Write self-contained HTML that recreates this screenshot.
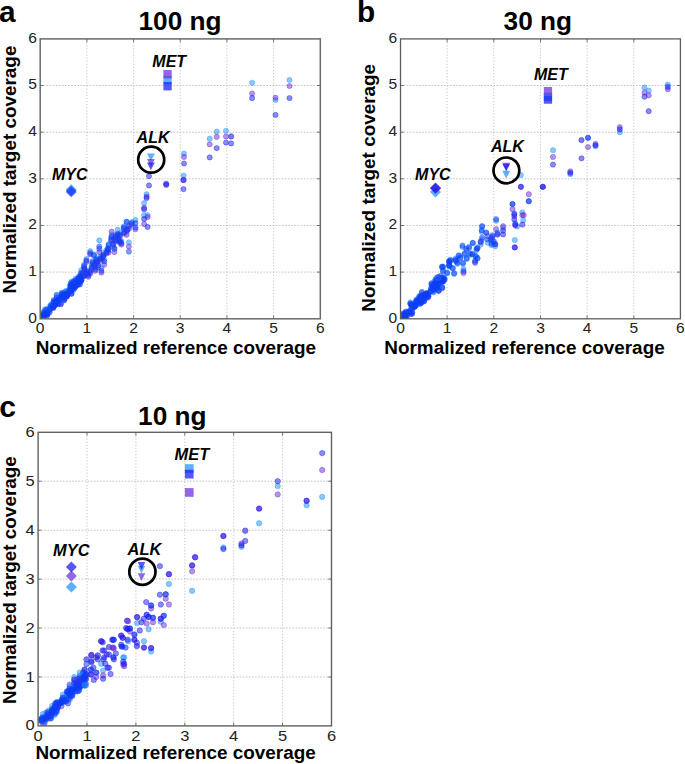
<!DOCTYPE html>
<html><head><meta charset="utf-8"><title>fig</title>
<style>
html,body{margin:0;padding:0;background:#fff;}
body{width:685px;height:764px;overflow:hidden;font-family:"Liberation Sans",sans-serif;}
svg{display:block;font-family:"Liberation Sans",sans-serif;}
.tk{font-size:13.8px;fill:#222;}
.ax{font-size:18.9px;font-weight:bold;fill:#000;}
.tt{font-size:26.2px;font-weight:bold;fill:#000;}
.pl{font-size:31.5px;font-weight:bold;fill:#000;}
.gn{font-size:16px;font-weight:bold;font-style:italic;fill:#000;}
.gr{stroke:#a9a9a9;stroke-width:0.7;stroke-dasharray:1.6 1.5;fill:none;}
.gv{stroke:#b0b0b0;stroke-width:0.7;stroke-dasharray:1.3 1.8;fill:none;}
.tm{stroke:#3c3c3c;stroke-width:0.7;fill:none;}
.fr{stroke:#6e6e6e;stroke-width:1.5;fill:none;}
</style></head><body>
<svg width="685" height="764" viewBox="0 0 685 764">
<rect width="685" height="764" fill="#fff"/>
<g id="panel-a">
<line class="gv" x1="86.9" y1="38.9" x2="86.9" y2="318.8"/>
<line class="gr" x1="40.2" y1="272.1" x2="320.3" y2="272.1"/>
<line class="gv" x1="133.6" y1="38.9" x2="133.6" y2="318.8"/>
<line class="gr" x1="40.2" y1="225.5" x2="320.3" y2="225.5"/>
<line class="gv" x1="180.2" y1="38.9" x2="180.2" y2="318.8"/>
<line class="gr" x1="40.2" y1="178.8" x2="320.3" y2="178.8"/>
<line class="gv" x1="226.9" y1="38.9" x2="226.9" y2="318.8"/>
<line class="gr" x1="40.2" y1="132.2" x2="320.3" y2="132.2"/>
<line class="gv" x1="273.6" y1="38.9" x2="273.6" y2="318.8"/>
<line class="gr" x1="40.2" y1="85.5" x2="320.3" y2="85.5"/>
<clipPath id="cp-a"><rect x="40.2" y="38.9" width="280.1" height="279.9"/></clipPath>
<g clip-path="url(#cp-a)">
<circle cx="64.2" cy="300.5" r="2.6" fill="#6a2cd8" fill-opacity="0.5" stroke="#6a2cd8" stroke-opacity="0.5" stroke-width="0.8"/>
<circle cx="69.5" cy="289.5" r="2.6" fill="#6a2cd8" fill-opacity="0.5" stroke="#6a2cd8" stroke-opacity="0.5" stroke-width="0.8"/>
<circle cx="47.7" cy="311.0" r="2.6" fill="#6a2cd8" fill-opacity="0.5" stroke="#6a2cd8" stroke-opacity="0.5" stroke-width="0.8"/>
<circle cx="44.6" cy="311.2" r="2.6" fill="#6a2cd8" fill-opacity="0.5" stroke="#6a2cd8" stroke-opacity="0.5" stroke-width="0.8"/>
<circle cx="51.0" cy="305.3" r="2.6" fill="#6a2cd8" fill-opacity="0.5" stroke="#6a2cd8" stroke-opacity="0.5" stroke-width="0.8"/>
<circle cx="55.1" cy="303.5" r="2.6" fill="#6a2cd8" fill-opacity="0.5" stroke="#6a2cd8" stroke-opacity="0.5" stroke-width="0.8"/>
<circle cx="66.8" cy="294.4" r="2.6" fill="#6a2cd8" fill-opacity="0.5" stroke="#6a2cd8" stroke-opacity="0.5" stroke-width="0.8"/>
<circle cx="56.7" cy="295.2" r="2.6" fill="#6a2cd8" fill-opacity="0.5" stroke="#6a2cd8" stroke-opacity="0.5" stroke-width="0.8"/>
<circle cx="58.4" cy="299.0" r="2.6" fill="#6a2cd8" fill-opacity="0.5" stroke="#6a2cd8" stroke-opacity="0.5" stroke-width="0.8"/>
<circle cx="62.0" cy="294.1" r="2.6" fill="#6a2cd8" fill-opacity="0.5" stroke="#6a2cd8" stroke-opacity="0.5" stroke-width="0.8"/>
<circle cx="41.2" cy="319.5" r="2.6" fill="#6a2cd8" fill-opacity="0.5" stroke="#6a2cd8" stroke-opacity="0.5" stroke-width="0.8"/>
<circle cx="61.9" cy="294.4" r="2.6" fill="#6a2cd8" fill-opacity="0.5" stroke="#6a2cd8" stroke-opacity="0.5" stroke-width="0.8"/>
<circle cx="47.3" cy="313.8" r="2.6" fill="#6a2cd8" fill-opacity="0.5" stroke="#6a2cd8" stroke-opacity="0.5" stroke-width="0.8"/>
<circle cx="55.3" cy="303.0" r="2.6" fill="#6a2cd8" fill-opacity="0.5" stroke="#6a2cd8" stroke-opacity="0.5" stroke-width="0.8"/>
<circle cx="68.4" cy="292.1" r="2.6" fill="#6a2cd8" fill-opacity="0.5" stroke="#6a2cd8" stroke-opacity="0.5" stroke-width="0.8"/>
<circle cx="71.7" cy="285.3" r="2.6" fill="#6a2cd8" fill-opacity="0.5" stroke="#6a2cd8" stroke-opacity="0.5" stroke-width="0.8"/>
<circle cx="83.5" cy="274.2" r="2.6" fill="#6a2cd8" fill-opacity="0.5" stroke="#6a2cd8" stroke-opacity="0.5" stroke-width="0.8"/>
<circle cx="61.8" cy="293.2" r="2.6" fill="#6a2cd8" fill-opacity="0.5" stroke="#6a2cd8" stroke-opacity="0.5" stroke-width="0.8"/>
<circle cx="53.7" cy="305.8" r="2.6" fill="#6a2cd8" fill-opacity="0.5" stroke="#6a2cd8" stroke-opacity="0.5" stroke-width="0.8"/>
<circle cx="46.5" cy="310.7" r="2.6" fill="#6a2cd8" fill-opacity="0.5" stroke="#6a2cd8" stroke-opacity="0.5" stroke-width="0.8"/>
<circle cx="60.8" cy="304.4" r="2.6" fill="#6a2cd8" fill-opacity="0.5" stroke="#6a2cd8" stroke-opacity="0.5" stroke-width="0.8"/>
<circle cx="79.8" cy="277.1" r="2.6" fill="#6a2cd8" fill-opacity="0.5" stroke="#6a2cd8" stroke-opacity="0.5" stroke-width="0.8"/>
<circle cx="55.4" cy="301.9" r="2.6" fill="#6a2cd8" fill-opacity="0.5" stroke="#6a2cd8" stroke-opacity="0.5" stroke-width="0.8"/>
<circle cx="82.8" cy="273.9" r="2.6" fill="#6a2cd8" fill-opacity="0.5" stroke="#6a2cd8" stroke-opacity="0.5" stroke-width="0.8"/>
<circle cx="44.4" cy="313.8" r="2.6" fill="#6a2cd8" fill-opacity="0.5" stroke="#6a2cd8" stroke-opacity="0.5" stroke-width="0.8"/>
<circle cx="78.3" cy="281.8" r="2.6" fill="#6a2cd8" fill-opacity="0.5" stroke="#6a2cd8" stroke-opacity="0.5" stroke-width="0.8"/>
<circle cx="46.2" cy="311.7" r="2.6" fill="#6a2cd8" fill-opacity="0.5" stroke="#6a2cd8" stroke-opacity="0.5" stroke-width="0.8"/>
<circle cx="56.8" cy="300.3" r="2.6" fill="#6a2cd8" fill-opacity="0.5" stroke="#6a2cd8" stroke-opacity="0.5" stroke-width="0.8"/>
<circle cx="63.9" cy="294.7" r="2.6" fill="#6a2cd8" fill-opacity="0.5" stroke="#6a2cd8" stroke-opacity="0.5" stroke-width="0.8"/>
<circle cx="49.7" cy="310.3" r="2.6" fill="#6a2cd8" fill-opacity="0.5" stroke="#6a2cd8" stroke-opacity="0.5" stroke-width="0.8"/>
<circle cx="73.4" cy="286.6" r="2.6" fill="#6a2cd8" fill-opacity="0.5" stroke="#6a2cd8" stroke-opacity="0.5" stroke-width="0.8"/>
<circle cx="81.4" cy="278.4" r="2.6" fill="#6a2cd8" fill-opacity="0.5" stroke="#6a2cd8" stroke-opacity="0.5" stroke-width="0.8"/>
<circle cx="65.4" cy="293.5" r="2.6" fill="#6a2cd8" fill-opacity="0.5" stroke="#6a2cd8" stroke-opacity="0.5" stroke-width="0.8"/>
<circle cx="67.9" cy="291.6" r="2.6" fill="#6a2cd8" fill-opacity="0.5" stroke="#6a2cd8" stroke-opacity="0.5" stroke-width="0.8"/>
<circle cx="77.2" cy="280.6" r="2.6" fill="#6a2cd8" fill-opacity="0.5" stroke="#6a2cd8" stroke-opacity="0.5" stroke-width="0.8"/>
<circle cx="80.0" cy="282.3" r="2.6" fill="#6a2cd8" fill-opacity="0.5" stroke="#6a2cd8" stroke-opacity="0.5" stroke-width="0.8"/>
<circle cx="70.9" cy="290.7" r="2.6" fill="#6a2cd8" fill-opacity="0.5" stroke="#6a2cd8" stroke-opacity="0.5" stroke-width="0.8"/>
<circle cx="71.5" cy="282.7" r="2.6" fill="#6a2cd8" fill-opacity="0.5" stroke="#6a2cd8" stroke-opacity="0.5" stroke-width="0.8"/>
<circle cx="75.1" cy="286.1" r="2.6" fill="#6a2cd8" fill-opacity="0.5" stroke="#6a2cd8" stroke-opacity="0.5" stroke-width="0.8"/>
<circle cx="75.6" cy="280.7" r="2.6" fill="#6a2cd8" fill-opacity="0.5" stroke="#6a2cd8" stroke-opacity="0.5" stroke-width="0.8"/>
<circle cx="73.7" cy="288.1" r="2.6" fill="#6a2cd8" fill-opacity="0.5" stroke="#6a2cd8" stroke-opacity="0.5" stroke-width="0.8"/>
<circle cx="42.3" cy="317.2" r="2.6" fill="#6a2cd8" fill-opacity="0.5" stroke="#6a2cd8" stroke-opacity="0.5" stroke-width="0.8"/>
<circle cx="81.2" cy="278.7" r="2.6" fill="#6a2cd8" fill-opacity="0.5" stroke="#6a2cd8" stroke-opacity="0.5" stroke-width="0.8"/>
<circle cx="72.5" cy="285.0" r="2.6" fill="#6a2cd8" fill-opacity="0.5" stroke="#6a2cd8" stroke-opacity="0.5" stroke-width="0.8"/>
<circle cx="80.3" cy="281.5" r="2.6" fill="#6a2cd8" fill-opacity="0.5" stroke="#6a2cd8" stroke-opacity="0.5" stroke-width="0.8"/>
<circle cx="65.9" cy="291.4" r="2.6" fill="#6a2cd8" fill-opacity="0.5" stroke="#6a2cd8" stroke-opacity="0.5" stroke-width="0.8"/>
<circle cx="56.7" cy="301.4" r="2.6" fill="#6a2cd8" fill-opacity="0.5" stroke="#6a2cd8" stroke-opacity="0.5" stroke-width="0.8"/>
<circle cx="62.6" cy="298.9" r="2.6" fill="#6a2cd8" fill-opacity="0.5" stroke="#6a2cd8" stroke-opacity="0.5" stroke-width="0.8"/>
<circle cx="83.9" cy="274.3" r="2.6" fill="#6a2cd8" fill-opacity="0.5" stroke="#6a2cd8" stroke-opacity="0.5" stroke-width="0.8"/>
<circle cx="44.5" cy="315.6" r="2.6" fill="#6a2cd8" fill-opacity="0.5" stroke="#6a2cd8" stroke-opacity="0.5" stroke-width="0.8"/>
<circle cx="43.0" cy="313.2" r="2.6" fill="#6a2cd8" fill-opacity="0.5" stroke="#6a2cd8" stroke-opacity="0.5" stroke-width="0.8"/>
<circle cx="54.9" cy="304.5" r="2.6" fill="#6a2cd8" fill-opacity="0.5" stroke="#6a2cd8" stroke-opacity="0.5" stroke-width="0.8"/>
<circle cx="71.1" cy="288.9" r="2.6" fill="#6a2cd8" fill-opacity="0.5" stroke="#6a2cd8" stroke-opacity="0.5" stroke-width="0.8"/>
<circle cx="53.1" cy="306.0" r="2.6" fill="#6a2cd8" fill-opacity="0.5" stroke="#6a2cd8" stroke-opacity="0.5" stroke-width="0.8"/>
<circle cx="74.3" cy="284.7" r="2.6" fill="#6a2cd8" fill-opacity="0.5" stroke="#6a2cd8" stroke-opacity="0.5" stroke-width="0.8"/>
<circle cx="66.9" cy="296.3" r="2.6" fill="#6a2cd8" fill-opacity="0.5" stroke="#6a2cd8" stroke-opacity="0.5" stroke-width="0.8"/>
<circle cx="81.3" cy="272.5" r="2.6" fill="#6a2cd8" fill-opacity="0.5" stroke="#6a2cd8" stroke-opacity="0.5" stroke-width="0.8"/>
<circle cx="64.2" cy="299.0" r="2.6" fill="#6a2cd8" fill-opacity="0.5" stroke="#6a2cd8" stroke-opacity="0.5" stroke-width="0.8"/>
<circle cx="80.3" cy="278.2" r="2.6" fill="#6a2cd8" fill-opacity="0.5" stroke="#6a2cd8" stroke-opacity="0.5" stroke-width="0.8"/>
<circle cx="53.3" cy="307.2" r="2.6" fill="#6a2cd8" fill-opacity="0.5" stroke="#6a2cd8" stroke-opacity="0.5" stroke-width="0.8"/>
<circle cx="53.7" cy="300.0" r="2.6" fill="#6a2cd8" fill-opacity="0.5" stroke="#6a2cd8" stroke-opacity="0.5" stroke-width="0.8"/>
<circle cx="77.1" cy="283.8" r="2.6" fill="#6a2cd8" fill-opacity="0.5" stroke="#6a2cd8" stroke-opacity="0.5" stroke-width="0.8"/>
<circle cx="47.0" cy="313.7" r="2.6" fill="#6a2cd8" fill-opacity="0.5" stroke="#6a2cd8" stroke-opacity="0.5" stroke-width="0.8"/>
<circle cx="43.6" cy="315.0" r="2.6" fill="#6a2cd8" fill-opacity="0.5" stroke="#6a2cd8" stroke-opacity="0.5" stroke-width="0.8"/>
<circle cx="59.2" cy="298.9" r="2.6" fill="#6a2cd8" fill-opacity="0.5" stroke="#6a2cd8" stroke-opacity="0.5" stroke-width="0.8"/>
<circle cx="74.6" cy="281.3" r="2.6" fill="#6a2cd8" fill-opacity="0.5" stroke="#6a2cd8" stroke-opacity="0.5" stroke-width="0.8"/>
<circle cx="82.8" cy="275.4" r="2.6" fill="#6a2cd8" fill-opacity="0.5" stroke="#6a2cd8" stroke-opacity="0.5" stroke-width="0.8"/>
<circle cx="74.8" cy="285.5" r="2.6" fill="#6a2cd8" fill-opacity="0.5" stroke="#6a2cd8" stroke-opacity="0.5" stroke-width="0.8"/>
<circle cx="58.2" cy="303.1" r="2.6" fill="#6a2cd8" fill-opacity="0.5" stroke="#6a2cd8" stroke-opacity="0.5" stroke-width="0.8"/>
<circle cx="79.3" cy="277.2" r="2.6" fill="#6a2cd8" fill-opacity="0.5" stroke="#6a2cd8" stroke-opacity="0.5" stroke-width="0.8"/>
<circle cx="67.5" cy="292.2" r="2.6" fill="#6a2cd8" fill-opacity="0.5" stroke="#6a2cd8" stroke-opacity="0.5" stroke-width="0.8"/>
<circle cx="66.7" cy="296.6" r="2.6" fill="#6a2cd8" fill-opacity="0.5" stroke="#6a2cd8" stroke-opacity="0.5" stroke-width="0.8"/>
<circle cx="73.4" cy="284.8" r="2.6" fill="#6a2cd8" fill-opacity="0.5" stroke="#6a2cd8" stroke-opacity="0.5" stroke-width="0.8"/>
<circle cx="81.9" cy="276.8" r="2.6" fill="#6a2cd8" fill-opacity="0.5" stroke="#6a2cd8" stroke-opacity="0.5" stroke-width="0.8"/>
<circle cx="78.0" cy="278.9" r="2.6" fill="#6a2cd8" fill-opacity="0.5" stroke="#6a2cd8" stroke-opacity="0.5" stroke-width="0.8"/>
<circle cx="70.7" cy="287.2" r="2.6" fill="#6a2cd8" fill-opacity="0.5" stroke="#6a2cd8" stroke-opacity="0.5" stroke-width="0.8"/>
<circle cx="52.8" cy="306.2" r="2.6" fill="#6a2cd8" fill-opacity="0.5" stroke="#6a2cd8" stroke-opacity="0.5" stroke-width="0.8"/>
<circle cx="70.7" cy="284.5" r="2.6" fill="#6a2cd8" fill-opacity="0.5" stroke="#6a2cd8" stroke-opacity="0.5" stroke-width="0.8"/>
<circle cx="55.5" cy="303.6" r="2.6" fill="#6a2cd8" fill-opacity="0.5" stroke="#6a2cd8" stroke-opacity="0.5" stroke-width="0.8"/>
<circle cx="62.5" cy="297.3" r="2.6" fill="#6a2cd8" fill-opacity="0.5" stroke="#6a2cd8" stroke-opacity="0.5" stroke-width="0.8"/>
<circle cx="71.5" cy="293.5" r="2.6" fill="#6a2cd8" fill-opacity="0.5" stroke="#6a2cd8" stroke-opacity="0.5" stroke-width="0.8"/>
<circle cx="54.7" cy="303.9" r="2.6" fill="#6a2cd8" fill-opacity="0.5" stroke="#6a2cd8" stroke-opacity="0.5" stroke-width="0.8"/>
<circle cx="58.4" cy="297.5" r="2.6" fill="#6a2cd8" fill-opacity="0.5" stroke="#6a2cd8" stroke-opacity="0.5" stroke-width="0.8"/>
<circle cx="49.8" cy="309.0" r="2.6" fill="#6a2cd8" fill-opacity="0.5" stroke="#6a2cd8" stroke-opacity="0.5" stroke-width="0.8"/>
<circle cx="78.6" cy="283.8" r="2.6" fill="#6a2cd8" fill-opacity="0.5" stroke="#6a2cd8" stroke-opacity="0.5" stroke-width="0.8"/>
<circle cx="64.2" cy="299.0" r="2.6" fill="#1e90ff" fill-opacity="0.5" stroke="#1e90ff" stroke-opacity="0.5" stroke-width="0.8"/>
<circle cx="69.5" cy="286.2" r="2.6" fill="#1e90ff" fill-opacity="0.5" stroke="#1e90ff" stroke-opacity="0.5" stroke-width="0.8"/>
<circle cx="47.7" cy="310.0" r="2.6" fill="#1e90ff" fill-opacity="0.5" stroke="#1e90ff" stroke-opacity="0.5" stroke-width="0.8"/>
<circle cx="44.6" cy="309.6" r="2.6" fill="#1e90ff" fill-opacity="0.5" stroke="#1e90ff" stroke-opacity="0.5" stroke-width="0.8"/>
<circle cx="51.0" cy="304.6" r="2.6" fill="#1e90ff" fill-opacity="0.5" stroke="#1e90ff" stroke-opacity="0.5" stroke-width="0.8"/>
<circle cx="55.1" cy="300.5" r="2.6" fill="#1e90ff" fill-opacity="0.5" stroke="#1e90ff" stroke-opacity="0.5" stroke-width="0.8"/>
<circle cx="66.8" cy="293.5" r="2.6" fill="#1e90ff" fill-opacity="0.5" stroke="#1e90ff" stroke-opacity="0.5" stroke-width="0.8"/>
<circle cx="56.7" cy="294.8" r="2.6" fill="#1e90ff" fill-opacity="0.5" stroke="#1e90ff" stroke-opacity="0.5" stroke-width="0.8"/>
<circle cx="58.4" cy="298.5" r="2.6" fill="#1e90ff" fill-opacity="0.5" stroke="#1e90ff" stroke-opacity="0.5" stroke-width="0.8"/>
<circle cx="62.0" cy="295.4" r="2.6" fill="#1e90ff" fill-opacity="0.5" stroke="#1e90ff" stroke-opacity="0.5" stroke-width="0.8"/>
<circle cx="41.2" cy="313.8" r="2.6" fill="#1e90ff" fill-opacity="0.5" stroke="#1e90ff" stroke-opacity="0.5" stroke-width="0.8"/>
<circle cx="61.9" cy="292.7" r="2.6" fill="#1e90ff" fill-opacity="0.5" stroke="#1e90ff" stroke-opacity="0.5" stroke-width="0.8"/>
<circle cx="47.3" cy="310.5" r="2.6" fill="#1e90ff" fill-opacity="0.5" stroke="#1e90ff" stroke-opacity="0.5" stroke-width="0.8"/>
<circle cx="55.3" cy="301.8" r="2.6" fill="#1e90ff" fill-opacity="0.5" stroke="#1e90ff" stroke-opacity="0.5" stroke-width="0.8"/>
<circle cx="68.4" cy="290.7" r="2.6" fill="#1e90ff" fill-opacity="0.5" stroke="#1e90ff" stroke-opacity="0.5" stroke-width="0.8"/>
<circle cx="71.7" cy="283.7" r="2.6" fill="#1e90ff" fill-opacity="0.5" stroke="#1e90ff" stroke-opacity="0.5" stroke-width="0.8"/>
<circle cx="83.5" cy="274.3" r="2.6" fill="#1e90ff" fill-opacity="0.5" stroke="#1e90ff" stroke-opacity="0.5" stroke-width="0.8"/>
<circle cx="61.8" cy="295.3" r="2.6" fill="#1e90ff" fill-opacity="0.5" stroke="#1e90ff" stroke-opacity="0.5" stroke-width="0.8"/>
<circle cx="53.7" cy="302.7" r="2.6" fill="#1e90ff" fill-opacity="0.5" stroke="#1e90ff" stroke-opacity="0.5" stroke-width="0.8"/>
<circle cx="46.5" cy="308.9" r="2.6" fill="#1e90ff" fill-opacity="0.5" stroke="#1e90ff" stroke-opacity="0.5" stroke-width="0.8"/>
<circle cx="60.8" cy="301.3" r="2.6" fill="#1e90ff" fill-opacity="0.5" stroke="#1e90ff" stroke-opacity="0.5" stroke-width="0.8"/>
<circle cx="79.8" cy="276.9" r="2.6" fill="#1e90ff" fill-opacity="0.5" stroke="#1e90ff" stroke-opacity="0.5" stroke-width="0.8"/>
<circle cx="55.4" cy="299.9" r="2.6" fill="#1e90ff" fill-opacity="0.5" stroke="#1e90ff" stroke-opacity="0.5" stroke-width="0.8"/>
<circle cx="82.8" cy="273.2" r="2.6" fill="#1e90ff" fill-opacity="0.5" stroke="#1e90ff" stroke-opacity="0.5" stroke-width="0.8"/>
<circle cx="44.4" cy="312.5" r="2.6" fill="#1e90ff" fill-opacity="0.5" stroke="#1e90ff" stroke-opacity="0.5" stroke-width="0.8"/>
<circle cx="78.3" cy="281.8" r="2.6" fill="#1e90ff" fill-opacity="0.5" stroke="#1e90ff" stroke-opacity="0.5" stroke-width="0.8"/>
<circle cx="46.2" cy="310.1" r="2.6" fill="#1e90ff" fill-opacity="0.5" stroke="#1e90ff" stroke-opacity="0.5" stroke-width="0.8"/>
<circle cx="56.8" cy="300.2" r="2.6" fill="#1e90ff" fill-opacity="0.5" stroke="#1e90ff" stroke-opacity="0.5" stroke-width="0.8"/>
<circle cx="63.9" cy="292.5" r="2.6" fill="#1e90ff" fill-opacity="0.5" stroke="#1e90ff" stroke-opacity="0.5" stroke-width="0.8"/>
<circle cx="49.7" cy="309.0" r="2.6" fill="#1e90ff" fill-opacity="0.5" stroke="#1e90ff" stroke-opacity="0.5" stroke-width="0.8"/>
<circle cx="73.4" cy="285.8" r="2.6" fill="#1e90ff" fill-opacity="0.5" stroke="#1e90ff" stroke-opacity="0.5" stroke-width="0.8"/>
<circle cx="81.4" cy="280.8" r="2.6" fill="#1e90ff" fill-opacity="0.5" stroke="#1e90ff" stroke-opacity="0.5" stroke-width="0.8"/>
<circle cx="65.4" cy="293.5" r="2.6" fill="#1e90ff" fill-opacity="0.5" stroke="#1e90ff" stroke-opacity="0.5" stroke-width="0.8"/>
<circle cx="67.9" cy="292.4" r="2.6" fill="#1e90ff" fill-opacity="0.5" stroke="#1e90ff" stroke-opacity="0.5" stroke-width="0.8"/>
<circle cx="77.2" cy="279.0" r="2.6" fill="#1e90ff" fill-opacity="0.5" stroke="#1e90ff" stroke-opacity="0.5" stroke-width="0.8"/>
<circle cx="80.0" cy="281.1" r="2.6" fill="#1e90ff" fill-opacity="0.5" stroke="#1e90ff" stroke-opacity="0.5" stroke-width="0.8"/>
<circle cx="70.9" cy="288.4" r="2.6" fill="#1e90ff" fill-opacity="0.5" stroke="#1e90ff" stroke-opacity="0.5" stroke-width="0.8"/>
<circle cx="71.5" cy="281.5" r="2.6" fill="#1e90ff" fill-opacity="0.5" stroke="#1e90ff" stroke-opacity="0.5" stroke-width="0.8"/>
<circle cx="75.1" cy="285.6" r="2.6" fill="#1e90ff" fill-opacity="0.5" stroke="#1e90ff" stroke-opacity="0.5" stroke-width="0.8"/>
<circle cx="75.6" cy="278.6" r="2.6" fill="#1e90ff" fill-opacity="0.5" stroke="#1e90ff" stroke-opacity="0.5" stroke-width="0.8"/>
<circle cx="73.7" cy="287.5" r="2.6" fill="#1e90ff" fill-opacity="0.5" stroke="#1e90ff" stroke-opacity="0.5" stroke-width="0.8"/>
<circle cx="42.3" cy="314.9" r="2.6" fill="#1e90ff" fill-opacity="0.5" stroke="#1e90ff" stroke-opacity="0.5" stroke-width="0.8"/>
<circle cx="81.2" cy="279.0" r="2.6" fill="#1e90ff" fill-opacity="0.5" stroke="#1e90ff" stroke-opacity="0.5" stroke-width="0.8"/>
<circle cx="72.5" cy="283.6" r="2.6" fill="#1e90ff" fill-opacity="0.5" stroke="#1e90ff" stroke-opacity="0.5" stroke-width="0.8"/>
<circle cx="80.3" cy="279.3" r="2.6" fill="#1e90ff" fill-opacity="0.5" stroke="#1e90ff" stroke-opacity="0.5" stroke-width="0.8"/>
<circle cx="65.9" cy="291.2" r="2.6" fill="#1e90ff" fill-opacity="0.5" stroke="#1e90ff" stroke-opacity="0.5" stroke-width="0.8"/>
<circle cx="56.7" cy="299.3" r="2.6" fill="#1e90ff" fill-opacity="0.5" stroke="#1e90ff" stroke-opacity="0.5" stroke-width="0.8"/>
<circle cx="62.6" cy="297.8" r="2.6" fill="#1e90ff" fill-opacity="0.5" stroke="#1e90ff" stroke-opacity="0.5" stroke-width="0.8"/>
<circle cx="83.9" cy="274.9" r="2.6" fill="#1e90ff" fill-opacity="0.5" stroke="#1e90ff" stroke-opacity="0.5" stroke-width="0.8"/>
<circle cx="44.5" cy="315.0" r="2.6" fill="#1e90ff" fill-opacity="0.5" stroke="#1e90ff" stroke-opacity="0.5" stroke-width="0.8"/>
<circle cx="43.0" cy="313.0" r="2.6" fill="#1e90ff" fill-opacity="0.5" stroke="#1e90ff" stroke-opacity="0.5" stroke-width="0.8"/>
<circle cx="54.9" cy="302.4" r="2.6" fill="#1e90ff" fill-opacity="0.5" stroke="#1e90ff" stroke-opacity="0.5" stroke-width="0.8"/>
<circle cx="71.1" cy="290.5" r="2.6" fill="#1e90ff" fill-opacity="0.5" stroke="#1e90ff" stroke-opacity="0.5" stroke-width="0.8"/>
<circle cx="53.1" cy="305.8" r="2.6" fill="#1e90ff" fill-opacity="0.5" stroke="#1e90ff" stroke-opacity="0.5" stroke-width="0.8"/>
<circle cx="74.3" cy="282.0" r="2.6" fill="#1e90ff" fill-opacity="0.5" stroke="#1e90ff" stroke-opacity="0.5" stroke-width="0.8"/>
<circle cx="66.9" cy="294.8" r="2.6" fill="#1e90ff" fill-opacity="0.5" stroke="#1e90ff" stroke-opacity="0.5" stroke-width="0.8"/>
<circle cx="81.3" cy="270.1" r="2.6" fill="#1e90ff" fill-opacity="0.5" stroke="#1e90ff" stroke-opacity="0.5" stroke-width="0.8"/>
<circle cx="64.2" cy="298.4" r="2.6" fill="#1e90ff" fill-opacity="0.5" stroke="#1e90ff" stroke-opacity="0.5" stroke-width="0.8"/>
<circle cx="80.3" cy="277.8" r="2.6" fill="#1e90ff" fill-opacity="0.5" stroke="#1e90ff" stroke-opacity="0.5" stroke-width="0.8"/>
<circle cx="53.3" cy="306.8" r="2.6" fill="#1e90ff" fill-opacity="0.5" stroke="#1e90ff" stroke-opacity="0.5" stroke-width="0.8"/>
<circle cx="53.7" cy="301.5" r="2.6" fill="#1e90ff" fill-opacity="0.5" stroke="#1e90ff" stroke-opacity="0.5" stroke-width="0.8"/>
<circle cx="77.1" cy="281.3" r="2.6" fill="#1e90ff" fill-opacity="0.5" stroke="#1e90ff" stroke-opacity="0.5" stroke-width="0.8"/>
<circle cx="47.0" cy="312.3" r="2.6" fill="#1e90ff" fill-opacity="0.5" stroke="#1e90ff" stroke-opacity="0.5" stroke-width="0.8"/>
<circle cx="43.6" cy="314.3" r="2.6" fill="#1e90ff" fill-opacity="0.5" stroke="#1e90ff" stroke-opacity="0.5" stroke-width="0.8"/>
<circle cx="59.2" cy="298.9" r="2.6" fill="#1e90ff" fill-opacity="0.5" stroke="#1e90ff" stroke-opacity="0.5" stroke-width="0.8"/>
<circle cx="74.6" cy="282.4" r="2.6" fill="#1e90ff" fill-opacity="0.5" stroke="#1e90ff" stroke-opacity="0.5" stroke-width="0.8"/>
<circle cx="82.8" cy="273.1" r="2.6" fill="#1e90ff" fill-opacity="0.5" stroke="#1e90ff" stroke-opacity="0.5" stroke-width="0.8"/>
<circle cx="74.8" cy="285.8" r="2.6" fill="#1e90ff" fill-opacity="0.5" stroke="#1e90ff" stroke-opacity="0.5" stroke-width="0.8"/>
<circle cx="58.2" cy="301.2" r="2.6" fill="#1e90ff" fill-opacity="0.5" stroke="#1e90ff" stroke-opacity="0.5" stroke-width="0.8"/>
<circle cx="79.3" cy="275.7" r="2.6" fill="#1e90ff" fill-opacity="0.5" stroke="#1e90ff" stroke-opacity="0.5" stroke-width="0.8"/>
<circle cx="67.5" cy="293.5" r="2.6" fill="#1e90ff" fill-opacity="0.5" stroke="#1e90ff" stroke-opacity="0.5" stroke-width="0.8"/>
<circle cx="66.7" cy="293.4" r="2.6" fill="#1e90ff" fill-opacity="0.5" stroke="#1e90ff" stroke-opacity="0.5" stroke-width="0.8"/>
<circle cx="73.4" cy="281.2" r="2.6" fill="#1e90ff" fill-opacity="0.5" stroke="#1e90ff" stroke-opacity="0.5" stroke-width="0.8"/>
<circle cx="81.9" cy="275.3" r="2.6" fill="#1e90ff" fill-opacity="0.5" stroke="#1e90ff" stroke-opacity="0.5" stroke-width="0.8"/>
<circle cx="78.0" cy="278.1" r="2.6" fill="#1e90ff" fill-opacity="0.5" stroke="#1e90ff" stroke-opacity="0.5" stroke-width="0.8"/>
<circle cx="70.7" cy="286.3" r="2.6" fill="#1e90ff" fill-opacity="0.5" stroke="#1e90ff" stroke-opacity="0.5" stroke-width="0.8"/>
<circle cx="52.8" cy="303.2" r="2.6" fill="#1e90ff" fill-opacity="0.5" stroke="#1e90ff" stroke-opacity="0.5" stroke-width="0.8"/>
<circle cx="70.7" cy="283.2" r="2.6" fill="#1e90ff" fill-opacity="0.5" stroke="#1e90ff" stroke-opacity="0.5" stroke-width="0.8"/>
<circle cx="55.5" cy="300.5" r="2.6" fill="#1e90ff" fill-opacity="0.5" stroke="#1e90ff" stroke-opacity="0.5" stroke-width="0.8"/>
<circle cx="62.5" cy="296.6" r="2.6" fill="#1e90ff" fill-opacity="0.5" stroke="#1e90ff" stroke-opacity="0.5" stroke-width="0.8"/>
<circle cx="71.5" cy="291.3" r="2.6" fill="#1e90ff" fill-opacity="0.5" stroke="#1e90ff" stroke-opacity="0.5" stroke-width="0.8"/>
<circle cx="54.7" cy="305.1" r="2.6" fill="#1e90ff" fill-opacity="0.5" stroke="#1e90ff" stroke-opacity="0.5" stroke-width="0.8"/>
<circle cx="58.4" cy="298.6" r="2.6" fill="#1e90ff" fill-opacity="0.5" stroke="#1e90ff" stroke-opacity="0.5" stroke-width="0.8"/>
<circle cx="49.8" cy="306.3" r="2.6" fill="#1e90ff" fill-opacity="0.5" stroke="#1e90ff" stroke-opacity="0.5" stroke-width="0.8"/>
<circle cx="78.6" cy="282.5" r="2.6" fill="#1e90ff" fill-opacity="0.5" stroke="#1e90ff" stroke-opacity="0.5" stroke-width="0.8"/>
<circle cx="64.2" cy="299.6" r="2.6" fill="#0f3cf5" fill-opacity="0.5" stroke="#0f3cf5" stroke-opacity="0.5" stroke-width="0.8"/>
<circle cx="69.5" cy="290.1" r="2.6" fill="#0f3cf5" fill-opacity="0.5" stroke="#0f3cf5" stroke-opacity="0.5" stroke-width="0.8"/>
<circle cx="47.7" cy="313.4" r="2.6" fill="#0f3cf5" fill-opacity="0.5" stroke="#0f3cf5" stroke-opacity="0.5" stroke-width="0.8"/>
<circle cx="44.6" cy="312.0" r="2.6" fill="#0f3cf5" fill-opacity="0.5" stroke="#0f3cf5" stroke-opacity="0.5" stroke-width="0.8"/>
<circle cx="51.0" cy="306.1" r="2.6" fill="#0f3cf5" fill-opacity="0.5" stroke="#0f3cf5" stroke-opacity="0.5" stroke-width="0.8"/>
<circle cx="55.1" cy="301.7" r="2.6" fill="#0f3cf5" fill-opacity="0.5" stroke="#0f3cf5" stroke-opacity="0.5" stroke-width="0.8"/>
<circle cx="66.8" cy="295.2" r="2.6" fill="#0f3cf5" fill-opacity="0.5" stroke="#0f3cf5" stroke-opacity="0.5" stroke-width="0.8"/>
<circle cx="56.7" cy="297.6" r="2.6" fill="#0f3cf5" fill-opacity="0.5" stroke="#0f3cf5" stroke-opacity="0.5" stroke-width="0.8"/>
<circle cx="58.4" cy="300.2" r="2.6" fill="#0f3cf5" fill-opacity="0.5" stroke="#0f3cf5" stroke-opacity="0.5" stroke-width="0.8"/>
<circle cx="62.0" cy="296.8" r="2.6" fill="#0f3cf5" fill-opacity="0.5" stroke="#0f3cf5" stroke-opacity="0.5" stroke-width="0.8"/>
<circle cx="41.2" cy="316.9" r="2.6" fill="#0f3cf5" fill-opacity="0.5" stroke="#0f3cf5" stroke-opacity="0.5" stroke-width="0.8"/>
<circle cx="61.9" cy="295.7" r="2.6" fill="#0f3cf5" fill-opacity="0.5" stroke="#0f3cf5" stroke-opacity="0.5" stroke-width="0.8"/>
<circle cx="47.3" cy="314.7" r="2.6" fill="#0f3cf5" fill-opacity="0.5" stroke="#0f3cf5" stroke-opacity="0.5" stroke-width="0.8"/>
<circle cx="55.3" cy="304.2" r="2.6" fill="#0f3cf5" fill-opacity="0.5" stroke="#0f3cf5" stroke-opacity="0.5" stroke-width="0.8"/>
<circle cx="68.4" cy="293.0" r="2.6" fill="#0f3cf5" fill-opacity="0.5" stroke="#0f3cf5" stroke-opacity="0.5" stroke-width="0.8"/>
<circle cx="71.7" cy="285.3" r="2.6" fill="#0f3cf5" fill-opacity="0.5" stroke="#0f3cf5" stroke-opacity="0.5" stroke-width="0.8"/>
<circle cx="83.5" cy="275.6" r="2.6" fill="#0f3cf5" fill-opacity="0.5" stroke="#0f3cf5" stroke-opacity="0.5" stroke-width="0.8"/>
<circle cx="61.8" cy="294.3" r="2.6" fill="#0f3cf5" fill-opacity="0.5" stroke="#0f3cf5" stroke-opacity="0.5" stroke-width="0.8"/>
<circle cx="53.7" cy="305.2" r="2.6" fill="#0f3cf5" fill-opacity="0.5" stroke="#0f3cf5" stroke-opacity="0.5" stroke-width="0.8"/>
<circle cx="46.5" cy="309.9" r="2.6" fill="#0f3cf5" fill-opacity="0.5" stroke="#0f3cf5" stroke-opacity="0.5" stroke-width="0.8"/>
<circle cx="60.8" cy="303.5" r="2.6" fill="#0f3cf5" fill-opacity="0.5" stroke="#0f3cf5" stroke-opacity="0.5" stroke-width="0.8"/>
<circle cx="79.8" cy="280.0" r="2.6" fill="#0f3cf5" fill-opacity="0.5" stroke="#0f3cf5" stroke-opacity="0.5" stroke-width="0.8"/>
<circle cx="55.4" cy="303.1" r="2.6" fill="#0f3cf5" fill-opacity="0.5" stroke="#0f3cf5" stroke-opacity="0.5" stroke-width="0.8"/>
<circle cx="82.8" cy="273.7" r="2.6" fill="#0f3cf5" fill-opacity="0.5" stroke="#0f3cf5" stroke-opacity="0.5" stroke-width="0.8"/>
<circle cx="44.4" cy="314.7" r="2.6" fill="#0f3cf5" fill-opacity="0.5" stroke="#0f3cf5" stroke-opacity="0.5" stroke-width="0.8"/>
<circle cx="78.3" cy="281.6" r="2.6" fill="#0f3cf5" fill-opacity="0.5" stroke="#0f3cf5" stroke-opacity="0.5" stroke-width="0.8"/>
<circle cx="46.2" cy="314.0" r="2.6" fill="#0f3cf5" fill-opacity="0.5" stroke="#0f3cf5" stroke-opacity="0.5" stroke-width="0.8"/>
<circle cx="56.8" cy="301.4" r="2.6" fill="#0f3cf5" fill-opacity="0.5" stroke="#0f3cf5" stroke-opacity="0.5" stroke-width="0.8"/>
<circle cx="63.9" cy="293.5" r="2.6" fill="#0f3cf5" fill-opacity="0.5" stroke="#0f3cf5" stroke-opacity="0.5" stroke-width="0.8"/>
<circle cx="49.7" cy="312.3" r="2.6" fill="#0f3cf5" fill-opacity="0.5" stroke="#0f3cf5" stroke-opacity="0.5" stroke-width="0.8"/>
<circle cx="73.4" cy="287.2" r="2.6" fill="#0f3cf5" fill-opacity="0.5" stroke="#0f3cf5" stroke-opacity="0.5" stroke-width="0.8"/>
<circle cx="81.4" cy="280.0" r="2.6" fill="#0f3cf5" fill-opacity="0.5" stroke="#0f3cf5" stroke-opacity="0.5" stroke-width="0.8"/>
<circle cx="65.4" cy="294.4" r="2.6" fill="#0f3cf5" fill-opacity="0.5" stroke="#0f3cf5" stroke-opacity="0.5" stroke-width="0.8"/>
<circle cx="67.9" cy="293.4" r="2.6" fill="#0f3cf5" fill-opacity="0.5" stroke="#0f3cf5" stroke-opacity="0.5" stroke-width="0.8"/>
<circle cx="77.2" cy="282.1" r="2.6" fill="#0f3cf5" fill-opacity="0.5" stroke="#0f3cf5" stroke-opacity="0.5" stroke-width="0.8"/>
<circle cx="80.0" cy="284.5" r="2.6" fill="#0f3cf5" fill-opacity="0.5" stroke="#0f3cf5" stroke-opacity="0.5" stroke-width="0.8"/>
<circle cx="70.9" cy="291.1" r="2.6" fill="#0f3cf5" fill-opacity="0.5" stroke="#0f3cf5" stroke-opacity="0.5" stroke-width="0.8"/>
<circle cx="71.5" cy="284.0" r="2.6" fill="#0f3cf5" fill-opacity="0.5" stroke="#0f3cf5" stroke-opacity="0.5" stroke-width="0.8"/>
<circle cx="75.1" cy="287.1" r="2.6" fill="#0f3cf5" fill-opacity="0.5" stroke="#0f3cf5" stroke-opacity="0.5" stroke-width="0.8"/>
<circle cx="75.6" cy="280.4" r="2.6" fill="#0f3cf5" fill-opacity="0.5" stroke="#0f3cf5" stroke-opacity="0.5" stroke-width="0.8"/>
<circle cx="73.7" cy="289.5" r="2.6" fill="#0f3cf5" fill-opacity="0.5" stroke="#0f3cf5" stroke-opacity="0.5" stroke-width="0.8"/>
<circle cx="42.3" cy="317.3" r="2.6" fill="#0f3cf5" fill-opacity="0.5" stroke="#0f3cf5" stroke-opacity="0.5" stroke-width="0.8"/>
<circle cx="81.2" cy="280.3" r="2.6" fill="#0f3cf5" fill-opacity="0.5" stroke="#0f3cf5" stroke-opacity="0.5" stroke-width="0.8"/>
<circle cx="72.5" cy="288.1" r="2.6" fill="#0f3cf5" fill-opacity="0.5" stroke="#0f3cf5" stroke-opacity="0.5" stroke-width="0.8"/>
<circle cx="80.3" cy="281.3" r="2.6" fill="#0f3cf5" fill-opacity="0.5" stroke="#0f3cf5" stroke-opacity="0.5" stroke-width="0.8"/>
<circle cx="65.9" cy="293.5" r="2.6" fill="#0f3cf5" fill-opacity="0.5" stroke="#0f3cf5" stroke-opacity="0.5" stroke-width="0.8"/>
<circle cx="56.7" cy="301.1" r="2.6" fill="#0f3cf5" fill-opacity="0.5" stroke="#0f3cf5" stroke-opacity="0.5" stroke-width="0.8"/>
<circle cx="62.6" cy="297.0" r="2.6" fill="#0f3cf5" fill-opacity="0.5" stroke="#0f3cf5" stroke-opacity="0.5" stroke-width="0.8"/>
<circle cx="83.9" cy="276.2" r="2.6" fill="#0f3cf5" fill-opacity="0.5" stroke="#0f3cf5" stroke-opacity="0.5" stroke-width="0.8"/>
<circle cx="44.5" cy="313.9" r="2.6" fill="#0f3cf5" fill-opacity="0.5" stroke="#0f3cf5" stroke-opacity="0.5" stroke-width="0.8"/>
<circle cx="43.0" cy="315.2" r="2.6" fill="#0f3cf5" fill-opacity="0.5" stroke="#0f3cf5" stroke-opacity="0.5" stroke-width="0.8"/>
<circle cx="54.9" cy="305.0" r="2.6" fill="#0f3cf5" fill-opacity="0.5" stroke="#0f3cf5" stroke-opacity="0.5" stroke-width="0.8"/>
<circle cx="71.1" cy="291.1" r="2.6" fill="#0f3cf5" fill-opacity="0.5" stroke="#0f3cf5" stroke-opacity="0.5" stroke-width="0.8"/>
<circle cx="53.1" cy="307.4" r="2.6" fill="#0f3cf5" fill-opacity="0.5" stroke="#0f3cf5" stroke-opacity="0.5" stroke-width="0.8"/>
<circle cx="74.3" cy="283.2" r="2.6" fill="#0f3cf5" fill-opacity="0.5" stroke="#0f3cf5" stroke-opacity="0.5" stroke-width="0.8"/>
<circle cx="66.9" cy="294.4" r="2.6" fill="#0f3cf5" fill-opacity="0.5" stroke="#0f3cf5" stroke-opacity="0.5" stroke-width="0.8"/>
<circle cx="81.3" cy="273.4" r="2.6" fill="#0f3cf5" fill-opacity="0.5" stroke="#0f3cf5" stroke-opacity="0.5" stroke-width="0.8"/>
<circle cx="64.2" cy="297.8" r="2.6" fill="#0f3cf5" fill-opacity="0.5" stroke="#0f3cf5" stroke-opacity="0.5" stroke-width="0.8"/>
<circle cx="80.3" cy="277.0" r="2.6" fill="#0f3cf5" fill-opacity="0.5" stroke="#0f3cf5" stroke-opacity="0.5" stroke-width="0.8"/>
<circle cx="53.3" cy="307.9" r="2.6" fill="#0f3cf5" fill-opacity="0.5" stroke="#0f3cf5" stroke-opacity="0.5" stroke-width="0.8"/>
<circle cx="53.7" cy="301.7" r="2.6" fill="#0f3cf5" fill-opacity="0.5" stroke="#0f3cf5" stroke-opacity="0.5" stroke-width="0.8"/>
<circle cx="77.1" cy="285.5" r="2.6" fill="#0f3cf5" fill-opacity="0.5" stroke="#0f3cf5" stroke-opacity="0.5" stroke-width="0.8"/>
<circle cx="47.0" cy="315.4" r="2.6" fill="#0f3cf5" fill-opacity="0.5" stroke="#0f3cf5" stroke-opacity="0.5" stroke-width="0.8"/>
<circle cx="43.6" cy="316.2" r="2.6" fill="#0f3cf5" fill-opacity="0.5" stroke="#0f3cf5" stroke-opacity="0.5" stroke-width="0.8"/>
<circle cx="59.2" cy="299.1" r="2.6" fill="#0f3cf5" fill-opacity="0.5" stroke="#0f3cf5" stroke-opacity="0.5" stroke-width="0.8"/>
<circle cx="74.6" cy="283.2" r="2.6" fill="#0f3cf5" fill-opacity="0.5" stroke="#0f3cf5" stroke-opacity="0.5" stroke-width="0.8"/>
<circle cx="82.8" cy="275.2" r="2.6" fill="#0f3cf5" fill-opacity="0.5" stroke="#0f3cf5" stroke-opacity="0.5" stroke-width="0.8"/>
<circle cx="74.8" cy="287.6" r="2.6" fill="#0f3cf5" fill-opacity="0.5" stroke="#0f3cf5" stroke-opacity="0.5" stroke-width="0.8"/>
<circle cx="58.2" cy="304.4" r="2.6" fill="#0f3cf5" fill-opacity="0.5" stroke="#0f3cf5" stroke-opacity="0.5" stroke-width="0.8"/>
<circle cx="79.3" cy="277.3" r="2.6" fill="#0f3cf5" fill-opacity="0.5" stroke="#0f3cf5" stroke-opacity="0.5" stroke-width="0.8"/>
<circle cx="67.5" cy="294.6" r="2.6" fill="#0f3cf5" fill-opacity="0.5" stroke="#0f3cf5" stroke-opacity="0.5" stroke-width="0.8"/>
<circle cx="66.7" cy="296.5" r="2.6" fill="#0f3cf5" fill-opacity="0.5" stroke="#0f3cf5" stroke-opacity="0.5" stroke-width="0.8"/>
<circle cx="73.4" cy="282.1" r="2.6" fill="#0f3cf5" fill-opacity="0.5" stroke="#0f3cf5" stroke-opacity="0.5" stroke-width="0.8"/>
<circle cx="81.9" cy="277.3" r="2.6" fill="#0f3cf5" fill-opacity="0.5" stroke="#0f3cf5" stroke-opacity="0.5" stroke-width="0.8"/>
<circle cx="78.0" cy="278.5" r="2.6" fill="#0f3cf5" fill-opacity="0.5" stroke="#0f3cf5" stroke-opacity="0.5" stroke-width="0.8"/>
<circle cx="70.7" cy="287.9" r="2.6" fill="#0f3cf5" fill-opacity="0.5" stroke="#0f3cf5" stroke-opacity="0.5" stroke-width="0.8"/>
<circle cx="52.8" cy="305.5" r="2.6" fill="#0f3cf5" fill-opacity="0.5" stroke="#0f3cf5" stroke-opacity="0.5" stroke-width="0.8"/>
<circle cx="70.7" cy="284.9" r="2.6" fill="#0f3cf5" fill-opacity="0.5" stroke="#0f3cf5" stroke-opacity="0.5" stroke-width="0.8"/>
<circle cx="55.5" cy="302.9" r="2.6" fill="#0f3cf5" fill-opacity="0.5" stroke="#0f3cf5" stroke-opacity="0.5" stroke-width="0.8"/>
<circle cx="62.5" cy="296.9" r="2.6" fill="#0f3cf5" fill-opacity="0.5" stroke="#0f3cf5" stroke-opacity="0.5" stroke-width="0.8"/>
<circle cx="71.5" cy="293.8" r="2.6" fill="#0f3cf5" fill-opacity="0.5" stroke="#0f3cf5" stroke-opacity="0.5" stroke-width="0.8"/>
<circle cx="54.7" cy="305.5" r="2.6" fill="#0f3cf5" fill-opacity="0.5" stroke="#0f3cf5" stroke-opacity="0.5" stroke-width="0.8"/>
<circle cx="58.4" cy="299.9" r="2.6" fill="#0f3cf5" fill-opacity="0.5" stroke="#0f3cf5" stroke-opacity="0.5" stroke-width="0.8"/>
<circle cx="49.8" cy="309.0" r="2.6" fill="#0f3cf5" fill-opacity="0.5" stroke="#0f3cf5" stroke-opacity="0.5" stroke-width="0.8"/>
<circle cx="78.6" cy="284.3" r="2.6" fill="#0f3cf5" fill-opacity="0.5" stroke="#0f3cf5" stroke-opacity="0.5" stroke-width="0.8"/>
<circle cx="289.5" cy="80.0" r="2.6" fill="#1e90ff" fill-opacity="0.5" stroke="#1e90ff" stroke-opacity="0.5" stroke-width="0.8"/>
<circle cx="252.1" cy="82.8" r="2.6" fill="#1e90ff" fill-opacity="0.5" stroke="#1e90ff" stroke-opacity="0.5" stroke-width="0.8"/>
<circle cx="275.5" cy="100.0" r="2.6" fill="#1e90ff" fill-opacity="0.5" stroke="#1e90ff" stroke-opacity="0.5" stroke-width="0.8"/>
<circle cx="209.7" cy="138.7" r="2.6" fill="#1e90ff" fill-opacity="0.5" stroke="#1e90ff" stroke-opacity="0.5" stroke-width="0.8"/>
<circle cx="216.7" cy="131.7" r="2.6" fill="#1e90ff" fill-opacity="0.5" stroke="#1e90ff" stroke-opacity="0.5" stroke-width="0.8"/>
<circle cx="226.0" cy="130.8" r="2.6" fill="#1e90ff" fill-opacity="0.5" stroke="#1e90ff" stroke-opacity="0.5" stroke-width="0.8"/>
<circle cx="231.1" cy="136.4" r="2.6" fill="#1e90ff" fill-opacity="0.5" stroke="#1e90ff" stroke-opacity="0.5" stroke-width="0.8"/>
<circle cx="184.0" cy="153.7" r="2.6" fill="#1e90ff" fill-opacity="0.5" stroke="#1e90ff" stroke-opacity="0.5" stroke-width="0.8"/>
<circle cx="183.5" cy="175.6" r="2.6" fill="#1e90ff" fill-opacity="0.5" stroke="#1e90ff" stroke-opacity="0.5" stroke-width="0.8"/>
<circle cx="166.2" cy="183.5" r="2.6" fill="#1e90ff" fill-opacity="0.5" stroke="#1e90ff" stroke-opacity="0.5" stroke-width="0.8"/>
<circle cx="146.6" cy="194.2" r="2.6" fill="#1e90ff" fill-opacity="0.5" stroke="#1e90ff" stroke-opacity="0.5" stroke-width="0.8"/>
<circle cx="144.1" cy="203.1" r="2.6" fill="#1e90ff" fill-opacity="0.5" stroke="#1e90ff" stroke-opacity="0.5" stroke-width="0.8"/>
<circle cx="147.6" cy="215.2" r="2.6" fill="#1e90ff" fill-opacity="0.5" stroke="#1e90ff" stroke-opacity="0.5" stroke-width="0.8"/>
<circle cx="144.1" cy="215.2" r="2.6" fill="#1e90ff" fill-opacity="0.5" stroke="#1e90ff" stroke-opacity="0.5" stroke-width="0.8"/>
<circle cx="135.4" cy="219.9" r="2.6" fill="#1e90ff" fill-opacity="0.5" stroke="#1e90ff" stroke-opacity="0.5" stroke-width="0.8"/>
<circle cx="131.7" cy="222.2" r="2.6" fill="#1e90ff" fill-opacity="0.5" stroke="#1e90ff" stroke-opacity="0.5" stroke-width="0.8"/>
<circle cx="126.6" cy="221.8" r="2.6" fill="#1e90ff" fill-opacity="0.5" stroke="#1e90ff" stroke-opacity="0.5" stroke-width="0.8"/>
<circle cx="128.9" cy="242.3" r="2.6" fill="#1e90ff" fill-opacity="0.5" stroke="#1e90ff" stroke-opacity="0.5" stroke-width="0.8"/>
<circle cx="128.9" cy="225.5" r="2.6" fill="#1e90ff" fill-opacity="0.5" stroke="#1e90ff" stroke-opacity="0.5" stroke-width="0.8"/>
<circle cx="123.8" cy="226.4" r="2.6" fill="#1e90ff" fill-opacity="0.5" stroke="#1e90ff" stroke-opacity="0.5" stroke-width="0.8"/>
<circle cx="127.0" cy="228.8" r="2.6" fill="#1e90ff" fill-opacity="0.5" stroke="#1e90ff" stroke-opacity="0.5" stroke-width="0.8"/>
<circle cx="124.2" cy="231.1" r="2.6" fill="#1e90ff" fill-opacity="0.5" stroke="#1e90ff" stroke-opacity="0.5" stroke-width="0.8"/>
<circle cx="117.7" cy="229.7" r="2.6" fill="#1e90ff" fill-opacity="0.5" stroke="#1e90ff" stroke-opacity="0.5" stroke-width="0.8"/>
<circle cx="111.6" cy="234.8" r="2.6" fill="#1e90ff" fill-opacity="0.5" stroke="#1e90ff" stroke-opacity="0.5" stroke-width="0.8"/>
<circle cx="120.0" cy="233.0" r="2.6" fill="#1e90ff" fill-opacity="0.5" stroke="#1e90ff" stroke-opacity="0.5" stroke-width="0.8"/>
<circle cx="115.4" cy="234.8" r="2.6" fill="#1e90ff" fill-opacity="0.5" stroke="#1e90ff" stroke-opacity="0.5" stroke-width="0.8"/>
<circle cx="111.2" cy="237.6" r="2.6" fill="#1e90ff" fill-opacity="0.5" stroke="#1e90ff" stroke-opacity="0.5" stroke-width="0.8"/>
<circle cx="118.2" cy="237.6" r="2.6" fill="#1e90ff" fill-opacity="0.5" stroke="#1e90ff" stroke-opacity="0.5" stroke-width="0.8"/>
<circle cx="120.0" cy="239.5" r="2.6" fill="#1e90ff" fill-opacity="0.5" stroke="#1e90ff" stroke-opacity="0.5" stroke-width="0.8"/>
<circle cx="115.4" cy="239.0" r="2.6" fill="#1e90ff" fill-opacity="0.5" stroke="#1e90ff" stroke-opacity="0.5" stroke-width="0.8"/>
<circle cx="121.4" cy="241.4" r="2.6" fill="#1e90ff" fill-opacity="0.5" stroke="#1e90ff" stroke-opacity="0.5" stroke-width="0.8"/>
<circle cx="99.3" cy="240.4" r="2.6" fill="#1e90ff" fill-opacity="0.5" stroke="#1e90ff" stroke-opacity="0.5" stroke-width="0.8"/>
<circle cx="108.6" cy="244.2" r="2.6" fill="#1e90ff" fill-opacity="0.5" stroke="#1e90ff" stroke-opacity="0.5" stroke-width="0.8"/>
<circle cx="114.4" cy="247.9" r="2.6" fill="#1e90ff" fill-opacity="0.5" stroke="#1e90ff" stroke-opacity="0.5" stroke-width="0.8"/>
<circle cx="90.2" cy="251.2" r="2.6" fill="#1e90ff" fill-opacity="0.5" stroke="#1e90ff" stroke-opacity="0.5" stroke-width="0.8"/>
<circle cx="93.9" cy="254.4" r="2.6" fill="#1e90ff" fill-opacity="0.5" stroke="#1e90ff" stroke-opacity="0.5" stroke-width="0.8"/>
<circle cx="103.7" cy="252.6" r="2.6" fill="#1e90ff" fill-opacity="0.5" stroke="#1e90ff" stroke-opacity="0.5" stroke-width="0.8"/>
<circle cx="106.5" cy="250.2" r="2.6" fill="#1e90ff" fill-opacity="0.5" stroke="#1e90ff" stroke-opacity="0.5" stroke-width="0.8"/>
<circle cx="86.4" cy="259.1" r="2.6" fill="#1e90ff" fill-opacity="0.5" stroke="#1e90ff" stroke-opacity="0.5" stroke-width="0.8"/>
<circle cx="100.4" cy="256.8" r="2.6" fill="#1e90ff" fill-opacity="0.5" stroke="#1e90ff" stroke-opacity="0.5" stroke-width="0.8"/>
<circle cx="97.2" cy="259.6" r="2.6" fill="#1e90ff" fill-opacity="0.5" stroke="#1e90ff" stroke-opacity="0.5" stroke-width="0.8"/>
<circle cx="104.2" cy="259.6" r="2.6" fill="#1e90ff" fill-opacity="0.5" stroke="#1e90ff" stroke-opacity="0.5" stroke-width="0.8"/>
<circle cx="101.4" cy="268.4" r="2.6" fill="#1e90ff" fill-opacity="0.5" stroke="#1e90ff" stroke-opacity="0.5" stroke-width="0.8"/>
<circle cx="94.4" cy="263.3" r="2.6" fill="#1e90ff" fill-opacity="0.5" stroke="#1e90ff" stroke-opacity="0.5" stroke-width="0.8"/>
<circle cx="95.3" cy="267.5" r="2.6" fill="#1e90ff" fill-opacity="0.5" stroke="#1e90ff" stroke-opacity="0.5" stroke-width="0.8"/>
<circle cx="91.6" cy="265.6" r="2.6" fill="#1e90ff" fill-opacity="0.5" stroke="#1e90ff" stroke-opacity="0.5" stroke-width="0.8"/>
<circle cx="84.1" cy="264.7" r="2.6" fill="#1e90ff" fill-opacity="0.5" stroke="#1e90ff" stroke-opacity="0.5" stroke-width="0.8"/>
<circle cx="84.5" cy="268.0" r="2.6" fill="#1e90ff" fill-opacity="0.5" stroke="#1e90ff" stroke-opacity="0.5" stroke-width="0.8"/>
<circle cx="87.4" cy="270.8" r="2.6" fill="#1e90ff" fill-opacity="0.5" stroke="#1e90ff" stroke-opacity="0.5" stroke-width="0.8"/>
<circle cx="85.5" cy="272.1" r="2.6" fill="#1e90ff" fill-opacity="0.5" stroke="#1e90ff" stroke-opacity="0.5" stroke-width="0.8"/>
<circle cx="88.3" cy="274.0" r="2.6" fill="#1e90ff" fill-opacity="0.5" stroke="#1e90ff" stroke-opacity="0.5" stroke-width="0.8"/>
<circle cx="90.2" cy="270.8" r="2.6" fill="#1e90ff" fill-opacity="0.5" stroke="#1e90ff" stroke-opacity="0.5" stroke-width="0.8"/>
<circle cx="98.1" cy="263.8" r="2.6" fill="#1e90ff" fill-opacity="0.5" stroke="#1e90ff" stroke-opacity="0.5" stroke-width="0.8"/>
<circle cx="102.3" cy="255.4" r="2.6" fill="#1e90ff" fill-opacity="0.5" stroke="#1e90ff" stroke-opacity="0.5" stroke-width="0.8"/>
<circle cx="107.9" cy="247.9" r="2.6" fill="#1e90ff" fill-opacity="0.5" stroke="#1e90ff" stroke-opacity="0.5" stroke-width="0.8"/>
<circle cx="113.0" cy="243.2" r="2.6" fill="#1e90ff" fill-opacity="0.5" stroke="#1e90ff" stroke-opacity="0.5" stroke-width="0.8"/>
<circle cx="92.5" cy="261.0" r="2.6" fill="#1e90ff" fill-opacity="0.5" stroke="#1e90ff" stroke-opacity="0.5" stroke-width="0.8"/>
<circle cx="96.2" cy="258.2" r="2.6" fill="#1e90ff" fill-opacity="0.5" stroke="#1e90ff" stroke-opacity="0.5" stroke-width="0.8"/>
<circle cx="289.5" cy="86.0" r="2.6" fill="#6a2cd8" fill-opacity="0.5" stroke="#6a2cd8" stroke-opacity="0.5" stroke-width="0.8"/>
<circle cx="252.1" cy="93.5" r="2.6" fill="#6a2cd8" fill-opacity="0.5" stroke="#6a2cd8" stroke-opacity="0.5" stroke-width="0.8"/>
<circle cx="275.5" cy="97.7" r="2.6" fill="#6a2cd8" fill-opacity="0.5" stroke="#6a2cd8" stroke-opacity="0.5" stroke-width="0.8"/>
<circle cx="209.7" cy="144.3" r="2.6" fill="#6a2cd8" fill-opacity="0.5" stroke="#6a2cd8" stroke-opacity="0.5" stroke-width="0.8"/>
<circle cx="216.7" cy="136.9" r="2.6" fill="#6a2cd8" fill-opacity="0.5" stroke="#6a2cd8" stroke-opacity="0.5" stroke-width="0.8"/>
<circle cx="226.0" cy="136.4" r="2.6" fill="#6a2cd8" fill-opacity="0.5" stroke="#6a2cd8" stroke-opacity="0.5" stroke-width="0.8"/>
<circle cx="231.1" cy="136.4" r="2.6" fill="#6a2cd8" fill-opacity="0.5" stroke="#6a2cd8" stroke-opacity="0.5" stroke-width="0.8"/>
<circle cx="184.0" cy="156.9" r="2.6" fill="#6a2cd8" fill-opacity="0.5" stroke="#6a2cd8" stroke-opacity="0.5" stroke-width="0.8"/>
<circle cx="183.5" cy="179.8" r="2.6" fill="#6a2cd8" fill-opacity="0.5" stroke="#6a2cd8" stroke-opacity="0.5" stroke-width="0.8"/>
<circle cx="166.2" cy="184.0" r="2.6" fill="#6a2cd8" fill-opacity="0.5" stroke="#6a2cd8" stroke-opacity="0.5" stroke-width="0.8"/>
<circle cx="146.6" cy="196.6" r="2.6" fill="#6a2cd8" fill-opacity="0.5" stroke="#6a2cd8" stroke-opacity="0.5" stroke-width="0.8"/>
<circle cx="144.1" cy="207.8" r="2.6" fill="#6a2cd8" fill-opacity="0.5" stroke="#6a2cd8" stroke-opacity="0.5" stroke-width="0.8"/>
<circle cx="147.6" cy="217.1" r="2.6" fill="#6a2cd8" fill-opacity="0.5" stroke="#6a2cd8" stroke-opacity="0.5" stroke-width="0.8"/>
<circle cx="144.1" cy="224.1" r="2.6" fill="#6a2cd8" fill-opacity="0.5" stroke="#6a2cd8" stroke-opacity="0.5" stroke-width="0.8"/>
<circle cx="135.4" cy="229.2" r="2.6" fill="#6a2cd8" fill-opacity="0.5" stroke="#6a2cd8" stroke-opacity="0.5" stroke-width="0.8"/>
<circle cx="131.7" cy="224.6" r="2.6" fill="#6a2cd8" fill-opacity="0.5" stroke="#6a2cd8" stroke-opacity="0.5" stroke-width="0.8"/>
<circle cx="126.6" cy="234.8" r="2.6" fill="#6a2cd8" fill-opacity="0.5" stroke="#6a2cd8" stroke-opacity="0.5" stroke-width="0.8"/>
<circle cx="128.9" cy="246.5" r="2.6" fill="#6a2cd8" fill-opacity="0.5" stroke="#6a2cd8" stroke-opacity="0.5" stroke-width="0.8"/>
<circle cx="128.9" cy="226.4" r="2.6" fill="#6a2cd8" fill-opacity="0.5" stroke="#6a2cd8" stroke-opacity="0.5" stroke-width="0.8"/>
<circle cx="123.8" cy="228.8" r="2.6" fill="#6a2cd8" fill-opacity="0.5" stroke="#6a2cd8" stroke-opacity="0.5" stroke-width="0.8"/>
<circle cx="127.0" cy="231.1" r="2.6" fill="#6a2cd8" fill-opacity="0.5" stroke="#6a2cd8" stroke-opacity="0.5" stroke-width="0.8"/>
<circle cx="124.2" cy="233.4" r="2.6" fill="#6a2cd8" fill-opacity="0.5" stroke="#6a2cd8" stroke-opacity="0.5" stroke-width="0.8"/>
<circle cx="117.7" cy="233.9" r="2.6" fill="#6a2cd8" fill-opacity="0.5" stroke="#6a2cd8" stroke-opacity="0.5" stroke-width="0.8"/>
<circle cx="111.6" cy="231.6" r="2.6" fill="#6a2cd8" fill-opacity="0.5" stroke="#6a2cd8" stroke-opacity="0.5" stroke-width="0.8"/>
<circle cx="120.0" cy="235.8" r="2.6" fill="#6a2cd8" fill-opacity="0.5" stroke="#6a2cd8" stroke-opacity="0.5" stroke-width="0.8"/>
<circle cx="115.4" cy="238.1" r="2.6" fill="#6a2cd8" fill-opacity="0.5" stroke="#6a2cd8" stroke-opacity="0.5" stroke-width="0.8"/>
<circle cx="111.2" cy="239.5" r="2.6" fill="#6a2cd8" fill-opacity="0.5" stroke="#6a2cd8" stroke-opacity="0.5" stroke-width="0.8"/>
<circle cx="118.2" cy="240.4" r="2.6" fill="#6a2cd8" fill-opacity="0.5" stroke="#6a2cd8" stroke-opacity="0.5" stroke-width="0.8"/>
<circle cx="120.0" cy="242.8" r="2.6" fill="#6a2cd8" fill-opacity="0.5" stroke="#6a2cd8" stroke-opacity="0.5" stroke-width="0.8"/>
<circle cx="115.4" cy="241.8" r="2.6" fill="#6a2cd8" fill-opacity="0.5" stroke="#6a2cd8" stroke-opacity="0.5" stroke-width="0.8"/>
<circle cx="121.4" cy="244.6" r="2.6" fill="#6a2cd8" fill-opacity="0.5" stroke="#6a2cd8" stroke-opacity="0.5" stroke-width="0.8"/>
<circle cx="99.3" cy="252.1" r="2.6" fill="#6a2cd8" fill-opacity="0.5" stroke="#6a2cd8" stroke-opacity="0.5" stroke-width="0.8"/>
<circle cx="108.6" cy="252.6" r="2.6" fill="#6a2cd8" fill-opacity="0.5" stroke="#6a2cd8" stroke-opacity="0.5" stroke-width="0.8"/>
<circle cx="114.4" cy="252.1" r="2.6" fill="#6a2cd8" fill-opacity="0.5" stroke="#6a2cd8" stroke-opacity="0.5" stroke-width="0.8"/>
<circle cx="90.2" cy="254.4" r="2.6" fill="#6a2cd8" fill-opacity="0.5" stroke="#6a2cd8" stroke-opacity="0.5" stroke-width="0.8"/>
<circle cx="103.7" cy="255.8" r="2.6" fill="#6a2cd8" fill-opacity="0.5" stroke="#6a2cd8" stroke-opacity="0.5" stroke-width="0.8"/>
<circle cx="106.5" cy="253.5" r="2.6" fill="#6a2cd8" fill-opacity="0.5" stroke="#6a2cd8" stroke-opacity="0.5" stroke-width="0.8"/>
<circle cx="86.4" cy="261.9" r="2.6" fill="#6a2cd8" fill-opacity="0.5" stroke="#6a2cd8" stroke-opacity="0.5" stroke-width="0.8"/>
<circle cx="100.4" cy="260.0" r="2.6" fill="#6a2cd8" fill-opacity="0.5" stroke="#6a2cd8" stroke-opacity="0.5" stroke-width="0.8"/>
<circle cx="97.2" cy="262.8" r="2.6" fill="#6a2cd8" fill-opacity="0.5" stroke="#6a2cd8" stroke-opacity="0.5" stroke-width="0.8"/>
<circle cx="104.2" cy="264.7" r="2.6" fill="#6a2cd8" fill-opacity="0.5" stroke="#6a2cd8" stroke-opacity="0.5" stroke-width="0.8"/>
<circle cx="101.4" cy="272.6" r="2.6" fill="#6a2cd8" fill-opacity="0.5" stroke="#6a2cd8" stroke-opacity="0.5" stroke-width="0.8"/>
<circle cx="94.4" cy="266.6" r="2.6" fill="#6a2cd8" fill-opacity="0.5" stroke="#6a2cd8" stroke-opacity="0.5" stroke-width="0.8"/>
<circle cx="95.3" cy="270.8" r="2.6" fill="#6a2cd8" fill-opacity="0.5" stroke="#6a2cd8" stroke-opacity="0.5" stroke-width="0.8"/>
<circle cx="91.6" cy="268.9" r="2.6" fill="#6a2cd8" fill-opacity="0.5" stroke="#6a2cd8" stroke-opacity="0.5" stroke-width="0.8"/>
<circle cx="84.1" cy="267.5" r="2.6" fill="#6a2cd8" fill-opacity="0.5" stroke="#6a2cd8" stroke-opacity="0.5" stroke-width="0.8"/>
<circle cx="84.5" cy="270.8" r="2.6" fill="#6a2cd8" fill-opacity="0.5" stroke="#6a2cd8" stroke-opacity="0.5" stroke-width="0.8"/>
<circle cx="87.4" cy="273.5" r="2.6" fill="#6a2cd8" fill-opacity="0.5" stroke="#6a2cd8" stroke-opacity="0.5" stroke-width="0.8"/>
<circle cx="85.5" cy="274.9" r="2.6" fill="#6a2cd8" fill-opacity="0.5" stroke="#6a2cd8" stroke-opacity="0.5" stroke-width="0.8"/>
<circle cx="88.3" cy="276.8" r="2.6" fill="#6a2cd8" fill-opacity="0.5" stroke="#6a2cd8" stroke-opacity="0.5" stroke-width="0.8"/>
<circle cx="90.2" cy="273.5" r="2.6" fill="#6a2cd8" fill-opacity="0.5" stroke="#6a2cd8" stroke-opacity="0.5" stroke-width="0.8"/>
<circle cx="98.1" cy="267.5" r="2.6" fill="#6a2cd8" fill-opacity="0.5" stroke="#6a2cd8" stroke-opacity="0.5" stroke-width="0.8"/>
<circle cx="102.3" cy="259.1" r="2.6" fill="#6a2cd8" fill-opacity="0.5" stroke="#6a2cd8" stroke-opacity="0.5" stroke-width="0.8"/>
<circle cx="107.9" cy="250.7" r="2.6" fill="#6a2cd8" fill-opacity="0.5" stroke="#6a2cd8" stroke-opacity="0.5" stroke-width="0.8"/>
<circle cx="113.0" cy="246.0" r="2.6" fill="#6a2cd8" fill-opacity="0.5" stroke="#6a2cd8" stroke-opacity="0.5" stroke-width="0.8"/>
<circle cx="92.5" cy="263.8" r="2.6" fill="#6a2cd8" fill-opacity="0.5" stroke="#6a2cd8" stroke-opacity="0.5" stroke-width="0.8"/>
<circle cx="96.2" cy="261.4" r="2.6" fill="#6a2cd8" fill-opacity="0.5" stroke="#6a2cd8" stroke-opacity="0.5" stroke-width="0.8"/>
<circle cx="289.5" cy="98.1" r="2.6" fill="#1818f0" fill-opacity="0.5" stroke="#1818f0" stroke-opacity="0.5" stroke-width="0.8"/>
<circle cx="252.1" cy="98.1" r="2.6" fill="#1818f0" fill-opacity="0.5" stroke="#1818f0" stroke-opacity="0.5" stroke-width="0.8"/>
<circle cx="275.5" cy="114.9" r="2.6" fill="#1818f0" fill-opacity="0.5" stroke="#1818f0" stroke-opacity="0.5" stroke-width="0.8"/>
<circle cx="209.7" cy="157.4" r="2.6" fill="#1818f0" fill-opacity="0.5" stroke="#1818f0" stroke-opacity="0.5" stroke-width="0.8"/>
<circle cx="216.7" cy="148.1" r="2.6" fill="#1818f0" fill-opacity="0.5" stroke="#1818f0" stroke-opacity="0.5" stroke-width="0.8"/>
<circle cx="226.0" cy="142.5" r="2.6" fill="#1818f0" fill-opacity="0.5" stroke="#1818f0" stroke-opacity="0.5" stroke-width="0.8"/>
<circle cx="231.1" cy="143.4" r="2.6" fill="#1818f0" fill-opacity="0.5" stroke="#1818f0" stroke-opacity="0.5" stroke-width="0.8"/>
<circle cx="184.0" cy="163.5" r="2.6" fill="#1818f0" fill-opacity="0.5" stroke="#1818f0" stroke-opacity="0.5" stroke-width="0.8"/>
<circle cx="183.5" cy="189.1" r="2.6" fill="#1818f0" fill-opacity="0.5" stroke="#1818f0" stroke-opacity="0.5" stroke-width="0.8"/>
<circle cx="183.5" cy="180.2" r="2.6" fill="#1818f0" fill-opacity="0.5" stroke="#1818f0" stroke-opacity="0.5" stroke-width="0.8"/>
<circle cx="166.2" cy="184.9" r="2.6" fill="#1818f0" fill-opacity="0.5" stroke="#1818f0" stroke-opacity="0.5" stroke-width="0.8"/>
<circle cx="149.0" cy="176.1" r="2.6" fill="#1818f0" fill-opacity="0.5" stroke="#1818f0" stroke-opacity="0.5" stroke-width="0.8"/>
<circle cx="149.0" cy="185.4" r="2.6" fill="#1818f0" fill-opacity="0.5" stroke="#1818f0" stroke-opacity="0.5" stroke-width="0.8"/>
<circle cx="146.6" cy="198.0" r="2.6" fill="#1818f0" fill-opacity="0.5" stroke="#1818f0" stroke-opacity="0.5" stroke-width="0.8"/>
<circle cx="144.1" cy="209.2" r="2.6" fill="#1818f0" fill-opacity="0.5" stroke="#1818f0" stroke-opacity="0.5" stroke-width="0.8"/>
<circle cx="147.6" cy="226.9" r="2.6" fill="#1818f0" fill-opacity="0.5" stroke="#1818f0" stroke-opacity="0.5" stroke-width="0.8"/>
<circle cx="144.1" cy="219.0" r="2.6" fill="#1818f0" fill-opacity="0.5" stroke="#1818f0" stroke-opacity="0.5" stroke-width="0.8"/>
<circle cx="135.4" cy="227.4" r="2.6" fill="#0f3cf5" fill-opacity="0.5" stroke="#0f3cf5" stroke-opacity="0.5" stroke-width="0.8"/>
<circle cx="135.4" cy="223.2" r="2.6" fill="#0f3cf5" fill-opacity="0.5" stroke="#0f3cf5" stroke-opacity="0.5" stroke-width="0.8"/>
<circle cx="131.7" cy="223.2" r="2.6" fill="#0f3cf5" fill-opacity="0.5" stroke="#0f3cf5" stroke-opacity="0.5" stroke-width="0.8"/>
<circle cx="126.6" cy="221.8" r="2.6" fill="#0f3cf5" fill-opacity="0.5" stroke="#0f3cf5" stroke-opacity="0.5" stroke-width="0.8"/>
<circle cx="128.9" cy="251.6" r="2.6" fill="#0f3cf5" fill-opacity="0.5" stroke="#0f3cf5" stroke-opacity="0.5" stroke-width="0.8"/>
<circle cx="128.9" cy="228.8" r="2.6" fill="#0f3cf5" fill-opacity="0.5" stroke="#0f3cf5" stroke-opacity="0.5" stroke-width="0.8"/>
<circle cx="123.8" cy="227.4" r="2.6" fill="#0f3cf5" fill-opacity="0.5" stroke="#0f3cf5" stroke-opacity="0.5" stroke-width="0.8"/>
<circle cx="127.0" cy="230.2" r="2.6" fill="#0f3cf5" fill-opacity="0.5" stroke="#0f3cf5" stroke-opacity="0.5" stroke-width="0.8"/>
<circle cx="124.2" cy="232.5" r="2.6" fill="#0f3cf5" fill-opacity="0.5" stroke="#0f3cf5" stroke-opacity="0.5" stroke-width="0.8"/>
<circle cx="117.7" cy="234.8" r="2.6" fill="#0f3cf5" fill-opacity="0.5" stroke="#0f3cf5" stroke-opacity="0.5" stroke-width="0.8"/>
<circle cx="111.6" cy="236.7" r="2.6" fill="#0f3cf5" fill-opacity="0.5" stroke="#0f3cf5" stroke-opacity="0.5" stroke-width="0.8"/>
<circle cx="120.0" cy="234.8" r="2.6" fill="#0f3cf5" fill-opacity="0.5" stroke="#0f3cf5" stroke-opacity="0.5" stroke-width="0.8"/>
<circle cx="115.4" cy="236.2" r="2.6" fill="#0f3cf5" fill-opacity="0.5" stroke="#0f3cf5" stroke-opacity="0.5" stroke-width="0.8"/>
<circle cx="111.2" cy="240.4" r="2.6" fill="#0f3cf5" fill-opacity="0.5" stroke="#0f3cf5" stroke-opacity="0.5" stroke-width="0.8"/>
<circle cx="118.2" cy="239.5" r="2.6" fill="#0f3cf5" fill-opacity="0.5" stroke="#0f3cf5" stroke-opacity="0.5" stroke-width="0.8"/>
<circle cx="120.0" cy="241.4" r="2.6" fill="#0f3cf5" fill-opacity="0.5" stroke="#0f3cf5" stroke-opacity="0.5" stroke-width="0.8"/>
<circle cx="115.4" cy="240.4" r="2.6" fill="#0f3cf5" fill-opacity="0.5" stroke="#0f3cf5" stroke-opacity="0.5" stroke-width="0.8"/>
<circle cx="121.4" cy="243.2" r="2.6" fill="#0f3cf5" fill-opacity="0.5" stroke="#0f3cf5" stroke-opacity="0.5" stroke-width="0.8"/>
<circle cx="99.3" cy="248.8" r="2.6" fill="#0f3cf5" fill-opacity="0.5" stroke="#0f3cf5" stroke-opacity="0.5" stroke-width="0.8"/>
<circle cx="99.3" cy="246.5" r="2.6" fill="#0f3cf5" fill-opacity="0.5" stroke="#0f3cf5" stroke-opacity="0.5" stroke-width="0.8"/>
<circle cx="108.6" cy="249.3" r="2.6" fill="#0f3cf5" fill-opacity="0.5" stroke="#0f3cf5" stroke-opacity="0.5" stroke-width="0.8"/>
<circle cx="108.6" cy="245.1" r="2.6" fill="#0f3cf5" fill-opacity="0.5" stroke="#0f3cf5" stroke-opacity="0.5" stroke-width="0.8"/>
<circle cx="114.4" cy="248.8" r="2.6" fill="#0f3cf5" fill-opacity="0.5" stroke="#0f3cf5" stroke-opacity="0.5" stroke-width="0.8"/>
<circle cx="90.2" cy="253.0" r="2.6" fill="#0f3cf5" fill-opacity="0.5" stroke="#0f3cf5" stroke-opacity="0.5" stroke-width="0.8"/>
<circle cx="93.9" cy="255.4" r="2.6" fill="#0f3cf5" fill-opacity="0.5" stroke="#0f3cf5" stroke-opacity="0.5" stroke-width="0.8"/>
<circle cx="103.7" cy="254.9" r="2.6" fill="#0f3cf5" fill-opacity="0.5" stroke="#0f3cf5" stroke-opacity="0.5" stroke-width="0.8"/>
<circle cx="106.5" cy="252.1" r="2.6" fill="#0f3cf5" fill-opacity="0.5" stroke="#0f3cf5" stroke-opacity="0.5" stroke-width="0.8"/>
<circle cx="86.4" cy="260.5" r="2.6" fill="#0f3cf5" fill-opacity="0.5" stroke="#0f3cf5" stroke-opacity="0.5" stroke-width="0.8"/>
<circle cx="100.4" cy="258.6" r="2.6" fill="#0f3cf5" fill-opacity="0.5" stroke="#0f3cf5" stroke-opacity="0.5" stroke-width="0.8"/>
<circle cx="97.2" cy="261.4" r="2.6" fill="#0f3cf5" fill-opacity="0.5" stroke="#0f3cf5" stroke-opacity="0.5" stroke-width="0.8"/>
<circle cx="104.2" cy="261.4" r="2.6" fill="#0f3cf5" fill-opacity="0.5" stroke="#0f3cf5" stroke-opacity="0.5" stroke-width="0.8"/>
<circle cx="101.4" cy="270.8" r="2.6" fill="#0f3cf5" fill-opacity="0.5" stroke="#0f3cf5" stroke-opacity="0.5" stroke-width="0.8"/>
<circle cx="94.4" cy="265.2" r="2.6" fill="#0f3cf5" fill-opacity="0.5" stroke="#0f3cf5" stroke-opacity="0.5" stroke-width="0.8"/>
<circle cx="95.3" cy="269.4" r="2.6" fill="#0f3cf5" fill-opacity="0.5" stroke="#0f3cf5" stroke-opacity="0.5" stroke-width="0.8"/>
<circle cx="91.6" cy="267.5" r="2.6" fill="#0f3cf5" fill-opacity="0.5" stroke="#0f3cf5" stroke-opacity="0.5" stroke-width="0.8"/>
<circle cx="84.1" cy="266.1" r="2.6" fill="#0f3cf5" fill-opacity="0.5" stroke="#0f3cf5" stroke-opacity="0.5" stroke-width="0.8"/>
<circle cx="84.5" cy="269.4" r="2.6" fill="#0f3cf5" fill-opacity="0.5" stroke="#0f3cf5" stroke-opacity="0.5" stroke-width="0.8"/>
<circle cx="87.4" cy="272.1" r="2.6" fill="#0f3cf5" fill-opacity="0.5" stroke="#0f3cf5" stroke-opacity="0.5" stroke-width="0.8"/>
<circle cx="85.5" cy="273.5" r="2.6" fill="#0f3cf5" fill-opacity="0.5" stroke="#0f3cf5" stroke-opacity="0.5" stroke-width="0.8"/>
<circle cx="88.3" cy="275.4" r="2.6" fill="#0f3cf5" fill-opacity="0.5" stroke="#0f3cf5" stroke-opacity="0.5" stroke-width="0.8"/>
<circle cx="90.2" cy="272.1" r="2.6" fill="#0f3cf5" fill-opacity="0.5" stroke="#0f3cf5" stroke-opacity="0.5" stroke-width="0.8"/>
<circle cx="98.1" cy="265.6" r="2.6" fill="#0f3cf5" fill-opacity="0.5" stroke="#0f3cf5" stroke-opacity="0.5" stroke-width="0.8"/>
<circle cx="102.3" cy="257.2" r="2.6" fill="#0f3cf5" fill-opacity="0.5" stroke="#0f3cf5" stroke-opacity="0.5" stroke-width="0.8"/>
<circle cx="107.9" cy="248.8" r="2.6" fill="#0f3cf5" fill-opacity="0.5" stroke="#0f3cf5" stroke-opacity="0.5" stroke-width="0.8"/>
<circle cx="113.0" cy="244.2" r="2.6" fill="#0f3cf5" fill-opacity="0.5" stroke="#0f3cf5" stroke-opacity="0.5" stroke-width="0.8"/>
<circle cx="92.5" cy="262.4" r="2.6" fill="#0f3cf5" fill-opacity="0.5" stroke="#0f3cf5" stroke-opacity="0.5" stroke-width="0.8"/>
<circle cx="96.2" cy="259.6" r="2.6" fill="#0f3cf5" fill-opacity="0.5" stroke="#0f3cf5" stroke-opacity="0.5" stroke-width="0.8"/>
</g>
<rect x="163.4" y="75.8" width="8.3" height="8.3" fill="#1e90ff" fill-opacity="0.72"/>
<rect x="163.4" y="70.0" width="8.3" height="8.3" fill="#6a2cd8" fill-opacity="0.72"/>
<rect x="163.4" y="82.1" width="8.3" height="8.3" fill="#1818f0" fill-opacity="0.72"/>
<path d="M71.2 185.3L76.6 190.7L71.2 196.1L65.8 190.7Z" fill="#6a2cd8" fill-opacity="0.72"/>
<path d="M71.2 184.2L76.6 189.6L71.2 195.0L65.8 189.6Z" fill="#1e90ff" fill-opacity="0.72"/>
<path d="M71.2 186.5L76.6 191.9L71.2 197.3L65.8 191.9Z" fill="#0f3cf5" fill-opacity="0.72"/>
<path d="M147.0 153.5L154.8 153.5L150.9 161.3Z" fill="#1e90ff" fill-opacity="0.72"/>
<path d="M147.0 158.9L154.8 158.9L150.9 166.7Z" fill="#6a2cd8" fill-opacity="0.72"/>
<path d="M147.0 162.4L154.8 162.4L150.9 170.2Z" fill="#1818f0" fill-opacity="0.72"/>
<circle cx="151.2" cy="159.7" r="13.0" fill="none" stroke="#000" stroke-width="2.7"/>
<path class="tm" d="M86.9 318.8v-3.3M86.9 38.9v3.3M40.2 272.1h3.3M320.3 272.1h-3.3"/>
<path class="tm" d="M133.6 318.8v-3.3M133.6 38.9v3.3M40.2 225.5h3.3M320.3 225.5h-3.3"/>
<path class="tm" d="M180.2 318.8v-3.3M180.2 38.9v3.3M40.2 178.8h3.3M320.3 178.8h-3.3"/>
<path class="tm" d="M226.9 318.8v-3.3M226.9 38.9v3.3M40.2 132.2h3.3M320.3 132.2h-3.3"/>
<path class="tm" d="M273.6 318.8v-3.3M273.6 38.9v3.3M40.2 85.5h3.3M320.3 85.5h-3.3"/>
<rect class="fr" style="stroke:#6a6a6a;stroke-width:1.5" x="40.2" y="38.9" width="280.1" height="279.9"/>
<text class="tk" text-anchor="middle" style="font-size:13.8px" transform="translate(40.2 333.1) scale(1.13 1)">0</text>
<text class="tk" text-anchor="end" style="font-size:13.8px" transform="translate(36.9 322.6) scale(1.13 1)">0</text>
<text class="tk" text-anchor="middle" style="font-size:13.8px" transform="translate(86.9 333.1) scale(1.13 1)">1</text>
<text class="tk" text-anchor="end" style="font-size:13.8px" transform="translate(36.9 275.9) scale(1.13 1)">1</text>
<text class="tk" text-anchor="middle" style="font-size:13.8px" transform="translate(133.6 333.1) scale(1.13 1)">2</text>
<text class="tk" text-anchor="end" style="font-size:13.8px" transform="translate(36.9 229.3) scale(1.13 1)">2</text>
<text class="tk" text-anchor="middle" style="font-size:13.8px" transform="translate(180.2 333.1) scale(1.13 1)">3</text>
<text class="tk" text-anchor="end" style="font-size:13.8px" transform="translate(36.9 182.7) scale(1.13 1)">3</text>
<text class="tk" text-anchor="middle" style="font-size:13.8px" transform="translate(226.9 333.1) scale(1.13 1)">4</text>
<text class="tk" text-anchor="end" style="font-size:13.8px" transform="translate(36.9 136.0) scale(1.13 1)">4</text>
<text class="tk" text-anchor="middle" style="font-size:13.8px" transform="translate(273.6 333.1) scale(1.13 1)">5</text>
<text class="tk" text-anchor="end" style="font-size:13.8px" transform="translate(36.9 89.3) scale(1.13 1)">5</text>
<text class="tk" text-anchor="middle" style="font-size:13.8px" transform="translate(320.3 333.1) scale(1.13 1)">6</text>
<text class="tk" text-anchor="end" style="font-size:13.8px" transform="translate(36.9 42.7) scale(1.13 1)">6</text>
<text class="ax" text-anchor="middle" x="175.8" y="354">Normalized reference coverage</text>
<text class="ax" text-anchor="middle" transform="translate(16.0 169.5) rotate(-90)">Normalized target coverage</text>
<text class="tt" text-anchor="middle" x="180" y="29.7">100 ng</text>
<text class="pl" style="font-size:29.8px" x="-1.0" y="22.1">a</text>
<text class="gn" style="font-size:16px" x="152.3" y="66.5">MET</text>
<text class="gn" style="font-size:16px" x="136.6" y="143.2">ALK</text>
<text class="gn" style="font-size:16px" x="51.9" y="179.9">MYC</text>
</g>
<g id="panel-b">
<line class="gv" x1="447.1" y1="38.9" x2="447.1" y2="318.8"/>
<line class="gr" x1="400.5" y1="272.1" x2="680.4" y2="272.1"/>
<line class="gv" x1="493.8" y1="38.9" x2="493.8" y2="318.8"/>
<line class="gr" x1="400.5" y1="225.5" x2="680.4" y2="225.5"/>
<line class="gv" x1="540.5" y1="38.9" x2="540.5" y2="318.8"/>
<line class="gr" x1="400.5" y1="178.8" x2="680.4" y2="178.8"/>
<line class="gv" x1="587.1" y1="38.9" x2="587.1" y2="318.8"/>
<line class="gr" x1="400.5" y1="132.2" x2="680.4" y2="132.2"/>
<line class="gv" x1="633.8" y1="38.9" x2="633.8" y2="318.8"/>
<line class="gr" x1="400.5" y1="85.5" x2="680.4" y2="85.5"/>
<clipPath id="cp-b"><rect x="400.5" y="38.9" width="279.9" height="279.9"/></clipPath>
<g clip-path="url(#cp-b)">
<circle cx="443.4" cy="277.7" r="2.6" fill="#6a2cd8" fill-opacity="0.5" stroke="#6a2cd8" stroke-opacity="0.5" stroke-width="0.8"/>
<circle cx="409.4" cy="310.9" r="2.6" fill="#6a2cd8" fill-opacity="0.5" stroke="#6a2cd8" stroke-opacity="0.5" stroke-width="0.8"/>
<circle cx="443.4" cy="279.1" r="2.6" fill="#6a2cd8" fill-opacity="0.5" stroke="#6a2cd8" stroke-opacity="0.5" stroke-width="0.8"/>
<circle cx="442.2" cy="279.2" r="2.6" fill="#6a2cd8" fill-opacity="0.5" stroke="#6a2cd8" stroke-opacity="0.5" stroke-width="0.8"/>
<circle cx="418.5" cy="302.8" r="2.6" fill="#6a2cd8" fill-opacity="0.5" stroke="#6a2cd8" stroke-opacity="0.5" stroke-width="0.8"/>
<circle cx="436.8" cy="281.9" r="2.6" fill="#6a2cd8" fill-opacity="0.5" stroke="#6a2cd8" stroke-opacity="0.5" stroke-width="0.8"/>
<circle cx="416.1" cy="301.9" r="2.6" fill="#6a2cd8" fill-opacity="0.5" stroke="#6a2cd8" stroke-opacity="0.5" stroke-width="0.8"/>
<circle cx="432.2" cy="286.4" r="2.6" fill="#6a2cd8" fill-opacity="0.5" stroke="#6a2cd8" stroke-opacity="0.5" stroke-width="0.8"/>
<circle cx="405.3" cy="313.5" r="2.6" fill="#6a2cd8" fill-opacity="0.5" stroke="#6a2cd8" stroke-opacity="0.5" stroke-width="0.8"/>
<circle cx="427.0" cy="296.5" r="2.6" fill="#6a2cd8" fill-opacity="0.5" stroke="#6a2cd8" stroke-opacity="0.5" stroke-width="0.8"/>
<circle cx="421.2" cy="302.5" r="2.6" fill="#6a2cd8" fill-opacity="0.5" stroke="#6a2cd8" stroke-opacity="0.5" stroke-width="0.8"/>
<circle cx="423.7" cy="295.3" r="2.6" fill="#6a2cd8" fill-opacity="0.5" stroke="#6a2cd8" stroke-opacity="0.5" stroke-width="0.8"/>
<circle cx="420.4" cy="299.9" r="2.6" fill="#6a2cd8" fill-opacity="0.5" stroke="#6a2cd8" stroke-opacity="0.5" stroke-width="0.8"/>
<circle cx="426.8" cy="294.7" r="2.6" fill="#6a2cd8" fill-opacity="0.5" stroke="#6a2cd8" stroke-opacity="0.5" stroke-width="0.8"/>
<circle cx="428.2" cy="294.9" r="2.6" fill="#6a2cd8" fill-opacity="0.5" stroke="#6a2cd8" stroke-opacity="0.5" stroke-width="0.8"/>
<circle cx="404.5" cy="318.6" r="2.6" fill="#6a2cd8" fill-opacity="0.5" stroke="#6a2cd8" stroke-opacity="0.5" stroke-width="0.8"/>
<circle cx="433.8" cy="283.8" r="2.6" fill="#6a2cd8" fill-opacity="0.5" stroke="#6a2cd8" stroke-opacity="0.5" stroke-width="0.8"/>
<circle cx="424.8" cy="296.1" r="2.6" fill="#6a2cd8" fill-opacity="0.5" stroke="#6a2cd8" stroke-opacity="0.5" stroke-width="0.8"/>
<circle cx="444.5" cy="278.3" r="2.6" fill="#6a2cd8" fill-opacity="0.5" stroke="#6a2cd8" stroke-opacity="0.5" stroke-width="0.8"/>
<circle cx="420.3" cy="301.6" r="2.6" fill="#6a2cd8" fill-opacity="0.5" stroke="#6a2cd8" stroke-opacity="0.5" stroke-width="0.8"/>
<circle cx="403.2" cy="319.1" r="2.6" fill="#6a2cd8" fill-opacity="0.5" stroke="#6a2cd8" stroke-opacity="0.5" stroke-width="0.8"/>
<circle cx="433.8" cy="287.0" r="2.6" fill="#6a2cd8" fill-opacity="0.5" stroke="#6a2cd8" stroke-opacity="0.5" stroke-width="0.8"/>
<circle cx="420.3" cy="299.3" r="2.6" fill="#6a2cd8" fill-opacity="0.5" stroke="#6a2cd8" stroke-opacity="0.5" stroke-width="0.8"/>
<circle cx="412.5" cy="308.6" r="2.6" fill="#6a2cd8" fill-opacity="0.5" stroke="#6a2cd8" stroke-opacity="0.5" stroke-width="0.8"/>
<circle cx="419.9" cy="301.1" r="2.6" fill="#6a2cd8" fill-opacity="0.5" stroke="#6a2cd8" stroke-opacity="0.5" stroke-width="0.8"/>
<circle cx="421.3" cy="298.7" r="2.6" fill="#6a2cd8" fill-opacity="0.5" stroke="#6a2cd8" stroke-opacity="0.5" stroke-width="0.8"/>
<circle cx="421.5" cy="300.1" r="2.6" fill="#6a2cd8" fill-opacity="0.5" stroke="#6a2cd8" stroke-opacity="0.5" stroke-width="0.8"/>
<circle cx="414.9" cy="305.9" r="2.6" fill="#6a2cd8" fill-opacity="0.5" stroke="#6a2cd8" stroke-opacity="0.5" stroke-width="0.8"/>
<circle cx="440.9" cy="283.4" r="2.6" fill="#6a2cd8" fill-opacity="0.5" stroke="#6a2cd8" stroke-opacity="0.5" stroke-width="0.8"/>
<circle cx="404.9" cy="315.2" r="2.6" fill="#6a2cd8" fill-opacity="0.5" stroke="#6a2cd8" stroke-opacity="0.5" stroke-width="0.8"/>
<circle cx="431.5" cy="284.5" r="2.6" fill="#6a2cd8" fill-opacity="0.5" stroke="#6a2cd8" stroke-opacity="0.5" stroke-width="0.8"/>
<circle cx="410.4" cy="311.7" r="2.6" fill="#6a2cd8" fill-opacity="0.5" stroke="#6a2cd8" stroke-opacity="0.5" stroke-width="0.8"/>
<circle cx="421.4" cy="299.5" r="2.6" fill="#6a2cd8" fill-opacity="0.5" stroke="#6a2cd8" stroke-opacity="0.5" stroke-width="0.8"/>
<circle cx="428.4" cy="297.0" r="2.6" fill="#6a2cd8" fill-opacity="0.5" stroke="#6a2cd8" stroke-opacity="0.5" stroke-width="0.8"/>
<circle cx="417.0" cy="302.9" r="2.6" fill="#6a2cd8" fill-opacity="0.5" stroke="#6a2cd8" stroke-opacity="0.5" stroke-width="0.8"/>
<circle cx="438.4" cy="283.6" r="2.6" fill="#6a2cd8" fill-opacity="0.5" stroke="#6a2cd8" stroke-opacity="0.5" stroke-width="0.8"/>
<circle cx="436.3" cy="288.5" r="2.6" fill="#6a2cd8" fill-opacity="0.5" stroke="#6a2cd8" stroke-opacity="0.5" stroke-width="0.8"/>
<circle cx="405.4" cy="318.3" r="2.6" fill="#6a2cd8" fill-opacity="0.5" stroke="#6a2cd8" stroke-opacity="0.5" stroke-width="0.8"/>
<circle cx="411.1" cy="313.9" r="2.6" fill="#6a2cd8" fill-opacity="0.5" stroke="#6a2cd8" stroke-opacity="0.5" stroke-width="0.8"/>
<circle cx="436.6" cy="278.9" r="2.6" fill="#6a2cd8" fill-opacity="0.5" stroke="#6a2cd8" stroke-opacity="0.5" stroke-width="0.8"/>
<circle cx="438.6" cy="281.8" r="2.6" fill="#6a2cd8" fill-opacity="0.5" stroke="#6a2cd8" stroke-opacity="0.5" stroke-width="0.8"/>
<circle cx="442.7" cy="278.2" r="2.6" fill="#6a2cd8" fill-opacity="0.5" stroke="#6a2cd8" stroke-opacity="0.5" stroke-width="0.8"/>
<circle cx="419.4" cy="296.1" r="2.6" fill="#6a2cd8" fill-opacity="0.5" stroke="#6a2cd8" stroke-opacity="0.5" stroke-width="0.8"/>
<circle cx="437.8" cy="285.8" r="2.6" fill="#6a2cd8" fill-opacity="0.5" stroke="#6a2cd8" stroke-opacity="0.5" stroke-width="0.8"/>
<circle cx="405.8" cy="311.5" r="2.6" fill="#6a2cd8" fill-opacity="0.5" stroke="#6a2cd8" stroke-opacity="0.5" stroke-width="0.8"/>
<circle cx="408.5" cy="312.4" r="2.6" fill="#6a2cd8" fill-opacity="0.5" stroke="#6a2cd8" stroke-opacity="0.5" stroke-width="0.8"/>
<circle cx="422.9" cy="301.2" r="2.6" fill="#6a2cd8" fill-opacity="0.5" stroke="#6a2cd8" stroke-opacity="0.5" stroke-width="0.8"/>
<circle cx="440.5" cy="275.9" r="2.6" fill="#6a2cd8" fill-opacity="0.5" stroke="#6a2cd8" stroke-opacity="0.5" stroke-width="0.8"/>
<circle cx="426.9" cy="293.9" r="2.6" fill="#6a2cd8" fill-opacity="0.5" stroke="#6a2cd8" stroke-opacity="0.5" stroke-width="0.8"/>
<circle cx="410.4" cy="303.3" r="2.6" fill="#6a2cd8" fill-opacity="0.5" stroke="#6a2cd8" stroke-opacity="0.5" stroke-width="0.8"/>
<circle cx="425.6" cy="293.6" r="2.6" fill="#6a2cd8" fill-opacity="0.5" stroke="#6a2cd8" stroke-opacity="0.5" stroke-width="0.8"/>
<circle cx="421.5" cy="298.2" r="2.6" fill="#6a2cd8" fill-opacity="0.5" stroke="#6a2cd8" stroke-opacity="0.5" stroke-width="0.8"/>
<circle cx="405.3" cy="316.2" r="2.6" fill="#6a2cd8" fill-opacity="0.5" stroke="#6a2cd8" stroke-opacity="0.5" stroke-width="0.8"/>
<circle cx="417.4" cy="301.5" r="2.6" fill="#6a2cd8" fill-opacity="0.5" stroke="#6a2cd8" stroke-opacity="0.5" stroke-width="0.8"/>
<circle cx="436.9" cy="285.3" r="2.6" fill="#6a2cd8" fill-opacity="0.5" stroke="#6a2cd8" stroke-opacity="0.5" stroke-width="0.8"/>
<circle cx="403.4" cy="314.4" r="2.6" fill="#6a2cd8" fill-opacity="0.5" stroke="#6a2cd8" stroke-opacity="0.5" stroke-width="0.8"/>
<circle cx="433.6" cy="286.8" r="2.6" fill="#6a2cd8" fill-opacity="0.5" stroke="#6a2cd8" stroke-opacity="0.5" stroke-width="0.8"/>
<circle cx="412.2" cy="313.8" r="2.6" fill="#6a2cd8" fill-opacity="0.5" stroke="#6a2cd8" stroke-opacity="0.5" stroke-width="0.8"/>
<circle cx="416.3" cy="301.3" r="2.6" fill="#6a2cd8" fill-opacity="0.5" stroke="#6a2cd8" stroke-opacity="0.5" stroke-width="0.8"/>
<circle cx="433.4" cy="291.6" r="2.6" fill="#6a2cd8" fill-opacity="0.5" stroke="#6a2cd8" stroke-opacity="0.5" stroke-width="0.8"/>
<circle cx="420.4" cy="298.1" r="2.6" fill="#6a2cd8" fill-opacity="0.5" stroke="#6a2cd8" stroke-opacity="0.5" stroke-width="0.8"/>
<circle cx="414.7" cy="306.6" r="2.6" fill="#6a2cd8" fill-opacity="0.5" stroke="#6a2cd8" stroke-opacity="0.5" stroke-width="0.8"/>
<circle cx="430.5" cy="291.4" r="2.6" fill="#6a2cd8" fill-opacity="0.5" stroke="#6a2cd8" stroke-opacity="0.5" stroke-width="0.8"/>
<circle cx="434.6" cy="288.1" r="2.6" fill="#6a2cd8" fill-opacity="0.5" stroke="#6a2cd8" stroke-opacity="0.5" stroke-width="0.8"/>
<circle cx="416.2" cy="301.5" r="2.6" fill="#6a2cd8" fill-opacity="0.5" stroke="#6a2cd8" stroke-opacity="0.5" stroke-width="0.8"/>
<circle cx="442.7" cy="280.5" r="2.6" fill="#6a2cd8" fill-opacity="0.5" stroke="#6a2cd8" stroke-opacity="0.5" stroke-width="0.8"/>
<circle cx="425.4" cy="296.0" r="2.6" fill="#6a2cd8" fill-opacity="0.5" stroke="#6a2cd8" stroke-opacity="0.5" stroke-width="0.8"/>
<circle cx="424.1" cy="301.3" r="2.6" fill="#6a2cd8" fill-opacity="0.5" stroke="#6a2cd8" stroke-opacity="0.5" stroke-width="0.8"/>
<circle cx="412.4" cy="307.0" r="2.6" fill="#6a2cd8" fill-opacity="0.5" stroke="#6a2cd8" stroke-opacity="0.5" stroke-width="0.8"/>
<circle cx="438.7" cy="290.7" r="2.6" fill="#6a2cd8" fill-opacity="0.5" stroke="#6a2cd8" stroke-opacity="0.5" stroke-width="0.8"/>
<circle cx="423.5" cy="297.2" r="2.6" fill="#6a2cd8" fill-opacity="0.5" stroke="#6a2cd8" stroke-opacity="0.5" stroke-width="0.8"/>
<circle cx="404.9" cy="314.5" r="2.6" fill="#6a2cd8" fill-opacity="0.5" stroke="#6a2cd8" stroke-opacity="0.5" stroke-width="0.8"/>
<circle cx="442.2" cy="287.4" r="2.6" fill="#6a2cd8" fill-opacity="0.5" stroke="#6a2cd8" stroke-opacity="0.5" stroke-width="0.8"/>
<circle cx="411.4" cy="305.4" r="2.6" fill="#6a2cd8" fill-opacity="0.5" stroke="#6a2cd8" stroke-opacity="0.5" stroke-width="0.8"/>
<circle cx="406.8" cy="316.3" r="2.6" fill="#6a2cd8" fill-opacity="0.5" stroke="#6a2cd8" stroke-opacity="0.5" stroke-width="0.8"/>
<circle cx="430.8" cy="290.5" r="2.6" fill="#6a2cd8" fill-opacity="0.5" stroke="#6a2cd8" stroke-opacity="0.5" stroke-width="0.8"/>
<circle cx="404.8" cy="313.5" r="2.6" fill="#6a2cd8" fill-opacity="0.5" stroke="#6a2cd8" stroke-opacity="0.5" stroke-width="0.8"/>
<circle cx="411.7" cy="307.5" r="2.6" fill="#6a2cd8" fill-opacity="0.5" stroke="#6a2cd8" stroke-opacity="0.5" stroke-width="0.8"/>
<circle cx="437.5" cy="287.1" r="2.6" fill="#6a2cd8" fill-opacity="0.5" stroke="#6a2cd8" stroke-opacity="0.5" stroke-width="0.8"/>
<circle cx="420.9" cy="297.4" r="2.6" fill="#6a2cd8" fill-opacity="0.5" stroke="#6a2cd8" stroke-opacity="0.5" stroke-width="0.8"/>
<circle cx="421.9" cy="294.8" r="2.6" fill="#6a2cd8" fill-opacity="0.5" stroke="#6a2cd8" stroke-opacity="0.5" stroke-width="0.8"/>
<circle cx="435.4" cy="279.6" r="2.6" fill="#6a2cd8" fill-opacity="0.5" stroke="#6a2cd8" stroke-opacity="0.5" stroke-width="0.8"/>
<circle cx="440.8" cy="281.5" r="2.6" fill="#6a2cd8" fill-opacity="0.5" stroke="#6a2cd8" stroke-opacity="0.5" stroke-width="0.8"/>
<circle cx="439.8" cy="281.8" r="2.6" fill="#6a2cd8" fill-opacity="0.5" stroke="#6a2cd8" stroke-opacity="0.5" stroke-width="0.8"/>
<circle cx="414.7" cy="305.9" r="2.6" fill="#6a2cd8" fill-opacity="0.5" stroke="#6a2cd8" stroke-opacity="0.5" stroke-width="0.8"/>
<circle cx="443.4" cy="278.3" r="2.6" fill="#1e90ff" fill-opacity="0.5" stroke="#1e90ff" stroke-opacity="0.5" stroke-width="0.8"/>
<circle cx="409.4" cy="312.4" r="2.6" fill="#1e90ff" fill-opacity="0.5" stroke="#1e90ff" stroke-opacity="0.5" stroke-width="0.8"/>
<circle cx="443.4" cy="279.3" r="2.6" fill="#1e90ff" fill-opacity="0.5" stroke="#1e90ff" stroke-opacity="0.5" stroke-width="0.8"/>
<circle cx="442.2" cy="280.7" r="2.6" fill="#1e90ff" fill-opacity="0.5" stroke="#1e90ff" stroke-opacity="0.5" stroke-width="0.8"/>
<circle cx="418.5" cy="298.3" r="2.6" fill="#1e90ff" fill-opacity="0.5" stroke="#1e90ff" stroke-opacity="0.5" stroke-width="0.8"/>
<circle cx="436.8" cy="281.7" r="2.6" fill="#1e90ff" fill-opacity="0.5" stroke="#1e90ff" stroke-opacity="0.5" stroke-width="0.8"/>
<circle cx="416.1" cy="302.7" r="2.6" fill="#1e90ff" fill-opacity="0.5" stroke="#1e90ff" stroke-opacity="0.5" stroke-width="0.8"/>
<circle cx="432.2" cy="284.3" r="2.6" fill="#1e90ff" fill-opacity="0.5" stroke="#1e90ff" stroke-opacity="0.5" stroke-width="0.8"/>
<circle cx="405.3" cy="314.8" r="2.6" fill="#1e90ff" fill-opacity="0.5" stroke="#1e90ff" stroke-opacity="0.5" stroke-width="0.8"/>
<circle cx="427.0" cy="296.4" r="2.6" fill="#1e90ff" fill-opacity="0.5" stroke="#1e90ff" stroke-opacity="0.5" stroke-width="0.8"/>
<circle cx="421.2" cy="301.8" r="2.6" fill="#1e90ff" fill-opacity="0.5" stroke="#1e90ff" stroke-opacity="0.5" stroke-width="0.8"/>
<circle cx="423.7" cy="299.9" r="2.6" fill="#1e90ff" fill-opacity="0.5" stroke="#1e90ff" stroke-opacity="0.5" stroke-width="0.8"/>
<circle cx="420.4" cy="302.0" r="2.6" fill="#1e90ff" fill-opacity="0.5" stroke="#1e90ff" stroke-opacity="0.5" stroke-width="0.8"/>
<circle cx="426.8" cy="295.0" r="2.6" fill="#1e90ff" fill-opacity="0.5" stroke="#1e90ff" stroke-opacity="0.5" stroke-width="0.8"/>
<circle cx="428.2" cy="293.6" r="2.6" fill="#1e90ff" fill-opacity="0.5" stroke="#1e90ff" stroke-opacity="0.5" stroke-width="0.8"/>
<circle cx="404.5" cy="318.6" r="2.6" fill="#1e90ff" fill-opacity="0.5" stroke="#1e90ff" stroke-opacity="0.5" stroke-width="0.8"/>
<circle cx="433.8" cy="284.6" r="2.6" fill="#1e90ff" fill-opacity="0.5" stroke="#1e90ff" stroke-opacity="0.5" stroke-width="0.8"/>
<circle cx="424.8" cy="295.7" r="2.6" fill="#1e90ff" fill-opacity="0.5" stroke="#1e90ff" stroke-opacity="0.5" stroke-width="0.8"/>
<circle cx="444.5" cy="279.3" r="2.6" fill="#1e90ff" fill-opacity="0.5" stroke="#1e90ff" stroke-opacity="0.5" stroke-width="0.8"/>
<circle cx="420.3" cy="301.5" r="2.6" fill="#1e90ff" fill-opacity="0.5" stroke="#1e90ff" stroke-opacity="0.5" stroke-width="0.8"/>
<circle cx="403.2" cy="318.8" r="2.6" fill="#1e90ff" fill-opacity="0.5" stroke="#1e90ff" stroke-opacity="0.5" stroke-width="0.8"/>
<circle cx="433.8" cy="289.6" r="2.6" fill="#1e90ff" fill-opacity="0.5" stroke="#1e90ff" stroke-opacity="0.5" stroke-width="0.8"/>
<circle cx="420.3" cy="298.7" r="2.6" fill="#1e90ff" fill-opacity="0.5" stroke="#1e90ff" stroke-opacity="0.5" stroke-width="0.8"/>
<circle cx="412.5" cy="307.3" r="2.6" fill="#1e90ff" fill-opacity="0.5" stroke="#1e90ff" stroke-opacity="0.5" stroke-width="0.8"/>
<circle cx="419.9" cy="303.9" r="2.6" fill="#1e90ff" fill-opacity="0.5" stroke="#1e90ff" stroke-opacity="0.5" stroke-width="0.8"/>
<circle cx="421.3" cy="299.3" r="2.6" fill="#1e90ff" fill-opacity="0.5" stroke="#1e90ff" stroke-opacity="0.5" stroke-width="0.8"/>
<circle cx="421.5" cy="301.1" r="2.6" fill="#1e90ff" fill-opacity="0.5" stroke="#1e90ff" stroke-opacity="0.5" stroke-width="0.8"/>
<circle cx="414.9" cy="305.1" r="2.6" fill="#1e90ff" fill-opacity="0.5" stroke="#1e90ff" stroke-opacity="0.5" stroke-width="0.8"/>
<circle cx="440.9" cy="282.2" r="2.6" fill="#1e90ff" fill-opacity="0.5" stroke="#1e90ff" stroke-opacity="0.5" stroke-width="0.8"/>
<circle cx="404.9" cy="315.1" r="2.6" fill="#1e90ff" fill-opacity="0.5" stroke="#1e90ff" stroke-opacity="0.5" stroke-width="0.8"/>
<circle cx="431.5" cy="284.8" r="2.6" fill="#1e90ff" fill-opacity="0.5" stroke="#1e90ff" stroke-opacity="0.5" stroke-width="0.8"/>
<circle cx="410.4" cy="309.8" r="2.6" fill="#1e90ff" fill-opacity="0.5" stroke="#1e90ff" stroke-opacity="0.5" stroke-width="0.8"/>
<circle cx="421.4" cy="300.8" r="2.6" fill="#1e90ff" fill-opacity="0.5" stroke="#1e90ff" stroke-opacity="0.5" stroke-width="0.8"/>
<circle cx="428.4" cy="294.5" r="2.6" fill="#1e90ff" fill-opacity="0.5" stroke="#1e90ff" stroke-opacity="0.5" stroke-width="0.8"/>
<circle cx="417.0" cy="299.3" r="2.6" fill="#1e90ff" fill-opacity="0.5" stroke="#1e90ff" stroke-opacity="0.5" stroke-width="0.8"/>
<circle cx="438.4" cy="281.8" r="2.6" fill="#1e90ff" fill-opacity="0.5" stroke="#1e90ff" stroke-opacity="0.5" stroke-width="0.8"/>
<circle cx="436.3" cy="287.6" r="2.6" fill="#1e90ff" fill-opacity="0.5" stroke="#1e90ff" stroke-opacity="0.5" stroke-width="0.8"/>
<circle cx="405.4" cy="314.6" r="2.6" fill="#1e90ff" fill-opacity="0.5" stroke="#1e90ff" stroke-opacity="0.5" stroke-width="0.8"/>
<circle cx="411.1" cy="313.6" r="2.6" fill="#1e90ff" fill-opacity="0.5" stroke="#1e90ff" stroke-opacity="0.5" stroke-width="0.8"/>
<circle cx="436.6" cy="277.7" r="2.6" fill="#1e90ff" fill-opacity="0.5" stroke="#1e90ff" stroke-opacity="0.5" stroke-width="0.8"/>
<circle cx="438.6" cy="282.2" r="2.6" fill="#1e90ff" fill-opacity="0.5" stroke="#1e90ff" stroke-opacity="0.5" stroke-width="0.8"/>
<circle cx="442.7" cy="277.5" r="2.6" fill="#1e90ff" fill-opacity="0.5" stroke="#1e90ff" stroke-opacity="0.5" stroke-width="0.8"/>
<circle cx="419.4" cy="296.3" r="2.6" fill="#1e90ff" fill-opacity="0.5" stroke="#1e90ff" stroke-opacity="0.5" stroke-width="0.8"/>
<circle cx="437.8" cy="286.5" r="2.6" fill="#1e90ff" fill-opacity="0.5" stroke="#1e90ff" stroke-opacity="0.5" stroke-width="0.8"/>
<circle cx="405.8" cy="312.9" r="2.6" fill="#1e90ff" fill-opacity="0.5" stroke="#1e90ff" stroke-opacity="0.5" stroke-width="0.8"/>
<circle cx="408.5" cy="312.7" r="2.6" fill="#1e90ff" fill-opacity="0.5" stroke="#1e90ff" stroke-opacity="0.5" stroke-width="0.8"/>
<circle cx="422.9" cy="299.0" r="2.6" fill="#1e90ff" fill-opacity="0.5" stroke="#1e90ff" stroke-opacity="0.5" stroke-width="0.8"/>
<circle cx="440.5" cy="279.0" r="2.6" fill="#1e90ff" fill-opacity="0.5" stroke="#1e90ff" stroke-opacity="0.5" stroke-width="0.8"/>
<circle cx="426.9" cy="293.4" r="2.6" fill="#1e90ff" fill-opacity="0.5" stroke="#1e90ff" stroke-opacity="0.5" stroke-width="0.8"/>
<circle cx="410.4" cy="302.4" r="2.6" fill="#1e90ff" fill-opacity="0.5" stroke="#1e90ff" stroke-opacity="0.5" stroke-width="0.8"/>
<circle cx="425.6" cy="295.8" r="2.6" fill="#1e90ff" fill-opacity="0.5" stroke="#1e90ff" stroke-opacity="0.5" stroke-width="0.8"/>
<circle cx="421.5" cy="297.4" r="2.6" fill="#1e90ff" fill-opacity="0.5" stroke="#1e90ff" stroke-opacity="0.5" stroke-width="0.8"/>
<circle cx="405.3" cy="317.6" r="2.6" fill="#1e90ff" fill-opacity="0.5" stroke="#1e90ff" stroke-opacity="0.5" stroke-width="0.8"/>
<circle cx="417.4" cy="302.1" r="2.6" fill="#1e90ff" fill-opacity="0.5" stroke="#1e90ff" stroke-opacity="0.5" stroke-width="0.8"/>
<circle cx="436.9" cy="282.9" r="2.6" fill="#1e90ff" fill-opacity="0.5" stroke="#1e90ff" stroke-opacity="0.5" stroke-width="0.8"/>
<circle cx="403.4" cy="314.8" r="2.6" fill="#1e90ff" fill-opacity="0.5" stroke="#1e90ff" stroke-opacity="0.5" stroke-width="0.8"/>
<circle cx="433.6" cy="286.1" r="2.6" fill="#1e90ff" fill-opacity="0.5" stroke="#1e90ff" stroke-opacity="0.5" stroke-width="0.8"/>
<circle cx="412.2" cy="310.3" r="2.6" fill="#1e90ff" fill-opacity="0.5" stroke="#1e90ff" stroke-opacity="0.5" stroke-width="0.8"/>
<circle cx="416.3" cy="303.0" r="2.6" fill="#1e90ff" fill-opacity="0.5" stroke="#1e90ff" stroke-opacity="0.5" stroke-width="0.8"/>
<circle cx="433.4" cy="292.4" r="2.6" fill="#1e90ff" fill-opacity="0.5" stroke="#1e90ff" stroke-opacity="0.5" stroke-width="0.8"/>
<circle cx="420.4" cy="300.7" r="2.6" fill="#1e90ff" fill-opacity="0.5" stroke="#1e90ff" stroke-opacity="0.5" stroke-width="0.8"/>
<circle cx="414.7" cy="306.2" r="2.6" fill="#1e90ff" fill-opacity="0.5" stroke="#1e90ff" stroke-opacity="0.5" stroke-width="0.8"/>
<circle cx="430.5" cy="290.7" r="2.6" fill="#1e90ff" fill-opacity="0.5" stroke="#1e90ff" stroke-opacity="0.5" stroke-width="0.8"/>
<circle cx="434.6" cy="286.3" r="2.6" fill="#1e90ff" fill-opacity="0.5" stroke="#1e90ff" stroke-opacity="0.5" stroke-width="0.8"/>
<circle cx="416.2" cy="301.7" r="2.6" fill="#1e90ff" fill-opacity="0.5" stroke="#1e90ff" stroke-opacity="0.5" stroke-width="0.8"/>
<circle cx="442.7" cy="281.4" r="2.6" fill="#1e90ff" fill-opacity="0.5" stroke="#1e90ff" stroke-opacity="0.5" stroke-width="0.8"/>
<circle cx="425.4" cy="294.7" r="2.6" fill="#1e90ff" fill-opacity="0.5" stroke="#1e90ff" stroke-opacity="0.5" stroke-width="0.8"/>
<circle cx="424.1" cy="300.0" r="2.6" fill="#1e90ff" fill-opacity="0.5" stroke="#1e90ff" stroke-opacity="0.5" stroke-width="0.8"/>
<circle cx="412.4" cy="307.6" r="2.6" fill="#1e90ff" fill-opacity="0.5" stroke="#1e90ff" stroke-opacity="0.5" stroke-width="0.8"/>
<circle cx="438.7" cy="290.6" r="2.6" fill="#1e90ff" fill-opacity="0.5" stroke="#1e90ff" stroke-opacity="0.5" stroke-width="0.8"/>
<circle cx="423.5" cy="298.4" r="2.6" fill="#1e90ff" fill-opacity="0.5" stroke="#1e90ff" stroke-opacity="0.5" stroke-width="0.8"/>
<circle cx="404.9" cy="314.8" r="2.6" fill="#1e90ff" fill-opacity="0.5" stroke="#1e90ff" stroke-opacity="0.5" stroke-width="0.8"/>
<circle cx="442.2" cy="287.0" r="2.6" fill="#1e90ff" fill-opacity="0.5" stroke="#1e90ff" stroke-opacity="0.5" stroke-width="0.8"/>
<circle cx="411.4" cy="305.1" r="2.6" fill="#1e90ff" fill-opacity="0.5" stroke="#1e90ff" stroke-opacity="0.5" stroke-width="0.8"/>
<circle cx="406.8" cy="317.2" r="2.6" fill="#1e90ff" fill-opacity="0.5" stroke="#1e90ff" stroke-opacity="0.5" stroke-width="0.8"/>
<circle cx="430.8" cy="290.9" r="2.6" fill="#1e90ff" fill-opacity="0.5" stroke="#1e90ff" stroke-opacity="0.5" stroke-width="0.8"/>
<circle cx="404.8" cy="315.1" r="2.6" fill="#1e90ff" fill-opacity="0.5" stroke="#1e90ff" stroke-opacity="0.5" stroke-width="0.8"/>
<circle cx="411.7" cy="307.3" r="2.6" fill="#1e90ff" fill-opacity="0.5" stroke="#1e90ff" stroke-opacity="0.5" stroke-width="0.8"/>
<circle cx="437.5" cy="286.9" r="2.6" fill="#1e90ff" fill-opacity="0.5" stroke="#1e90ff" stroke-opacity="0.5" stroke-width="0.8"/>
<circle cx="420.9" cy="296.8" r="2.6" fill="#1e90ff" fill-opacity="0.5" stroke="#1e90ff" stroke-opacity="0.5" stroke-width="0.8"/>
<circle cx="421.9" cy="293.2" r="2.6" fill="#1e90ff" fill-opacity="0.5" stroke="#1e90ff" stroke-opacity="0.5" stroke-width="0.8"/>
<circle cx="435.4" cy="279.9" r="2.6" fill="#1e90ff" fill-opacity="0.5" stroke="#1e90ff" stroke-opacity="0.5" stroke-width="0.8"/>
<circle cx="440.8" cy="282.0" r="2.6" fill="#1e90ff" fill-opacity="0.5" stroke="#1e90ff" stroke-opacity="0.5" stroke-width="0.8"/>
<circle cx="439.8" cy="282.0" r="2.6" fill="#1e90ff" fill-opacity="0.5" stroke="#1e90ff" stroke-opacity="0.5" stroke-width="0.8"/>
<circle cx="414.7" cy="305.9" r="2.6" fill="#1e90ff" fill-opacity="0.5" stroke="#1e90ff" stroke-opacity="0.5" stroke-width="0.8"/>
<circle cx="443.4" cy="278.5" r="2.6" fill="#0f3cf5" fill-opacity="0.5" stroke="#0f3cf5" stroke-opacity="0.5" stroke-width="0.8"/>
<circle cx="409.4" cy="312.1" r="2.6" fill="#0f3cf5" fill-opacity="0.5" stroke="#0f3cf5" stroke-opacity="0.5" stroke-width="0.8"/>
<circle cx="443.4" cy="281.5" r="2.6" fill="#0f3cf5" fill-opacity="0.5" stroke="#0f3cf5" stroke-opacity="0.5" stroke-width="0.8"/>
<circle cx="442.2" cy="281.4" r="2.6" fill="#0f3cf5" fill-opacity="0.5" stroke="#0f3cf5" stroke-opacity="0.5" stroke-width="0.8"/>
<circle cx="418.5" cy="301.8" r="2.6" fill="#0f3cf5" fill-opacity="0.5" stroke="#0f3cf5" stroke-opacity="0.5" stroke-width="0.8"/>
<circle cx="436.8" cy="282.9" r="2.6" fill="#0f3cf5" fill-opacity="0.5" stroke="#0f3cf5" stroke-opacity="0.5" stroke-width="0.8"/>
<circle cx="416.1" cy="305.3" r="2.6" fill="#0f3cf5" fill-opacity="0.5" stroke="#0f3cf5" stroke-opacity="0.5" stroke-width="0.8"/>
<circle cx="432.2" cy="286.7" r="2.6" fill="#0f3cf5" fill-opacity="0.5" stroke="#0f3cf5" stroke-opacity="0.5" stroke-width="0.8"/>
<circle cx="405.3" cy="315.4" r="2.6" fill="#0f3cf5" fill-opacity="0.5" stroke="#0f3cf5" stroke-opacity="0.5" stroke-width="0.8"/>
<circle cx="427.0" cy="297.9" r="2.6" fill="#0f3cf5" fill-opacity="0.5" stroke="#0f3cf5" stroke-opacity="0.5" stroke-width="0.8"/>
<circle cx="421.2" cy="302.1" r="2.6" fill="#0f3cf5" fill-opacity="0.5" stroke="#0f3cf5" stroke-opacity="0.5" stroke-width="0.8"/>
<circle cx="423.7" cy="296.6" r="2.6" fill="#0f3cf5" fill-opacity="0.5" stroke="#0f3cf5" stroke-opacity="0.5" stroke-width="0.8"/>
<circle cx="420.4" cy="303.7" r="2.6" fill="#0f3cf5" fill-opacity="0.5" stroke="#0f3cf5" stroke-opacity="0.5" stroke-width="0.8"/>
<circle cx="426.8" cy="295.7" r="2.6" fill="#0f3cf5" fill-opacity="0.5" stroke="#0f3cf5" stroke-opacity="0.5" stroke-width="0.8"/>
<circle cx="428.2" cy="293.8" r="2.6" fill="#0f3cf5" fill-opacity="0.5" stroke="#0f3cf5" stroke-opacity="0.5" stroke-width="0.8"/>
<circle cx="404.5" cy="318.8" r="2.6" fill="#0f3cf5" fill-opacity="0.5" stroke="#0f3cf5" stroke-opacity="0.5" stroke-width="0.8"/>
<circle cx="433.8" cy="287.4" r="2.6" fill="#0f3cf5" fill-opacity="0.5" stroke="#0f3cf5" stroke-opacity="0.5" stroke-width="0.8"/>
<circle cx="424.8" cy="294.8" r="2.6" fill="#0f3cf5" fill-opacity="0.5" stroke="#0f3cf5" stroke-opacity="0.5" stroke-width="0.8"/>
<circle cx="444.5" cy="279.7" r="2.6" fill="#0f3cf5" fill-opacity="0.5" stroke="#0f3cf5" stroke-opacity="0.5" stroke-width="0.8"/>
<circle cx="420.3" cy="301.2" r="2.6" fill="#0f3cf5" fill-opacity="0.5" stroke="#0f3cf5" stroke-opacity="0.5" stroke-width="0.8"/>
<circle cx="403.2" cy="318.2" r="2.6" fill="#0f3cf5" fill-opacity="0.5" stroke="#0f3cf5" stroke-opacity="0.5" stroke-width="0.8"/>
<circle cx="433.8" cy="289.2" r="2.6" fill="#0f3cf5" fill-opacity="0.5" stroke="#0f3cf5" stroke-opacity="0.5" stroke-width="0.8"/>
<circle cx="420.3" cy="296.9" r="2.6" fill="#0f3cf5" fill-opacity="0.5" stroke="#0f3cf5" stroke-opacity="0.5" stroke-width="0.8"/>
<circle cx="412.5" cy="307.7" r="2.6" fill="#0f3cf5" fill-opacity="0.5" stroke="#0f3cf5" stroke-opacity="0.5" stroke-width="0.8"/>
<circle cx="419.9" cy="301.5" r="2.6" fill="#0f3cf5" fill-opacity="0.5" stroke="#0f3cf5" stroke-opacity="0.5" stroke-width="0.8"/>
<circle cx="421.3" cy="297.8" r="2.6" fill="#0f3cf5" fill-opacity="0.5" stroke="#0f3cf5" stroke-opacity="0.5" stroke-width="0.8"/>
<circle cx="421.5" cy="299.0" r="2.6" fill="#0f3cf5" fill-opacity="0.5" stroke="#0f3cf5" stroke-opacity="0.5" stroke-width="0.8"/>
<circle cx="414.9" cy="306.1" r="2.6" fill="#0f3cf5" fill-opacity="0.5" stroke="#0f3cf5" stroke-opacity="0.5" stroke-width="0.8"/>
<circle cx="440.9" cy="281.8" r="2.6" fill="#0f3cf5" fill-opacity="0.5" stroke="#0f3cf5" stroke-opacity="0.5" stroke-width="0.8"/>
<circle cx="404.9" cy="315.3" r="2.6" fill="#0f3cf5" fill-opacity="0.5" stroke="#0f3cf5" stroke-opacity="0.5" stroke-width="0.8"/>
<circle cx="431.5" cy="283.2" r="2.6" fill="#0f3cf5" fill-opacity="0.5" stroke="#0f3cf5" stroke-opacity="0.5" stroke-width="0.8"/>
<circle cx="410.4" cy="311.9" r="2.6" fill="#0f3cf5" fill-opacity="0.5" stroke="#0f3cf5" stroke-opacity="0.5" stroke-width="0.8"/>
<circle cx="421.4" cy="302.6" r="2.6" fill="#0f3cf5" fill-opacity="0.5" stroke="#0f3cf5" stroke-opacity="0.5" stroke-width="0.8"/>
<circle cx="428.4" cy="296.3" r="2.6" fill="#0f3cf5" fill-opacity="0.5" stroke="#0f3cf5" stroke-opacity="0.5" stroke-width="0.8"/>
<circle cx="417.0" cy="301.3" r="2.6" fill="#0f3cf5" fill-opacity="0.5" stroke="#0f3cf5" stroke-opacity="0.5" stroke-width="0.8"/>
<circle cx="438.4" cy="280.3" r="2.6" fill="#0f3cf5" fill-opacity="0.5" stroke="#0f3cf5" stroke-opacity="0.5" stroke-width="0.8"/>
<circle cx="436.3" cy="288.1" r="2.6" fill="#0f3cf5" fill-opacity="0.5" stroke="#0f3cf5" stroke-opacity="0.5" stroke-width="0.8"/>
<circle cx="405.4" cy="315.5" r="2.6" fill="#0f3cf5" fill-opacity="0.5" stroke="#0f3cf5" stroke-opacity="0.5" stroke-width="0.8"/>
<circle cx="411.1" cy="313.6" r="2.6" fill="#0f3cf5" fill-opacity="0.5" stroke="#0f3cf5" stroke-opacity="0.5" stroke-width="0.8"/>
<circle cx="436.6" cy="280.1" r="2.6" fill="#0f3cf5" fill-opacity="0.5" stroke="#0f3cf5" stroke-opacity="0.5" stroke-width="0.8"/>
<circle cx="438.6" cy="281.2" r="2.6" fill="#0f3cf5" fill-opacity="0.5" stroke="#0f3cf5" stroke-opacity="0.5" stroke-width="0.8"/>
<circle cx="442.7" cy="278.2" r="2.6" fill="#0f3cf5" fill-opacity="0.5" stroke="#0f3cf5" stroke-opacity="0.5" stroke-width="0.8"/>
<circle cx="419.4" cy="298.2" r="2.6" fill="#0f3cf5" fill-opacity="0.5" stroke="#0f3cf5" stroke-opacity="0.5" stroke-width="0.8"/>
<circle cx="437.8" cy="284.8" r="2.6" fill="#0f3cf5" fill-opacity="0.5" stroke="#0f3cf5" stroke-opacity="0.5" stroke-width="0.8"/>
<circle cx="405.8" cy="312.3" r="2.6" fill="#0f3cf5" fill-opacity="0.5" stroke="#0f3cf5" stroke-opacity="0.5" stroke-width="0.8"/>
<circle cx="408.5" cy="311.8" r="2.6" fill="#0f3cf5" fill-opacity="0.5" stroke="#0f3cf5" stroke-opacity="0.5" stroke-width="0.8"/>
<circle cx="422.9" cy="299.3" r="2.6" fill="#0f3cf5" fill-opacity="0.5" stroke="#0f3cf5" stroke-opacity="0.5" stroke-width="0.8"/>
<circle cx="440.5" cy="277.9" r="2.6" fill="#0f3cf5" fill-opacity="0.5" stroke="#0f3cf5" stroke-opacity="0.5" stroke-width="0.8"/>
<circle cx="426.9" cy="293.0" r="2.6" fill="#0f3cf5" fill-opacity="0.5" stroke="#0f3cf5" stroke-opacity="0.5" stroke-width="0.8"/>
<circle cx="410.4" cy="304.0" r="2.6" fill="#0f3cf5" fill-opacity="0.5" stroke="#0f3cf5" stroke-opacity="0.5" stroke-width="0.8"/>
<circle cx="425.6" cy="294.1" r="2.6" fill="#0f3cf5" fill-opacity="0.5" stroke="#0f3cf5" stroke-opacity="0.5" stroke-width="0.8"/>
<circle cx="421.5" cy="296.1" r="2.6" fill="#0f3cf5" fill-opacity="0.5" stroke="#0f3cf5" stroke-opacity="0.5" stroke-width="0.8"/>
<circle cx="405.3" cy="316.6" r="2.6" fill="#0f3cf5" fill-opacity="0.5" stroke="#0f3cf5" stroke-opacity="0.5" stroke-width="0.8"/>
<circle cx="417.4" cy="301.1" r="2.6" fill="#0f3cf5" fill-opacity="0.5" stroke="#0f3cf5" stroke-opacity="0.5" stroke-width="0.8"/>
<circle cx="436.9" cy="285.5" r="2.6" fill="#0f3cf5" fill-opacity="0.5" stroke="#0f3cf5" stroke-opacity="0.5" stroke-width="0.8"/>
<circle cx="403.4" cy="313.3" r="2.6" fill="#0f3cf5" fill-opacity="0.5" stroke="#0f3cf5" stroke-opacity="0.5" stroke-width="0.8"/>
<circle cx="433.6" cy="284.7" r="2.6" fill="#0f3cf5" fill-opacity="0.5" stroke="#0f3cf5" stroke-opacity="0.5" stroke-width="0.8"/>
<circle cx="412.2" cy="312.5" r="2.6" fill="#0f3cf5" fill-opacity="0.5" stroke="#0f3cf5" stroke-opacity="0.5" stroke-width="0.8"/>
<circle cx="416.3" cy="300.1" r="2.6" fill="#0f3cf5" fill-opacity="0.5" stroke="#0f3cf5" stroke-opacity="0.5" stroke-width="0.8"/>
<circle cx="433.4" cy="290.2" r="2.6" fill="#0f3cf5" fill-opacity="0.5" stroke="#0f3cf5" stroke-opacity="0.5" stroke-width="0.8"/>
<circle cx="420.4" cy="299.9" r="2.6" fill="#0f3cf5" fill-opacity="0.5" stroke="#0f3cf5" stroke-opacity="0.5" stroke-width="0.8"/>
<circle cx="414.7" cy="306.9" r="2.6" fill="#0f3cf5" fill-opacity="0.5" stroke="#0f3cf5" stroke-opacity="0.5" stroke-width="0.8"/>
<circle cx="430.5" cy="291.4" r="2.6" fill="#0f3cf5" fill-opacity="0.5" stroke="#0f3cf5" stroke-opacity="0.5" stroke-width="0.8"/>
<circle cx="434.6" cy="285.7" r="2.6" fill="#0f3cf5" fill-opacity="0.5" stroke="#0f3cf5" stroke-opacity="0.5" stroke-width="0.8"/>
<circle cx="416.2" cy="302.4" r="2.6" fill="#0f3cf5" fill-opacity="0.5" stroke="#0f3cf5" stroke-opacity="0.5" stroke-width="0.8"/>
<circle cx="442.7" cy="280.7" r="2.6" fill="#0f3cf5" fill-opacity="0.5" stroke="#0f3cf5" stroke-opacity="0.5" stroke-width="0.8"/>
<circle cx="425.4" cy="295.2" r="2.6" fill="#0f3cf5" fill-opacity="0.5" stroke="#0f3cf5" stroke-opacity="0.5" stroke-width="0.8"/>
<circle cx="424.1" cy="300.9" r="2.6" fill="#0f3cf5" fill-opacity="0.5" stroke="#0f3cf5" stroke-opacity="0.5" stroke-width="0.8"/>
<circle cx="412.4" cy="307.0" r="2.6" fill="#0f3cf5" fill-opacity="0.5" stroke="#0f3cf5" stroke-opacity="0.5" stroke-width="0.8"/>
<circle cx="438.7" cy="290.7" r="2.6" fill="#0f3cf5" fill-opacity="0.5" stroke="#0f3cf5" stroke-opacity="0.5" stroke-width="0.8"/>
<circle cx="423.5" cy="298.7" r="2.6" fill="#0f3cf5" fill-opacity="0.5" stroke="#0f3cf5" stroke-opacity="0.5" stroke-width="0.8"/>
<circle cx="404.9" cy="314.0" r="2.6" fill="#0f3cf5" fill-opacity="0.5" stroke="#0f3cf5" stroke-opacity="0.5" stroke-width="0.8"/>
<circle cx="442.2" cy="288.2" r="2.6" fill="#0f3cf5" fill-opacity="0.5" stroke="#0f3cf5" stroke-opacity="0.5" stroke-width="0.8"/>
<circle cx="411.4" cy="304.0" r="2.6" fill="#0f3cf5" fill-opacity="0.5" stroke="#0f3cf5" stroke-opacity="0.5" stroke-width="0.8"/>
<circle cx="406.8" cy="315.0" r="2.6" fill="#0f3cf5" fill-opacity="0.5" stroke="#0f3cf5" stroke-opacity="0.5" stroke-width="0.8"/>
<circle cx="430.8" cy="288.6" r="2.6" fill="#0f3cf5" fill-opacity="0.5" stroke="#0f3cf5" stroke-opacity="0.5" stroke-width="0.8"/>
<circle cx="404.8" cy="315.3" r="2.6" fill="#0f3cf5" fill-opacity="0.5" stroke="#0f3cf5" stroke-opacity="0.5" stroke-width="0.8"/>
<circle cx="411.7" cy="305.4" r="2.6" fill="#0f3cf5" fill-opacity="0.5" stroke="#0f3cf5" stroke-opacity="0.5" stroke-width="0.8"/>
<circle cx="437.5" cy="287.8" r="2.6" fill="#0f3cf5" fill-opacity="0.5" stroke="#0f3cf5" stroke-opacity="0.5" stroke-width="0.8"/>
<circle cx="420.9" cy="296.7" r="2.6" fill="#0f3cf5" fill-opacity="0.5" stroke="#0f3cf5" stroke-opacity="0.5" stroke-width="0.8"/>
<circle cx="421.9" cy="291.9" r="2.6" fill="#0f3cf5" fill-opacity="0.5" stroke="#0f3cf5" stroke-opacity="0.5" stroke-width="0.8"/>
<circle cx="435.4" cy="281.4" r="2.6" fill="#0f3cf5" fill-opacity="0.5" stroke="#0f3cf5" stroke-opacity="0.5" stroke-width="0.8"/>
<circle cx="440.8" cy="281.2" r="2.6" fill="#0f3cf5" fill-opacity="0.5" stroke="#0f3cf5" stroke-opacity="0.5" stroke-width="0.8"/>
<circle cx="439.8" cy="281.0" r="2.6" fill="#0f3cf5" fill-opacity="0.5" stroke="#0f3cf5" stroke-opacity="0.5" stroke-width="0.8"/>
<circle cx="414.7" cy="305.5" r="2.6" fill="#0f3cf5" fill-opacity="0.5" stroke="#0f3cf5" stroke-opacity="0.5" stroke-width="0.8"/>
<circle cx="667.8" cy="84.6" r="2.6" fill="#1e90ff" fill-opacity="0.5" stroke="#1e90ff" stroke-opacity="0.5" stroke-width="0.8"/>
<circle cx="644.5" cy="87.4" r="2.6" fill="#1e90ff" fill-opacity="0.5" stroke="#1e90ff" stroke-opacity="0.5" stroke-width="0.8"/>
<circle cx="648.7" cy="90.7" r="2.6" fill="#1e90ff" fill-opacity="0.5" stroke="#1e90ff" stroke-opacity="0.5" stroke-width="0.8"/>
<circle cx="619.8" cy="132.2" r="2.6" fill="#1e90ff" fill-opacity="0.5" stroke="#1e90ff" stroke-opacity="0.5" stroke-width="0.8"/>
<circle cx="588.0" cy="137.8" r="2.6" fill="#1e90ff" fill-opacity="0.5" stroke="#1e90ff" stroke-opacity="0.5" stroke-width="0.8"/>
<circle cx="581.5" cy="140.1" r="2.6" fill="#1e90ff" fill-opacity="0.5" stroke="#1e90ff" stroke-opacity="0.5" stroke-width="0.8"/>
<circle cx="595.5" cy="146.2" r="2.6" fill="#1e90ff" fill-opacity="0.5" stroke="#1e90ff" stroke-opacity="0.5" stroke-width="0.8"/>
<circle cx="553.0" cy="150.2" r="2.6" fill="#1e90ff" fill-opacity="0.5" stroke="#1e90ff" stroke-opacity="0.5" stroke-width="0.8"/>
<circle cx="570.3" cy="174.2" r="2.6" fill="#1e90ff" fill-opacity="0.5" stroke="#1e90ff" stroke-opacity="0.5" stroke-width="0.8"/>
<circle cx="542.8" cy="186.8" r="2.6" fill="#1e90ff" fill-opacity="0.5" stroke="#1e90ff" stroke-opacity="0.5" stroke-width="0.8"/>
<circle cx="520.9" cy="175.1" r="2.6" fill="#1e90ff" fill-opacity="0.5" stroke="#1e90ff" stroke-opacity="0.5" stroke-width="0.8"/>
<circle cx="528.8" cy="201.2" r="2.6" fill="#1e90ff" fill-opacity="0.5" stroke="#1e90ff" stroke-opacity="0.5" stroke-width="0.8"/>
<circle cx="512.5" cy="204.0" r="2.6" fill="#1e90ff" fill-opacity="0.5" stroke="#1e90ff" stroke-opacity="0.5" stroke-width="0.8"/>
<circle cx="514.3" cy="213.4" r="2.6" fill="#1e90ff" fill-opacity="0.5" stroke="#1e90ff" stroke-opacity="0.5" stroke-width="0.8"/>
<circle cx="515.3" cy="223.2" r="2.6" fill="#1e90ff" fill-opacity="0.5" stroke="#1e90ff" stroke-opacity="0.5" stroke-width="0.8"/>
<circle cx="517.1" cy="226.4" r="2.6" fill="#1e90ff" fill-opacity="0.5" stroke="#1e90ff" stroke-opacity="0.5" stroke-width="0.8"/>
<circle cx="522.3" cy="212.4" r="2.6" fill="#1e90ff" fill-opacity="0.5" stroke="#1e90ff" stroke-opacity="0.5" stroke-width="0.8"/>
<circle cx="523.2" cy="220.4" r="2.6" fill="#1e90ff" fill-opacity="0.5" stroke="#1e90ff" stroke-opacity="0.5" stroke-width="0.8"/>
<circle cx="514.8" cy="240.0" r="2.6" fill="#1e90ff" fill-opacity="0.5" stroke="#1e90ff" stroke-opacity="0.5" stroke-width="0.8"/>
<circle cx="496.1" cy="220.8" r="2.6" fill="#1e90ff" fill-opacity="0.5" stroke="#1e90ff" stroke-opacity="0.5" stroke-width="0.8"/>
<circle cx="503.1" cy="227.8" r="2.6" fill="#1e90ff" fill-opacity="0.5" stroke="#1e90ff" stroke-opacity="0.5" stroke-width="0.8"/>
<circle cx="497.5" cy="232.5" r="2.6" fill="#1e90ff" fill-opacity="0.5" stroke="#1e90ff" stroke-opacity="0.5" stroke-width="0.8"/>
<circle cx="482.1" cy="226.9" r="2.6" fill="#1e90ff" fill-opacity="0.5" stroke="#1e90ff" stroke-opacity="0.5" stroke-width="0.8"/>
<circle cx="481.7" cy="232.0" r="2.6" fill="#1e90ff" fill-opacity="0.5" stroke="#1e90ff" stroke-opacity="0.5" stroke-width="0.8"/>
<circle cx="482.1" cy="239.5" r="2.6" fill="#1e90ff" fill-opacity="0.5" stroke="#1e90ff" stroke-opacity="0.5" stroke-width="0.8"/>
<circle cx="480.7" cy="244.6" r="2.6" fill="#1e90ff" fill-opacity="0.5" stroke="#1e90ff" stroke-opacity="0.5" stroke-width="0.8"/>
<circle cx="492.4" cy="236.7" r="2.6" fill="#1e90ff" fill-opacity="0.5" stroke="#1e90ff" stroke-opacity="0.5" stroke-width="0.8"/>
<circle cx="491.0" cy="240.4" r="2.6" fill="#1e90ff" fill-opacity="0.5" stroke="#1e90ff" stroke-opacity="0.5" stroke-width="0.8"/>
<circle cx="493.8" cy="242.8" r="2.6" fill="#1e90ff" fill-opacity="0.5" stroke="#1e90ff" stroke-opacity="0.5" stroke-width="0.8"/>
<circle cx="487.7" cy="242.8" r="2.6" fill="#1e90ff" fill-opacity="0.5" stroke="#1e90ff" stroke-opacity="0.5" stroke-width="0.8"/>
<circle cx="495.2" cy="246.3" r="2.6" fill="#1e90ff" fill-opacity="0.5" stroke="#1e90ff" stroke-opacity="0.5" stroke-width="0.8"/>
<circle cx="491.5" cy="245.1" r="2.6" fill="#1e90ff" fill-opacity="0.5" stroke="#1e90ff" stroke-opacity="0.5" stroke-width="0.8"/>
<circle cx="462.5" cy="247.0" r="2.6" fill="#1e90ff" fill-opacity="0.5" stroke="#1e90ff" stroke-opacity="0.5" stroke-width="0.8"/>
<circle cx="466.3" cy="250.2" r="2.6" fill="#1e90ff" fill-opacity="0.5" stroke="#1e90ff" stroke-opacity="0.5" stroke-width="0.8"/>
<circle cx="476.5" cy="250.2" r="2.6" fill="#1e90ff" fill-opacity="0.5" stroke="#1e90ff" stroke-opacity="0.5" stroke-width="0.8"/>
<circle cx="470.0" cy="254.9" r="2.6" fill="#1e90ff" fill-opacity="0.5" stroke="#1e90ff" stroke-opacity="0.5" stroke-width="0.8"/>
<circle cx="475.6" cy="256.8" r="2.6" fill="#1e90ff" fill-opacity="0.5" stroke="#1e90ff" stroke-opacity="0.5" stroke-width="0.8"/>
<circle cx="475.1" cy="261.9" r="2.6" fill="#1e90ff" fill-opacity="0.5" stroke="#1e90ff" stroke-opacity="0.5" stroke-width="0.8"/>
<circle cx="464.4" cy="254.9" r="2.6" fill="#1e90ff" fill-opacity="0.5" stroke="#1e90ff" stroke-opacity="0.5" stroke-width="0.8"/>
<circle cx="466.7" cy="259.1" r="2.6" fill="#1e90ff" fill-opacity="0.5" stroke="#1e90ff" stroke-opacity="0.5" stroke-width="0.8"/>
<circle cx="460.2" cy="258.6" r="2.6" fill="#1e90ff" fill-opacity="0.5" stroke="#1e90ff" stroke-opacity="0.5" stroke-width="0.8"/>
<circle cx="463.0" cy="263.8" r="2.6" fill="#1e90ff" fill-opacity="0.5" stroke="#1e90ff" stroke-opacity="0.5" stroke-width="0.8"/>
<circle cx="456.0" cy="261.4" r="2.6" fill="#1e90ff" fill-opacity="0.5" stroke="#1e90ff" stroke-opacity="0.5" stroke-width="0.8"/>
<circle cx="457.4" cy="263.8" r="2.6" fill="#1e90ff" fill-opacity="0.5" stroke="#1e90ff" stroke-opacity="0.5" stroke-width="0.8"/>
<circle cx="449.5" cy="262.8" r="2.6" fill="#1e90ff" fill-opacity="0.5" stroke="#1e90ff" stroke-opacity="0.5" stroke-width="0.8"/>
<circle cx="449.5" cy="266.6" r="2.6" fill="#1e90ff" fill-opacity="0.5" stroke="#1e90ff" stroke-opacity="0.5" stroke-width="0.8"/>
<circle cx="463.5" cy="268.9" r="2.6" fill="#1e90ff" fill-opacity="0.5" stroke="#1e90ff" stroke-opacity="0.5" stroke-width="0.8"/>
<circle cx="454.1" cy="274.0" r="2.6" fill="#1e90ff" fill-opacity="0.5" stroke="#1e90ff" stroke-opacity="0.5" stroke-width="0.8"/>
<circle cx="443.0" cy="267.5" r="2.6" fill="#1e90ff" fill-opacity="0.5" stroke="#1e90ff" stroke-opacity="0.5" stroke-width="0.8"/>
<circle cx="443.0" cy="271.7" r="2.6" fill="#1e90ff" fill-opacity="0.5" stroke="#1e90ff" stroke-opacity="0.5" stroke-width="0.8"/>
<circle cx="447.1" cy="273.5" r="2.6" fill="#1e90ff" fill-opacity="0.5" stroke="#1e90ff" stroke-opacity="0.5" stroke-width="0.8"/>
<circle cx="442.0" cy="267.5" r="2.6" fill="#1e90ff" fill-opacity="0.5" stroke="#1e90ff" stroke-opacity="0.5" stroke-width="0.8"/>
<circle cx="449.0" cy="261.9" r="2.6" fill="#1e90ff" fill-opacity="0.5" stroke="#1e90ff" stroke-opacity="0.5" stroke-width="0.8"/>
<circle cx="449.0" cy="266.1" r="2.6" fill="#1e90ff" fill-opacity="0.5" stroke="#1e90ff" stroke-opacity="0.5" stroke-width="0.8"/>
<circle cx="438.3" cy="277.7" r="2.6" fill="#1e90ff" fill-opacity="0.5" stroke="#1e90ff" stroke-opacity="0.5" stroke-width="0.8"/>
<circle cx="472.3" cy="253.5" r="2.6" fill="#1e90ff" fill-opacity="0.5" stroke="#1e90ff" stroke-opacity="0.5" stroke-width="0.8"/>
<circle cx="477.5" cy="247.4" r="2.6" fill="#1e90ff" fill-opacity="0.5" stroke="#1e90ff" stroke-opacity="0.5" stroke-width="0.8"/>
<circle cx="477.5" cy="257.7" r="2.6" fill="#1e90ff" fill-opacity="0.5" stroke="#1e90ff" stroke-opacity="0.5" stroke-width="0.8"/>
<circle cx="455.5" cy="258.6" r="2.6" fill="#1e90ff" fill-opacity="0.5" stroke="#1e90ff" stroke-opacity="0.5" stroke-width="0.8"/>
<circle cx="450.4" cy="259.6" r="2.6" fill="#1e90ff" fill-opacity="0.5" stroke="#1e90ff" stroke-opacity="0.5" stroke-width="0.8"/>
<circle cx="452.7" cy="268.4" r="2.6" fill="#1e90ff" fill-opacity="0.5" stroke="#1e90ff" stroke-opacity="0.5" stroke-width="0.8"/>
<circle cx="458.8" cy="255.8" r="2.6" fill="#1e90ff" fill-opacity="0.5" stroke="#1e90ff" stroke-opacity="0.5" stroke-width="0.8"/>
<circle cx="469.1" cy="246.5" r="2.6" fill="#1e90ff" fill-opacity="0.5" stroke="#1e90ff" stroke-opacity="0.5" stroke-width="0.8"/>
<circle cx="472.8" cy="243.2" r="2.6" fill="#1e90ff" fill-opacity="0.5" stroke="#1e90ff" stroke-opacity="0.5" stroke-width="0.8"/>
<circle cx="486.3" cy="233.0" r="2.6" fill="#1e90ff" fill-opacity="0.5" stroke="#1e90ff" stroke-opacity="0.5" stroke-width="0.8"/>
<circle cx="667.8" cy="89.3" r="2.6" fill="#6a2cd8" fill-opacity="0.5" stroke="#6a2cd8" stroke-opacity="0.5" stroke-width="0.8"/>
<circle cx="644.5" cy="92.5" r="2.6" fill="#6a2cd8" fill-opacity="0.5" stroke="#6a2cd8" stroke-opacity="0.5" stroke-width="0.8"/>
<circle cx="648.7" cy="95.3" r="2.6" fill="#6a2cd8" fill-opacity="0.5" stroke="#6a2cd8" stroke-opacity="0.5" stroke-width="0.8"/>
<circle cx="619.8" cy="127.1" r="2.6" fill="#6a2cd8" fill-opacity="0.5" stroke="#6a2cd8" stroke-opacity="0.5" stroke-width="0.8"/>
<circle cx="588.0" cy="147.1" r="2.6" fill="#6a2cd8" fill-opacity="0.5" stroke="#6a2cd8" stroke-opacity="0.5" stroke-width="0.8"/>
<circle cx="581.5" cy="140.1" r="2.6" fill="#6a2cd8" fill-opacity="0.5" stroke="#6a2cd8" stroke-opacity="0.5" stroke-width="0.8"/>
<circle cx="595.5" cy="143.9" r="2.6" fill="#6a2cd8" fill-opacity="0.5" stroke="#6a2cd8" stroke-opacity="0.5" stroke-width="0.8"/>
<circle cx="553.0" cy="156.9" r="2.6" fill="#6a2cd8" fill-opacity="0.5" stroke="#6a2cd8" stroke-opacity="0.5" stroke-width="0.8"/>
<circle cx="570.3" cy="171.4" r="2.6" fill="#6a2cd8" fill-opacity="0.5" stroke="#6a2cd8" stroke-opacity="0.5" stroke-width="0.8"/>
<circle cx="542.8" cy="186.8" r="2.6" fill="#6a2cd8" fill-opacity="0.5" stroke="#6a2cd8" stroke-opacity="0.5" stroke-width="0.8"/>
<circle cx="520.9" cy="186.8" r="2.6" fill="#6a2cd8" fill-opacity="0.5" stroke="#6a2cd8" stroke-opacity="0.5" stroke-width="0.8"/>
<circle cx="528.8" cy="194.2" r="2.6" fill="#6a2cd8" fill-opacity="0.5" stroke="#6a2cd8" stroke-opacity="0.5" stroke-width="0.8"/>
<circle cx="512.5" cy="209.2" r="2.6" fill="#6a2cd8" fill-opacity="0.5" stroke="#6a2cd8" stroke-opacity="0.5" stroke-width="0.8"/>
<circle cx="514.3" cy="216.2" r="2.6" fill="#6a2cd8" fill-opacity="0.5" stroke="#6a2cd8" stroke-opacity="0.5" stroke-width="0.8"/>
<circle cx="515.3" cy="225.5" r="2.6" fill="#6a2cd8" fill-opacity="0.5" stroke="#6a2cd8" stroke-opacity="0.5" stroke-width="0.8"/>
<circle cx="522.3" cy="215.2" r="2.6" fill="#6a2cd8" fill-opacity="0.5" stroke="#6a2cd8" stroke-opacity="0.5" stroke-width="0.8"/>
<circle cx="523.7" cy="215.2" r="2.6" fill="#6a2cd8" fill-opacity="0.5" stroke="#6a2cd8" stroke-opacity="0.5" stroke-width="0.8"/>
<circle cx="514.8" cy="247.4" r="2.6" fill="#6a2cd8" fill-opacity="0.5" stroke="#6a2cd8" stroke-opacity="0.5" stroke-width="0.8"/>
<circle cx="496.1" cy="229.2" r="2.6" fill="#6a2cd8" fill-opacity="0.5" stroke="#6a2cd8" stroke-opacity="0.5" stroke-width="0.8"/>
<circle cx="503.1" cy="226.2" r="2.6" fill="#6a2cd8" fill-opacity="0.5" stroke="#6a2cd8" stroke-opacity="0.5" stroke-width="0.8"/>
<circle cx="497.5" cy="234.8" r="2.6" fill="#6a2cd8" fill-opacity="0.5" stroke="#6a2cd8" stroke-opacity="0.5" stroke-width="0.8"/>
<circle cx="480.7" cy="242.3" r="2.6" fill="#6a2cd8" fill-opacity="0.5" stroke="#6a2cd8" stroke-opacity="0.5" stroke-width="0.8"/>
<circle cx="492.4" cy="237.6" r="2.6" fill="#6a2cd8" fill-opacity="0.5" stroke="#6a2cd8" stroke-opacity="0.5" stroke-width="0.8"/>
<circle cx="487.7" cy="236.2" r="2.6" fill="#6a2cd8" fill-opacity="0.5" stroke="#6a2cd8" stroke-opacity="0.5" stroke-width="0.8"/>
<circle cx="495.2" cy="244.2" r="2.6" fill="#6a2cd8" fill-opacity="0.5" stroke="#6a2cd8" stroke-opacity="0.5" stroke-width="0.8"/>
<circle cx="475.1" cy="262.8" r="2.6" fill="#6a2cd8" fill-opacity="0.5" stroke="#6a2cd8" stroke-opacity="0.5" stroke-width="0.8"/>
<circle cx="463.5" cy="273.1" r="2.6" fill="#6a2cd8" fill-opacity="0.5" stroke="#6a2cd8" stroke-opacity="0.5" stroke-width="0.8"/>
<circle cx="667.8" cy="86.9" r="2.6" fill="#1818f0" fill-opacity="0.5" stroke="#1818f0" stroke-opacity="0.5" stroke-width="0.8"/>
<circle cx="644.5" cy="96.7" r="2.6" fill="#1818f0" fill-opacity="0.5" stroke="#1818f0" stroke-opacity="0.5" stroke-width="0.8"/>
<circle cx="648.7" cy="111.2" r="2.6" fill="#1818f0" fill-opacity="0.5" stroke="#1818f0" stroke-opacity="0.5" stroke-width="0.8"/>
<circle cx="619.8" cy="129.4" r="2.6" fill="#1818f0" fill-opacity="0.5" stroke="#1818f0" stroke-opacity="0.5" stroke-width="0.8"/>
<circle cx="588.0" cy="137.8" r="2.6" fill="#1818f0" fill-opacity="0.5" stroke="#1818f0" stroke-opacity="0.5" stroke-width="0.8"/>
<circle cx="581.5" cy="158.3" r="2.6" fill="#1818f0" fill-opacity="0.5" stroke="#1818f0" stroke-opacity="0.5" stroke-width="0.8"/>
<circle cx="595.5" cy="145.3" r="2.6" fill="#1818f0" fill-opacity="0.5" stroke="#1818f0" stroke-opacity="0.5" stroke-width="0.8"/>
<circle cx="553.0" cy="164.6" r="2.6" fill="#1818f0" fill-opacity="0.5" stroke="#1818f0" stroke-opacity="0.5" stroke-width="0.8"/>
<circle cx="570.3" cy="172.8" r="2.6" fill="#1818f0" fill-opacity="0.5" stroke="#1818f0" stroke-opacity="0.5" stroke-width="0.8"/>
<circle cx="542.8" cy="186.8" r="2.6" fill="#1818f0" fill-opacity="0.5" stroke="#1818f0" stroke-opacity="0.5" stroke-width="0.8"/>
<circle cx="520.9" cy="186.8" r="2.6" fill="#1818f0" fill-opacity="0.5" stroke="#1818f0" stroke-opacity="0.5" stroke-width="0.8"/>
<circle cx="528.8" cy="201.2" r="2.6" fill="#1818f0" fill-opacity="0.5" stroke="#1818f0" stroke-opacity="0.5" stroke-width="0.8"/>
<circle cx="512.5" cy="204.0" r="2.6" fill="#1818f0" fill-opacity="0.5" stroke="#1818f0" stroke-opacity="0.5" stroke-width="0.8"/>
<circle cx="514.3" cy="214.3" r="2.6" fill="#1818f0" fill-opacity="0.5" stroke="#1818f0" stroke-opacity="0.5" stroke-width="0.8"/>
<circle cx="514.3" cy="219.4" r="2.6" fill="#1818f0" fill-opacity="0.5" stroke="#1818f0" stroke-opacity="0.5" stroke-width="0.8"/>
<circle cx="515.3" cy="224.6" r="2.6" fill="#1818f0" fill-opacity="0.5" stroke="#1818f0" stroke-opacity="0.5" stroke-width="0.8"/>
<circle cx="522.3" cy="224.6" r="2.6" fill="#1818f0" fill-opacity="0.5" stroke="#1818f0" stroke-opacity="0.5" stroke-width="0.8"/>
<circle cx="514.8" cy="247.4" r="2.6" fill="#1818f0" fill-opacity="0.5" stroke="#1818f0" stroke-opacity="0.5" stroke-width="0.8"/>
<circle cx="496.1" cy="219.2" r="2.6" fill="#0f3cf5" fill-opacity="0.5" stroke="#0f3cf5" stroke-opacity="0.5" stroke-width="0.8"/>
<circle cx="503.1" cy="230.6" r="2.6" fill="#1818f0" fill-opacity="0.5" stroke="#1818f0" stroke-opacity="0.5" stroke-width="0.8"/>
<circle cx="503.1" cy="234.4" r="2.6" fill="#1818f0" fill-opacity="0.5" stroke="#1818f0" stroke-opacity="0.5" stroke-width="0.8"/>
<circle cx="497.5" cy="233.9" r="2.6" fill="#0f3cf5" fill-opacity="0.5" stroke="#0f3cf5" stroke-opacity="0.5" stroke-width="0.8"/>
<circle cx="482.1" cy="226.0" r="2.6" fill="#0f3cf5" fill-opacity="0.5" stroke="#0f3cf5" stroke-opacity="0.5" stroke-width="0.8"/>
<circle cx="481.7" cy="230.2" r="2.6" fill="#0f3cf5" fill-opacity="0.5" stroke="#0f3cf5" stroke-opacity="0.5" stroke-width="0.8"/>
<circle cx="482.1" cy="237.6" r="2.6" fill="#0f3cf5" fill-opacity="0.5" stroke="#0f3cf5" stroke-opacity="0.5" stroke-width="0.8"/>
<circle cx="480.7" cy="241.4" r="2.6" fill="#0f3cf5" fill-opacity="0.5" stroke="#0f3cf5" stroke-opacity="0.5" stroke-width="0.8"/>
<circle cx="492.4" cy="235.3" r="2.6" fill="#0f3cf5" fill-opacity="0.5" stroke="#0f3cf5" stroke-opacity="0.5" stroke-width="0.8"/>
<circle cx="491.0" cy="239.0" r="2.6" fill="#0f3cf5" fill-opacity="0.5" stroke="#0f3cf5" stroke-opacity="0.5" stroke-width="0.8"/>
<circle cx="493.8" cy="241.4" r="2.6" fill="#0f3cf5" fill-opacity="0.5" stroke="#0f3cf5" stroke-opacity="0.5" stroke-width="0.8"/>
<circle cx="487.7" cy="239.5" r="2.6" fill="#0f3cf5" fill-opacity="0.5" stroke="#0f3cf5" stroke-opacity="0.5" stroke-width="0.8"/>
<circle cx="495.2" cy="244.2" r="2.6" fill="#0f3cf5" fill-opacity="0.5" stroke="#0f3cf5" stroke-opacity="0.5" stroke-width="0.8"/>
<circle cx="491.5" cy="243.7" r="2.6" fill="#0f3cf5" fill-opacity="0.5" stroke="#0f3cf5" stroke-opacity="0.5" stroke-width="0.8"/>
<circle cx="462.5" cy="245.6" r="2.6" fill="#0f3cf5" fill-opacity="0.5" stroke="#0f3cf5" stroke-opacity="0.5" stroke-width="0.8"/>
<circle cx="466.3" cy="248.8" r="2.6" fill="#0f3cf5" fill-opacity="0.5" stroke="#0f3cf5" stroke-opacity="0.5" stroke-width="0.8"/>
<circle cx="476.5" cy="248.8" r="2.6" fill="#0f3cf5" fill-opacity="0.5" stroke="#0f3cf5" stroke-opacity="0.5" stroke-width="0.8"/>
<circle cx="470.0" cy="253.7" r="2.6" fill="#0f3cf5" fill-opacity="0.5" stroke="#0f3cf5" stroke-opacity="0.5" stroke-width="0.8"/>
<circle cx="475.6" cy="255.8" r="2.6" fill="#0f3cf5" fill-opacity="0.5" stroke="#0f3cf5" stroke-opacity="0.5" stroke-width="0.8"/>
<circle cx="475.1" cy="260.7" r="2.6" fill="#0f3cf5" fill-opacity="0.5" stroke="#0f3cf5" stroke-opacity="0.5" stroke-width="0.8"/>
<circle cx="464.4" cy="253.7" r="2.6" fill="#0f3cf5" fill-opacity="0.5" stroke="#0f3cf5" stroke-opacity="0.5" stroke-width="0.8"/>
<circle cx="466.7" cy="258.2" r="2.6" fill="#0f3cf5" fill-opacity="0.5" stroke="#0f3cf5" stroke-opacity="0.5" stroke-width="0.8"/>
<circle cx="460.2" cy="257.7" r="2.6" fill="#0f3cf5" fill-opacity="0.5" stroke="#0f3cf5" stroke-opacity="0.5" stroke-width="0.8"/>
<circle cx="463.0" cy="262.8" r="2.6" fill="#0f3cf5" fill-opacity="0.5" stroke="#0f3cf5" stroke-opacity="0.5" stroke-width="0.8"/>
<circle cx="456.0" cy="260.7" r="2.6" fill="#0f3cf5" fill-opacity="0.5" stroke="#0f3cf5" stroke-opacity="0.5" stroke-width="0.8"/>
<circle cx="457.4" cy="262.8" r="2.6" fill="#0f3cf5" fill-opacity="0.5" stroke="#0f3cf5" stroke-opacity="0.5" stroke-width="0.8"/>
<circle cx="449.5" cy="261.9" r="2.6" fill="#0f3cf5" fill-opacity="0.5" stroke="#0f3cf5" stroke-opacity="0.5" stroke-width="0.8"/>
<circle cx="449.5" cy="265.6" r="2.6" fill="#0f3cf5" fill-opacity="0.5" stroke="#0f3cf5" stroke-opacity="0.5" stroke-width="0.8"/>
<circle cx="463.5" cy="271.2" r="2.6" fill="#0f3cf5" fill-opacity="0.5" stroke="#0f3cf5" stroke-opacity="0.5" stroke-width="0.8"/>
<circle cx="454.1" cy="273.1" r="2.6" fill="#0f3cf5" fill-opacity="0.5" stroke="#0f3cf5" stroke-opacity="0.5" stroke-width="0.8"/>
<circle cx="443.0" cy="266.6" r="2.6" fill="#0f3cf5" fill-opacity="0.5" stroke="#0f3cf5" stroke-opacity="0.5" stroke-width="0.8"/>
<circle cx="443.0" cy="270.8" r="2.6" fill="#0f3cf5" fill-opacity="0.5" stroke="#0f3cf5" stroke-opacity="0.5" stroke-width="0.8"/>
<circle cx="447.1" cy="272.6" r="2.6" fill="#0f3cf5" fill-opacity="0.5" stroke="#0f3cf5" stroke-opacity="0.5" stroke-width="0.8"/>
<circle cx="442.0" cy="266.6" r="2.6" fill="#0f3cf5" fill-opacity="0.5" stroke="#0f3cf5" stroke-opacity="0.5" stroke-width="0.8"/>
<circle cx="449.0" cy="261.0" r="2.6" fill="#0f3cf5" fill-opacity="0.5" stroke="#0f3cf5" stroke-opacity="0.5" stroke-width="0.8"/>
<circle cx="449.0" cy="265.2" r="2.6" fill="#0f3cf5" fill-opacity="0.5" stroke="#0f3cf5" stroke-opacity="0.5" stroke-width="0.8"/>
<circle cx="438.3" cy="276.8" r="2.6" fill="#0f3cf5" fill-opacity="0.5" stroke="#0f3cf5" stroke-opacity="0.5" stroke-width="0.8"/>
<circle cx="472.3" cy="254.4" r="2.6" fill="#0f3cf5" fill-opacity="0.5" stroke="#0f3cf5" stroke-opacity="0.5" stroke-width="0.8"/>
<circle cx="477.5" cy="248.4" r="2.6" fill="#0f3cf5" fill-opacity="0.5" stroke="#0f3cf5" stroke-opacity="0.5" stroke-width="0.8"/>
<circle cx="477.5" cy="258.6" r="2.6" fill="#0f3cf5" fill-opacity="0.5" stroke="#0f3cf5" stroke-opacity="0.5" stroke-width="0.8"/>
<circle cx="455.5" cy="259.6" r="2.6" fill="#0f3cf5" fill-opacity="0.5" stroke="#0f3cf5" stroke-opacity="0.5" stroke-width="0.8"/>
<circle cx="450.4" cy="260.5" r="2.6" fill="#0f3cf5" fill-opacity="0.5" stroke="#0f3cf5" stroke-opacity="0.5" stroke-width="0.8"/>
<circle cx="452.7" cy="268.0" r="2.6" fill="#0f3cf5" fill-opacity="0.5" stroke="#0f3cf5" stroke-opacity="0.5" stroke-width="0.8"/>
<circle cx="458.8" cy="255.4" r="2.6" fill="#0f3cf5" fill-opacity="0.5" stroke="#0f3cf5" stroke-opacity="0.5" stroke-width="0.8"/>
<circle cx="469.1" cy="247.9" r="2.6" fill="#0f3cf5" fill-opacity="0.5" stroke="#0f3cf5" stroke-opacity="0.5" stroke-width="0.8"/>
<circle cx="472.8" cy="242.8" r="2.6" fill="#0f3cf5" fill-opacity="0.5" stroke="#0f3cf5" stroke-opacity="0.5" stroke-width="0.8"/>
<circle cx="486.3" cy="232.5" r="2.6" fill="#0f3cf5" fill-opacity="0.5" stroke="#0f3cf5" stroke-opacity="0.5" stroke-width="0.8"/>
</g>
<rect x="543.8" y="92.6" width="8.3" height="8.3" fill="#1e90ff" fill-opacity="0.72"/>
<rect x="543.8" y="87.0" width="8.3" height="8.3" fill="#6a2cd8" fill-opacity="0.72"/>
<rect x="543.8" y="95.4" width="8.3" height="8.3" fill="#1818f0" fill-opacity="0.72"/>
<path d="M435.5 186.4L441.0 191.9L435.5 197.4L430.0 191.9Z" fill="#1e90ff" fill-opacity="0.72"/>
<path d="M435.5 182.4L441.0 187.9L435.5 193.4L430.0 187.9Z" fill="#6a2cd8" fill-opacity="0.72"/>
<path d="M435.5 182.7L441.0 188.2L435.5 193.7L430.0 188.2Z" fill="#1818f0" fill-opacity="0.72"/>
<path d="M502.3 170.8L510.1 170.8L506.2 178.6Z" fill="#1e90ff" fill-opacity="0.72"/>
<path d="M502.3 162.8L510.1 162.8L506.2 170.6Z" fill="#6a2cd8" fill-opacity="0.72"/>
<path d="M502.3 163.8L510.1 163.8L506.2 171.6Z" fill="#1818f0" fill-opacity="0.72"/>
<circle cx="506.4" cy="170.4" r="12.9" fill="none" stroke="#000" stroke-width="2.7"/>
<path class="tm" d="M447.1 318.8v-3.3M447.1 38.9v3.3M400.5 272.1h3.3M680.4 272.1h-3.3"/>
<path class="tm" d="M493.8 318.8v-3.3M493.8 38.9v3.3M400.5 225.5h3.3M680.4 225.5h-3.3"/>
<path class="tm" d="M540.5 318.8v-3.3M540.5 38.9v3.3M400.5 178.8h3.3M680.4 178.8h-3.3"/>
<path class="tm" d="M587.1 318.8v-3.3M587.1 38.9v3.3M400.5 132.2h3.3M680.4 132.2h-3.3"/>
<path class="tm" d="M633.8 318.8v-3.3M633.8 38.9v3.3M400.5 85.5h3.3M680.4 85.5h-3.3"/>
<rect class="fr" style="stroke:#5c5c5c;stroke-width:1.3" x="400.5" y="38.9" width="279.9" height="279.9"/>
<text class="tk" text-anchor="middle" style="font-size:13.8px" transform="translate(400.5 333.1) scale(1.13 1)">0</text>
<text class="tk" text-anchor="end" style="font-size:13.8px" transform="translate(397.2 322.6) scale(1.13 1)">0</text>
<text class="tk" text-anchor="middle" style="font-size:13.8px" transform="translate(447.1 333.1) scale(1.13 1)">1</text>
<text class="tk" text-anchor="end" style="font-size:13.8px" transform="translate(397.2 275.9) scale(1.13 1)">1</text>
<text class="tk" text-anchor="middle" style="font-size:13.8px" transform="translate(493.8 333.1) scale(1.13 1)">2</text>
<text class="tk" text-anchor="end" style="font-size:13.8px" transform="translate(397.2 229.3) scale(1.13 1)">2</text>
<text class="tk" text-anchor="middle" style="font-size:13.8px" transform="translate(540.5 333.1) scale(1.13 1)">3</text>
<text class="tk" text-anchor="end" style="font-size:13.8px" transform="translate(397.2 182.7) scale(1.13 1)">3</text>
<text class="tk" text-anchor="middle" style="font-size:13.8px" transform="translate(587.1 333.1) scale(1.13 1)">4</text>
<text class="tk" text-anchor="end" style="font-size:13.8px" transform="translate(397.2 136.0) scale(1.13 1)">4</text>
<text class="tk" text-anchor="middle" style="font-size:13.8px" transform="translate(633.8 333.1) scale(1.13 1)">5</text>
<text class="tk" text-anchor="end" style="font-size:13.8px" transform="translate(397.2 89.3) scale(1.13 1)">5</text>
<text class="tk" text-anchor="middle" style="font-size:13.8px" transform="translate(680.4 333.1) scale(1.13 1)">6</text>
<text class="tk" text-anchor="end" style="font-size:13.8px" transform="translate(397.2 42.7) scale(1.13 1)">6</text>
<text class="ax" text-anchor="middle" x="524.5" y="354">Normalized reference coverage</text>
<text class="ax" text-anchor="middle" transform="translate(374.7 187.8) rotate(-90)">Normalized target coverage</text>
<text class="tt" text-anchor="middle" x="537.8" y="29.7">30 ng</text>
<text class="pl" style="font-size:29.8px" x="357" y="22.1">b</text>
<text class="gn" style="font-size:16px" x="533.9" y="79.9">MET</text>
<text class="gn" style="font-size:16px" x="491" y="152.3">ALK</text>
<text class="gn" style="font-size:16px" x="415.1" y="179.9">MYC</text>
</g>
<g id="panel-c">
<line class="gv" x1="87.0" y1="432.3" x2="87.0" y2="725.9"/>
<line class="gr" x1="38.1" y1="677.0" x2="331.5" y2="677.0"/>
<line class="gv" x1="135.9" y1="432.3" x2="135.9" y2="725.9"/>
<line class="gr" x1="38.1" y1="628.0" x2="331.5" y2="628.0"/>
<line class="gv" x1="184.8" y1="432.3" x2="184.8" y2="725.9"/>
<line class="gr" x1="38.1" y1="579.1" x2="331.5" y2="579.1"/>
<line class="gv" x1="233.7" y1="432.3" x2="233.7" y2="725.9"/>
<line class="gr" x1="38.1" y1="530.2" x2="331.5" y2="530.2"/>
<line class="gv" x1="282.6" y1="432.3" x2="282.6" y2="725.9"/>
<line class="gr" x1="38.1" y1="481.2" x2="331.5" y2="481.2"/>
<clipPath id="cp-c"><rect x="38.1" y="432.3" width="293.4" height="293.6"/></clipPath>
<g clip-path="url(#cp-c)">
<circle cx="69.7" cy="697.5" r="2.7" fill="#6a2cd8" fill-opacity="0.5" stroke="#6a2cd8" stroke-opacity="0.5" stroke-width="0.8"/>
<circle cx="82.8" cy="679.3" r="2.7" fill="#6a2cd8" fill-opacity="0.5" stroke="#6a2cd8" stroke-opacity="0.5" stroke-width="0.8"/>
<circle cx="66.8" cy="696.7" r="2.7" fill="#6a2cd8" fill-opacity="0.5" stroke="#6a2cd8" stroke-opacity="0.5" stroke-width="0.8"/>
<circle cx="72.4" cy="691.9" r="2.7" fill="#6a2cd8" fill-opacity="0.5" stroke="#6a2cd8" stroke-opacity="0.5" stroke-width="0.8"/>
<circle cx="71.2" cy="689.8" r="2.7" fill="#6a2cd8" fill-opacity="0.5" stroke="#6a2cd8" stroke-opacity="0.5" stroke-width="0.8"/>
<circle cx="69.0" cy="690.2" r="2.7" fill="#6a2cd8" fill-opacity="0.5" stroke="#6a2cd8" stroke-opacity="0.5" stroke-width="0.8"/>
<circle cx="56.6" cy="705.6" r="2.7" fill="#6a2cd8" fill-opacity="0.5" stroke="#6a2cd8" stroke-opacity="0.5" stroke-width="0.8"/>
<circle cx="58.4" cy="702.8" r="2.7" fill="#6a2cd8" fill-opacity="0.5" stroke="#6a2cd8" stroke-opacity="0.5" stroke-width="0.8"/>
<circle cx="57.6" cy="706.8" r="2.7" fill="#6a2cd8" fill-opacity="0.5" stroke="#6a2cd8" stroke-opacity="0.5" stroke-width="0.8"/>
<circle cx="82.1" cy="680.0" r="2.7" fill="#6a2cd8" fill-opacity="0.5" stroke="#6a2cd8" stroke-opacity="0.5" stroke-width="0.8"/>
<circle cx="47.8" cy="716.3" r="2.7" fill="#6a2cd8" fill-opacity="0.5" stroke="#6a2cd8" stroke-opacity="0.5" stroke-width="0.8"/>
<circle cx="51.9" cy="714.7" r="2.7" fill="#6a2cd8" fill-opacity="0.5" stroke="#6a2cd8" stroke-opacity="0.5" stroke-width="0.8"/>
<circle cx="68.3" cy="692.4" r="2.7" fill="#6a2cd8" fill-opacity="0.5" stroke="#6a2cd8" stroke-opacity="0.5" stroke-width="0.8"/>
<circle cx="61.1" cy="701.7" r="2.7" fill="#6a2cd8" fill-opacity="0.5" stroke="#6a2cd8" stroke-opacity="0.5" stroke-width="0.8"/>
<circle cx="68.4" cy="695.0" r="2.7" fill="#6a2cd8" fill-opacity="0.5" stroke="#6a2cd8" stroke-opacity="0.5" stroke-width="0.8"/>
<circle cx="50.3" cy="715.7" r="2.7" fill="#6a2cd8" fill-opacity="0.5" stroke="#6a2cd8" stroke-opacity="0.5" stroke-width="0.8"/>
<circle cx="71.0" cy="694.2" r="2.7" fill="#6a2cd8" fill-opacity="0.5" stroke="#6a2cd8" stroke-opacity="0.5" stroke-width="0.8"/>
<circle cx="55.4" cy="703.9" r="2.7" fill="#6a2cd8" fill-opacity="0.5" stroke="#6a2cd8" stroke-opacity="0.5" stroke-width="0.8"/>
<circle cx="62.0" cy="699.6" r="2.7" fill="#6a2cd8" fill-opacity="0.5" stroke="#6a2cd8" stroke-opacity="0.5" stroke-width="0.8"/>
<circle cx="75.6" cy="691.2" r="2.7" fill="#6a2cd8" fill-opacity="0.5" stroke="#6a2cd8" stroke-opacity="0.5" stroke-width="0.8"/>
<circle cx="85.7" cy="673.5" r="2.7" fill="#6a2cd8" fill-opacity="0.5" stroke="#6a2cd8" stroke-opacity="0.5" stroke-width="0.8"/>
<circle cx="81.9" cy="684.1" r="2.7" fill="#6a2cd8" fill-opacity="0.5" stroke="#6a2cd8" stroke-opacity="0.5" stroke-width="0.8"/>
<circle cx="72.0" cy="690.2" r="2.7" fill="#6a2cd8" fill-opacity="0.5" stroke="#6a2cd8" stroke-opacity="0.5" stroke-width="0.8"/>
<circle cx="70.2" cy="693.0" r="2.7" fill="#6a2cd8" fill-opacity="0.5" stroke="#6a2cd8" stroke-opacity="0.5" stroke-width="0.8"/>
<circle cx="44.9" cy="720.7" r="2.7" fill="#6a2cd8" fill-opacity="0.5" stroke="#6a2cd8" stroke-opacity="0.5" stroke-width="0.8"/>
<circle cx="74.3" cy="684.3" r="2.7" fill="#6a2cd8" fill-opacity="0.5" stroke="#6a2cd8" stroke-opacity="0.5" stroke-width="0.8"/>
<circle cx="79.7" cy="679.4" r="2.7" fill="#6a2cd8" fill-opacity="0.5" stroke="#6a2cd8" stroke-opacity="0.5" stroke-width="0.8"/>
<circle cx="78.8" cy="685.8" r="2.7" fill="#6a2cd8" fill-opacity="0.5" stroke="#6a2cd8" stroke-opacity="0.5" stroke-width="0.8"/>
<circle cx="76.8" cy="680.2" r="2.7" fill="#6a2cd8" fill-opacity="0.5" stroke="#6a2cd8" stroke-opacity="0.5" stroke-width="0.8"/>
<circle cx="40.9" cy="720.3" r="2.7" fill="#6a2cd8" fill-opacity="0.5" stroke="#6a2cd8" stroke-opacity="0.5" stroke-width="0.8"/>
<circle cx="48.3" cy="718.2" r="2.7" fill="#6a2cd8" fill-opacity="0.5" stroke="#6a2cd8" stroke-opacity="0.5" stroke-width="0.8"/>
<circle cx="52.4" cy="709.2" r="2.7" fill="#6a2cd8" fill-opacity="0.5" stroke="#6a2cd8" stroke-opacity="0.5" stroke-width="0.8"/>
<circle cx="62.8" cy="698.9" r="2.7" fill="#6a2cd8" fill-opacity="0.5" stroke="#6a2cd8" stroke-opacity="0.5" stroke-width="0.8"/>
<circle cx="72.6" cy="688.9" r="2.7" fill="#6a2cd8" fill-opacity="0.5" stroke="#6a2cd8" stroke-opacity="0.5" stroke-width="0.8"/>
<circle cx="60.3" cy="702.9" r="2.7" fill="#6a2cd8" fill-opacity="0.5" stroke="#6a2cd8" stroke-opacity="0.5" stroke-width="0.8"/>
<circle cx="64.3" cy="700.8" r="2.7" fill="#6a2cd8" fill-opacity="0.5" stroke="#6a2cd8" stroke-opacity="0.5" stroke-width="0.8"/>
<circle cx="42.9" cy="718.4" r="2.7" fill="#6a2cd8" fill-opacity="0.5" stroke="#6a2cd8" stroke-opacity="0.5" stroke-width="0.8"/>
<circle cx="85.9" cy="683.7" r="2.7" fill="#6a2cd8" fill-opacity="0.5" stroke="#6a2cd8" stroke-opacity="0.5" stroke-width="0.8"/>
<circle cx="42.8" cy="723.8" r="2.7" fill="#6a2cd8" fill-opacity="0.5" stroke="#6a2cd8" stroke-opacity="0.5" stroke-width="0.8"/>
<circle cx="61.4" cy="701.8" r="2.7" fill="#6a2cd8" fill-opacity="0.5" stroke="#6a2cd8" stroke-opacity="0.5" stroke-width="0.8"/>
<circle cx="52.3" cy="708.9" r="2.7" fill="#6a2cd8" fill-opacity="0.5" stroke="#6a2cd8" stroke-opacity="0.5" stroke-width="0.8"/>
<circle cx="76.3" cy="682.4" r="2.7" fill="#6a2cd8" fill-opacity="0.5" stroke="#6a2cd8" stroke-opacity="0.5" stroke-width="0.8"/>
<circle cx="85.1" cy="676.8" r="2.7" fill="#6a2cd8" fill-opacity="0.5" stroke="#6a2cd8" stroke-opacity="0.5" stroke-width="0.8"/>
<circle cx="77.9" cy="682.6" r="2.7" fill="#6a2cd8" fill-opacity="0.5" stroke="#6a2cd8" stroke-opacity="0.5" stroke-width="0.8"/>
<circle cx="61.4" cy="706.2" r="2.7" fill="#6a2cd8" fill-opacity="0.5" stroke="#6a2cd8" stroke-opacity="0.5" stroke-width="0.8"/>
<circle cx="46.5" cy="712.4" r="2.7" fill="#6a2cd8" fill-opacity="0.5" stroke="#6a2cd8" stroke-opacity="0.5" stroke-width="0.8"/>
<circle cx="69.6" cy="684.6" r="2.7" fill="#6a2cd8" fill-opacity="0.5" stroke="#6a2cd8" stroke-opacity="0.5" stroke-width="0.8"/>
<circle cx="68.0" cy="696.7" r="2.7" fill="#6a2cd8" fill-opacity="0.5" stroke="#6a2cd8" stroke-opacity="0.5" stroke-width="0.8"/>
<circle cx="66.3" cy="701.4" r="2.7" fill="#6a2cd8" fill-opacity="0.5" stroke="#6a2cd8" stroke-opacity="0.5" stroke-width="0.8"/>
<circle cx="56.5" cy="712.2" r="2.7" fill="#6a2cd8" fill-opacity="0.5" stroke="#6a2cd8" stroke-opacity="0.5" stroke-width="0.8"/>
<circle cx="57.6" cy="702.6" r="2.7" fill="#6a2cd8" fill-opacity="0.5" stroke="#6a2cd8" stroke-opacity="0.5" stroke-width="0.8"/>
<circle cx="82.2" cy="682.7" r="2.7" fill="#6a2cd8" fill-opacity="0.5" stroke="#6a2cd8" stroke-opacity="0.5" stroke-width="0.8"/>
<circle cx="54.7" cy="711.4" r="2.7" fill="#6a2cd8" fill-opacity="0.5" stroke="#6a2cd8" stroke-opacity="0.5" stroke-width="0.8"/>
<circle cx="47.8" cy="715.3" r="2.7" fill="#6a2cd8" fill-opacity="0.5" stroke="#6a2cd8" stroke-opacity="0.5" stroke-width="0.8"/>
<circle cx="80.1" cy="684.7" r="2.7" fill="#6a2cd8" fill-opacity="0.5" stroke="#6a2cd8" stroke-opacity="0.5" stroke-width="0.8"/>
<circle cx="73.0" cy="689.2" r="2.7" fill="#6a2cd8" fill-opacity="0.5" stroke="#6a2cd8" stroke-opacity="0.5" stroke-width="0.8"/>
<circle cx="83.1" cy="672.3" r="2.7" fill="#6a2cd8" fill-opacity="0.5" stroke="#6a2cd8" stroke-opacity="0.5" stroke-width="0.8"/>
<circle cx="58.2" cy="704.6" r="2.7" fill="#6a2cd8" fill-opacity="0.5" stroke="#6a2cd8" stroke-opacity="0.5" stroke-width="0.8"/>
<circle cx="55.1" cy="706.2" r="2.7" fill="#6a2cd8" fill-opacity="0.5" stroke="#6a2cd8" stroke-opacity="0.5" stroke-width="0.8"/>
<circle cx="76.7" cy="686.7" r="2.7" fill="#6a2cd8" fill-opacity="0.5" stroke="#6a2cd8" stroke-opacity="0.5" stroke-width="0.8"/>
<circle cx="63.5" cy="697.9" r="2.7" fill="#6a2cd8" fill-opacity="0.5" stroke="#6a2cd8" stroke-opacity="0.5" stroke-width="0.8"/>
<circle cx="48.5" cy="714.4" r="2.7" fill="#6a2cd8" fill-opacity="0.5" stroke="#6a2cd8" stroke-opacity="0.5" stroke-width="0.8"/>
<circle cx="57.2" cy="708.6" r="2.7" fill="#6a2cd8" fill-opacity="0.5" stroke="#6a2cd8" stroke-opacity="0.5" stroke-width="0.8"/>
<circle cx="44.4" cy="723.6" r="2.7" fill="#6a2cd8" fill-opacity="0.5" stroke="#6a2cd8" stroke-opacity="0.5" stroke-width="0.8"/>
<circle cx="84.2" cy="679.2" r="2.7" fill="#6a2cd8" fill-opacity="0.5" stroke="#6a2cd8" stroke-opacity="0.5" stroke-width="0.8"/>
<circle cx="56.8" cy="704.2" r="2.7" fill="#6a2cd8" fill-opacity="0.5" stroke="#6a2cd8" stroke-opacity="0.5" stroke-width="0.8"/>
<circle cx="77.5" cy="680.0" r="2.7" fill="#6a2cd8" fill-opacity="0.5" stroke="#6a2cd8" stroke-opacity="0.5" stroke-width="0.8"/>
<circle cx="76.1" cy="684.0" r="2.7" fill="#6a2cd8" fill-opacity="0.5" stroke="#6a2cd8" stroke-opacity="0.5" stroke-width="0.8"/>
<circle cx="84.7" cy="673.5" r="2.7" fill="#6a2cd8" fill-opacity="0.5" stroke="#6a2cd8" stroke-opacity="0.5" stroke-width="0.8"/>
<circle cx="76.9" cy="682.8" r="2.7" fill="#6a2cd8" fill-opacity="0.5" stroke="#6a2cd8" stroke-opacity="0.5" stroke-width="0.8"/>
<circle cx="72.2" cy="693.9" r="2.7" fill="#6a2cd8" fill-opacity="0.5" stroke="#6a2cd8" stroke-opacity="0.5" stroke-width="0.8"/>
<circle cx="84.6" cy="683.4" r="2.7" fill="#6a2cd8" fill-opacity="0.5" stroke="#6a2cd8" stroke-opacity="0.5" stroke-width="0.8"/>
<circle cx="79.3" cy="685.0" r="2.7" fill="#6a2cd8" fill-opacity="0.5" stroke="#6a2cd8" stroke-opacity="0.5" stroke-width="0.8"/>
<circle cx="83.5" cy="681.1" r="2.7" fill="#6a2cd8" fill-opacity="0.5" stroke="#6a2cd8" stroke-opacity="0.5" stroke-width="0.8"/>
<circle cx="82.8" cy="681.1" r="2.7" fill="#6a2cd8" fill-opacity="0.5" stroke="#6a2cd8" stroke-opacity="0.5" stroke-width="0.8"/>
<circle cx="52.6" cy="713.3" r="2.7" fill="#6a2cd8" fill-opacity="0.5" stroke="#6a2cd8" stroke-opacity="0.5" stroke-width="0.8"/>
<circle cx="54.8" cy="708.0" r="2.7" fill="#6a2cd8" fill-opacity="0.5" stroke="#6a2cd8" stroke-opacity="0.5" stroke-width="0.8"/>
<circle cx="77.5" cy="691.4" r="2.7" fill="#6a2cd8" fill-opacity="0.5" stroke="#6a2cd8" stroke-opacity="0.5" stroke-width="0.8"/>
<circle cx="67.5" cy="695.1" r="2.7" fill="#6a2cd8" fill-opacity="0.5" stroke="#6a2cd8" stroke-opacity="0.5" stroke-width="0.8"/>
<circle cx="52.1" cy="712.2" r="2.7" fill="#6a2cd8" fill-opacity="0.5" stroke="#6a2cd8" stroke-opacity="0.5" stroke-width="0.8"/>
<circle cx="78.5" cy="687.8" r="2.7" fill="#6a2cd8" fill-opacity="0.5" stroke="#6a2cd8" stroke-opacity="0.5" stroke-width="0.8"/>
<circle cx="46.5" cy="719.3" r="2.7" fill="#6a2cd8" fill-opacity="0.5" stroke="#6a2cd8" stroke-opacity="0.5" stroke-width="0.8"/>
<circle cx="82.6" cy="680.3" r="2.7" fill="#6a2cd8" fill-opacity="0.5" stroke="#6a2cd8" stroke-opacity="0.5" stroke-width="0.8"/>
<circle cx="41.5" cy="718.3" r="2.7" fill="#6a2cd8" fill-opacity="0.5" stroke="#6a2cd8" stroke-opacity="0.5" stroke-width="0.8"/>
<circle cx="50.9" cy="716.5" r="2.7" fill="#6a2cd8" fill-opacity="0.5" stroke="#6a2cd8" stroke-opacity="0.5" stroke-width="0.8"/>
<circle cx="78.5" cy="688.2" r="2.7" fill="#6a2cd8" fill-opacity="0.5" stroke="#6a2cd8" stroke-opacity="0.5" stroke-width="0.8"/>
<circle cx="78.3" cy="688.1" r="2.7" fill="#6a2cd8" fill-opacity="0.5" stroke="#6a2cd8" stroke-opacity="0.5" stroke-width="0.8"/>
<circle cx="79.9" cy="675.6" r="2.7" fill="#6a2cd8" fill-opacity="0.5" stroke="#6a2cd8" stroke-opacity="0.5" stroke-width="0.8"/>
<circle cx="69.7" cy="699.5" r="2.7" fill="#1e90ff" fill-opacity="0.5" stroke="#1e90ff" stroke-opacity="0.5" stroke-width="0.8"/>
<circle cx="82.8" cy="678.6" r="2.7" fill="#1e90ff" fill-opacity="0.5" stroke="#1e90ff" stroke-opacity="0.5" stroke-width="0.8"/>
<circle cx="66.8" cy="693.3" r="2.7" fill="#1e90ff" fill-opacity="0.5" stroke="#1e90ff" stroke-opacity="0.5" stroke-width="0.8"/>
<circle cx="72.4" cy="690.0" r="2.7" fill="#1e90ff" fill-opacity="0.5" stroke="#1e90ff" stroke-opacity="0.5" stroke-width="0.8"/>
<circle cx="71.2" cy="693.8" r="2.7" fill="#1e90ff" fill-opacity="0.5" stroke="#1e90ff" stroke-opacity="0.5" stroke-width="0.8"/>
<circle cx="69.0" cy="695.4" r="2.7" fill="#1e90ff" fill-opacity="0.5" stroke="#1e90ff" stroke-opacity="0.5" stroke-width="0.8"/>
<circle cx="56.6" cy="702.0" r="2.7" fill="#1e90ff" fill-opacity="0.5" stroke="#1e90ff" stroke-opacity="0.5" stroke-width="0.8"/>
<circle cx="58.4" cy="703.5" r="2.7" fill="#1e90ff" fill-opacity="0.5" stroke="#1e90ff" stroke-opacity="0.5" stroke-width="0.8"/>
<circle cx="57.6" cy="706.4" r="2.7" fill="#1e90ff" fill-opacity="0.5" stroke="#1e90ff" stroke-opacity="0.5" stroke-width="0.8"/>
<circle cx="82.1" cy="682.9" r="2.7" fill="#1e90ff" fill-opacity="0.5" stroke="#1e90ff" stroke-opacity="0.5" stroke-width="0.8"/>
<circle cx="47.8" cy="715.6" r="2.7" fill="#1e90ff" fill-opacity="0.5" stroke="#1e90ff" stroke-opacity="0.5" stroke-width="0.8"/>
<circle cx="51.9" cy="714.7" r="2.7" fill="#1e90ff" fill-opacity="0.5" stroke="#1e90ff" stroke-opacity="0.5" stroke-width="0.8"/>
<circle cx="68.3" cy="695.6" r="2.7" fill="#1e90ff" fill-opacity="0.5" stroke="#1e90ff" stroke-opacity="0.5" stroke-width="0.8"/>
<circle cx="61.1" cy="702.7" r="2.7" fill="#1e90ff" fill-opacity="0.5" stroke="#1e90ff" stroke-opacity="0.5" stroke-width="0.8"/>
<circle cx="68.4" cy="696.5" r="2.7" fill="#1e90ff" fill-opacity="0.5" stroke="#1e90ff" stroke-opacity="0.5" stroke-width="0.8"/>
<circle cx="50.3" cy="716.4" r="2.7" fill="#1e90ff" fill-opacity="0.5" stroke="#1e90ff" stroke-opacity="0.5" stroke-width="0.8"/>
<circle cx="71.0" cy="694.3" r="2.7" fill="#1e90ff" fill-opacity="0.5" stroke="#1e90ff" stroke-opacity="0.5" stroke-width="0.8"/>
<circle cx="55.4" cy="706.6" r="2.7" fill="#1e90ff" fill-opacity="0.5" stroke="#1e90ff" stroke-opacity="0.5" stroke-width="0.8"/>
<circle cx="62.0" cy="701.9" r="2.7" fill="#1e90ff" fill-opacity="0.5" stroke="#1e90ff" stroke-opacity="0.5" stroke-width="0.8"/>
<circle cx="75.6" cy="690.2" r="2.7" fill="#1e90ff" fill-opacity="0.5" stroke="#1e90ff" stroke-opacity="0.5" stroke-width="0.8"/>
<circle cx="85.7" cy="676.5" r="2.7" fill="#1e90ff" fill-opacity="0.5" stroke="#1e90ff" stroke-opacity="0.5" stroke-width="0.8"/>
<circle cx="81.9" cy="683.0" r="2.7" fill="#1e90ff" fill-opacity="0.5" stroke="#1e90ff" stroke-opacity="0.5" stroke-width="0.8"/>
<circle cx="72.0" cy="692.6" r="2.7" fill="#1e90ff" fill-opacity="0.5" stroke="#1e90ff" stroke-opacity="0.5" stroke-width="0.8"/>
<circle cx="70.2" cy="695.1" r="2.7" fill="#1e90ff" fill-opacity="0.5" stroke="#1e90ff" stroke-opacity="0.5" stroke-width="0.8"/>
<circle cx="44.9" cy="717.0" r="2.7" fill="#1e90ff" fill-opacity="0.5" stroke="#1e90ff" stroke-opacity="0.5" stroke-width="0.8"/>
<circle cx="74.3" cy="680.9" r="2.7" fill="#1e90ff" fill-opacity="0.5" stroke="#1e90ff" stroke-opacity="0.5" stroke-width="0.8"/>
<circle cx="79.7" cy="682.0" r="2.7" fill="#1e90ff" fill-opacity="0.5" stroke="#1e90ff" stroke-opacity="0.5" stroke-width="0.8"/>
<circle cx="78.8" cy="682.9" r="2.7" fill="#1e90ff" fill-opacity="0.5" stroke="#1e90ff" stroke-opacity="0.5" stroke-width="0.8"/>
<circle cx="76.8" cy="683.6" r="2.7" fill="#1e90ff" fill-opacity="0.5" stroke="#1e90ff" stroke-opacity="0.5" stroke-width="0.8"/>
<circle cx="40.9" cy="719.1" r="2.7" fill="#1e90ff" fill-opacity="0.5" stroke="#1e90ff" stroke-opacity="0.5" stroke-width="0.8"/>
<circle cx="48.3" cy="715.0" r="2.7" fill="#1e90ff" fill-opacity="0.5" stroke="#1e90ff" stroke-opacity="0.5" stroke-width="0.8"/>
<circle cx="52.4" cy="709.2" r="2.7" fill="#1e90ff" fill-opacity="0.5" stroke="#1e90ff" stroke-opacity="0.5" stroke-width="0.8"/>
<circle cx="62.8" cy="694.8" r="2.7" fill="#1e90ff" fill-opacity="0.5" stroke="#1e90ff" stroke-opacity="0.5" stroke-width="0.8"/>
<circle cx="72.6" cy="689.9" r="2.7" fill="#1e90ff" fill-opacity="0.5" stroke="#1e90ff" stroke-opacity="0.5" stroke-width="0.8"/>
<circle cx="60.3" cy="701.6" r="2.7" fill="#1e90ff" fill-opacity="0.5" stroke="#1e90ff" stroke-opacity="0.5" stroke-width="0.8"/>
<circle cx="64.3" cy="699.6" r="2.7" fill="#1e90ff" fill-opacity="0.5" stroke="#1e90ff" stroke-opacity="0.5" stroke-width="0.8"/>
<circle cx="42.9" cy="714.0" r="2.7" fill="#1e90ff" fill-opacity="0.5" stroke="#1e90ff" stroke-opacity="0.5" stroke-width="0.8"/>
<circle cx="85.9" cy="685.6" r="2.7" fill="#1e90ff" fill-opacity="0.5" stroke="#1e90ff" stroke-opacity="0.5" stroke-width="0.8"/>
<circle cx="42.8" cy="717.7" r="2.7" fill="#1e90ff" fill-opacity="0.5" stroke="#1e90ff" stroke-opacity="0.5" stroke-width="0.8"/>
<circle cx="61.4" cy="701.5" r="2.7" fill="#1e90ff" fill-opacity="0.5" stroke="#1e90ff" stroke-opacity="0.5" stroke-width="0.8"/>
<circle cx="52.3" cy="710.6" r="2.7" fill="#1e90ff" fill-opacity="0.5" stroke="#1e90ff" stroke-opacity="0.5" stroke-width="0.8"/>
<circle cx="76.3" cy="684.0" r="2.7" fill="#1e90ff" fill-opacity="0.5" stroke="#1e90ff" stroke-opacity="0.5" stroke-width="0.8"/>
<circle cx="85.1" cy="678.0" r="2.7" fill="#1e90ff" fill-opacity="0.5" stroke="#1e90ff" stroke-opacity="0.5" stroke-width="0.8"/>
<circle cx="77.9" cy="682.6" r="2.7" fill="#1e90ff" fill-opacity="0.5" stroke="#1e90ff" stroke-opacity="0.5" stroke-width="0.8"/>
<circle cx="61.4" cy="703.4" r="2.7" fill="#1e90ff" fill-opacity="0.5" stroke="#1e90ff" stroke-opacity="0.5" stroke-width="0.8"/>
<circle cx="46.5" cy="714.0" r="2.7" fill="#1e90ff" fill-opacity="0.5" stroke="#1e90ff" stroke-opacity="0.5" stroke-width="0.8"/>
<circle cx="69.6" cy="686.4" r="2.7" fill="#1e90ff" fill-opacity="0.5" stroke="#1e90ff" stroke-opacity="0.5" stroke-width="0.8"/>
<circle cx="68.0" cy="696.5" r="2.7" fill="#1e90ff" fill-opacity="0.5" stroke="#1e90ff" stroke-opacity="0.5" stroke-width="0.8"/>
<circle cx="66.3" cy="699.4" r="2.7" fill="#1e90ff" fill-opacity="0.5" stroke="#1e90ff" stroke-opacity="0.5" stroke-width="0.8"/>
<circle cx="56.5" cy="711.3" r="2.7" fill="#1e90ff" fill-opacity="0.5" stroke="#1e90ff" stroke-opacity="0.5" stroke-width="0.8"/>
<circle cx="57.6" cy="705.6" r="2.7" fill="#1e90ff" fill-opacity="0.5" stroke="#1e90ff" stroke-opacity="0.5" stroke-width="0.8"/>
<circle cx="82.2" cy="680.8" r="2.7" fill="#1e90ff" fill-opacity="0.5" stroke="#1e90ff" stroke-opacity="0.5" stroke-width="0.8"/>
<circle cx="54.7" cy="714.9" r="2.7" fill="#1e90ff" fill-opacity="0.5" stroke="#1e90ff" stroke-opacity="0.5" stroke-width="0.8"/>
<circle cx="47.8" cy="713.7" r="2.7" fill="#1e90ff" fill-opacity="0.5" stroke="#1e90ff" stroke-opacity="0.5" stroke-width="0.8"/>
<circle cx="80.1" cy="687.3" r="2.7" fill="#1e90ff" fill-opacity="0.5" stroke="#1e90ff" stroke-opacity="0.5" stroke-width="0.8"/>
<circle cx="73.0" cy="690.3" r="2.7" fill="#1e90ff" fill-opacity="0.5" stroke="#1e90ff" stroke-opacity="0.5" stroke-width="0.8"/>
<circle cx="83.1" cy="673.5" r="2.7" fill="#1e90ff" fill-opacity="0.5" stroke="#1e90ff" stroke-opacity="0.5" stroke-width="0.8"/>
<circle cx="58.2" cy="704.0" r="2.7" fill="#1e90ff" fill-opacity="0.5" stroke="#1e90ff" stroke-opacity="0.5" stroke-width="0.8"/>
<circle cx="55.1" cy="707.7" r="2.7" fill="#1e90ff" fill-opacity="0.5" stroke="#1e90ff" stroke-opacity="0.5" stroke-width="0.8"/>
<circle cx="76.7" cy="688.5" r="2.7" fill="#1e90ff" fill-opacity="0.5" stroke="#1e90ff" stroke-opacity="0.5" stroke-width="0.8"/>
<circle cx="63.5" cy="699.6" r="2.7" fill="#1e90ff" fill-opacity="0.5" stroke="#1e90ff" stroke-opacity="0.5" stroke-width="0.8"/>
<circle cx="48.5" cy="710.6" r="2.7" fill="#1e90ff" fill-opacity="0.5" stroke="#1e90ff" stroke-opacity="0.5" stroke-width="0.8"/>
<circle cx="57.2" cy="705.7" r="2.7" fill="#1e90ff" fill-opacity="0.5" stroke="#1e90ff" stroke-opacity="0.5" stroke-width="0.8"/>
<circle cx="44.4" cy="722.6" r="2.7" fill="#1e90ff" fill-opacity="0.5" stroke="#1e90ff" stroke-opacity="0.5" stroke-width="0.8"/>
<circle cx="84.2" cy="681.9" r="2.7" fill="#1e90ff" fill-opacity="0.5" stroke="#1e90ff" stroke-opacity="0.5" stroke-width="0.8"/>
<circle cx="56.8" cy="703.2" r="2.7" fill="#1e90ff" fill-opacity="0.5" stroke="#1e90ff" stroke-opacity="0.5" stroke-width="0.8"/>
<circle cx="77.5" cy="680.4" r="2.7" fill="#1e90ff" fill-opacity="0.5" stroke="#1e90ff" stroke-opacity="0.5" stroke-width="0.8"/>
<circle cx="76.1" cy="684.3" r="2.7" fill="#1e90ff" fill-opacity="0.5" stroke="#1e90ff" stroke-opacity="0.5" stroke-width="0.8"/>
<circle cx="84.7" cy="673.2" r="2.7" fill="#1e90ff" fill-opacity="0.5" stroke="#1e90ff" stroke-opacity="0.5" stroke-width="0.8"/>
<circle cx="76.9" cy="682.7" r="2.7" fill="#1e90ff" fill-opacity="0.5" stroke="#1e90ff" stroke-opacity="0.5" stroke-width="0.8"/>
<circle cx="72.2" cy="695.2" r="2.7" fill="#1e90ff" fill-opacity="0.5" stroke="#1e90ff" stroke-opacity="0.5" stroke-width="0.8"/>
<circle cx="84.6" cy="685.7" r="2.7" fill="#1e90ff" fill-opacity="0.5" stroke="#1e90ff" stroke-opacity="0.5" stroke-width="0.8"/>
<circle cx="79.3" cy="685.3" r="2.7" fill="#1e90ff" fill-opacity="0.5" stroke="#1e90ff" stroke-opacity="0.5" stroke-width="0.8"/>
<circle cx="83.5" cy="682.4" r="2.7" fill="#1e90ff" fill-opacity="0.5" stroke="#1e90ff" stroke-opacity="0.5" stroke-width="0.8"/>
<circle cx="82.8" cy="680.4" r="2.7" fill="#1e90ff" fill-opacity="0.5" stroke="#1e90ff" stroke-opacity="0.5" stroke-width="0.8"/>
<circle cx="52.6" cy="709.5" r="2.7" fill="#1e90ff" fill-opacity="0.5" stroke="#1e90ff" stroke-opacity="0.5" stroke-width="0.8"/>
<circle cx="54.8" cy="709.0" r="2.7" fill="#1e90ff" fill-opacity="0.5" stroke="#1e90ff" stroke-opacity="0.5" stroke-width="0.8"/>
<circle cx="77.5" cy="690.3" r="2.7" fill="#1e90ff" fill-opacity="0.5" stroke="#1e90ff" stroke-opacity="0.5" stroke-width="0.8"/>
<circle cx="67.5" cy="693.6" r="2.7" fill="#1e90ff" fill-opacity="0.5" stroke="#1e90ff" stroke-opacity="0.5" stroke-width="0.8"/>
<circle cx="52.1" cy="705.9" r="2.7" fill="#1e90ff" fill-opacity="0.5" stroke="#1e90ff" stroke-opacity="0.5" stroke-width="0.8"/>
<circle cx="78.5" cy="688.7" r="2.7" fill="#1e90ff" fill-opacity="0.5" stroke="#1e90ff" stroke-opacity="0.5" stroke-width="0.8"/>
<circle cx="46.5" cy="718.4" r="2.7" fill="#1e90ff" fill-opacity="0.5" stroke="#1e90ff" stroke-opacity="0.5" stroke-width="0.8"/>
<circle cx="82.6" cy="678.9" r="2.7" fill="#1e90ff" fill-opacity="0.5" stroke="#1e90ff" stroke-opacity="0.5" stroke-width="0.8"/>
<circle cx="41.5" cy="721.5" r="2.7" fill="#1e90ff" fill-opacity="0.5" stroke="#1e90ff" stroke-opacity="0.5" stroke-width="0.8"/>
<circle cx="50.9" cy="717.8" r="2.7" fill="#1e90ff" fill-opacity="0.5" stroke="#1e90ff" stroke-opacity="0.5" stroke-width="0.8"/>
<circle cx="78.5" cy="685.6" r="2.7" fill="#1e90ff" fill-opacity="0.5" stroke="#1e90ff" stroke-opacity="0.5" stroke-width="0.8"/>
<circle cx="78.3" cy="691.2" r="2.7" fill="#1e90ff" fill-opacity="0.5" stroke="#1e90ff" stroke-opacity="0.5" stroke-width="0.8"/>
<circle cx="79.9" cy="678.3" r="2.7" fill="#1e90ff" fill-opacity="0.5" stroke="#1e90ff" stroke-opacity="0.5" stroke-width="0.8"/>
<circle cx="69.7" cy="694.7" r="2.7" fill="#0f3cf5" fill-opacity="0.5" stroke="#0f3cf5" stroke-opacity="0.5" stroke-width="0.8"/>
<circle cx="82.8" cy="679.9" r="2.7" fill="#0f3cf5" fill-opacity="0.5" stroke="#0f3cf5" stroke-opacity="0.5" stroke-width="0.8"/>
<circle cx="66.8" cy="691.5" r="2.7" fill="#0f3cf5" fill-opacity="0.5" stroke="#0f3cf5" stroke-opacity="0.5" stroke-width="0.8"/>
<circle cx="72.4" cy="691.4" r="2.7" fill="#0f3cf5" fill-opacity="0.5" stroke="#0f3cf5" stroke-opacity="0.5" stroke-width="0.8"/>
<circle cx="71.2" cy="695.3" r="2.7" fill="#0f3cf5" fill-opacity="0.5" stroke="#0f3cf5" stroke-opacity="0.5" stroke-width="0.8"/>
<circle cx="69.0" cy="693.0" r="2.7" fill="#0f3cf5" fill-opacity="0.5" stroke="#0f3cf5" stroke-opacity="0.5" stroke-width="0.8"/>
<circle cx="56.6" cy="706.5" r="2.7" fill="#0f3cf5" fill-opacity="0.5" stroke="#0f3cf5" stroke-opacity="0.5" stroke-width="0.8"/>
<circle cx="58.4" cy="704.8" r="2.7" fill="#0f3cf5" fill-opacity="0.5" stroke="#0f3cf5" stroke-opacity="0.5" stroke-width="0.8"/>
<circle cx="57.6" cy="706.8" r="2.7" fill="#0f3cf5" fill-opacity="0.5" stroke="#0f3cf5" stroke-opacity="0.5" stroke-width="0.8"/>
<circle cx="82.1" cy="680.0" r="2.7" fill="#0f3cf5" fill-opacity="0.5" stroke="#0f3cf5" stroke-opacity="0.5" stroke-width="0.8"/>
<circle cx="47.8" cy="715.0" r="2.7" fill="#0f3cf5" fill-opacity="0.5" stroke="#0f3cf5" stroke-opacity="0.5" stroke-width="0.8"/>
<circle cx="51.9" cy="712.9" r="2.7" fill="#0f3cf5" fill-opacity="0.5" stroke="#0f3cf5" stroke-opacity="0.5" stroke-width="0.8"/>
<circle cx="68.3" cy="693.4" r="2.7" fill="#0f3cf5" fill-opacity="0.5" stroke="#0f3cf5" stroke-opacity="0.5" stroke-width="0.8"/>
<circle cx="61.1" cy="702.1" r="2.7" fill="#0f3cf5" fill-opacity="0.5" stroke="#0f3cf5" stroke-opacity="0.5" stroke-width="0.8"/>
<circle cx="68.4" cy="698.8" r="2.7" fill="#0f3cf5" fill-opacity="0.5" stroke="#0f3cf5" stroke-opacity="0.5" stroke-width="0.8"/>
<circle cx="50.3" cy="716.3" r="2.7" fill="#0f3cf5" fill-opacity="0.5" stroke="#0f3cf5" stroke-opacity="0.5" stroke-width="0.8"/>
<circle cx="71.0" cy="691.5" r="2.7" fill="#0f3cf5" fill-opacity="0.5" stroke="#0f3cf5" stroke-opacity="0.5" stroke-width="0.8"/>
<circle cx="55.4" cy="703.5" r="2.7" fill="#0f3cf5" fill-opacity="0.5" stroke="#0f3cf5" stroke-opacity="0.5" stroke-width="0.8"/>
<circle cx="62.0" cy="699.8" r="2.7" fill="#0f3cf5" fill-opacity="0.5" stroke="#0f3cf5" stroke-opacity="0.5" stroke-width="0.8"/>
<circle cx="75.6" cy="691.2" r="2.7" fill="#0f3cf5" fill-opacity="0.5" stroke="#0f3cf5" stroke-opacity="0.5" stroke-width="0.8"/>
<circle cx="85.7" cy="678.6" r="2.7" fill="#0f3cf5" fill-opacity="0.5" stroke="#0f3cf5" stroke-opacity="0.5" stroke-width="0.8"/>
<circle cx="81.9" cy="681.0" r="2.7" fill="#0f3cf5" fill-opacity="0.5" stroke="#0f3cf5" stroke-opacity="0.5" stroke-width="0.8"/>
<circle cx="72.0" cy="690.6" r="2.7" fill="#0f3cf5" fill-opacity="0.5" stroke="#0f3cf5" stroke-opacity="0.5" stroke-width="0.8"/>
<circle cx="70.2" cy="690.7" r="2.7" fill="#0f3cf5" fill-opacity="0.5" stroke="#0f3cf5" stroke-opacity="0.5" stroke-width="0.8"/>
<circle cx="44.9" cy="718.2" r="2.7" fill="#0f3cf5" fill-opacity="0.5" stroke="#0f3cf5" stroke-opacity="0.5" stroke-width="0.8"/>
<circle cx="74.3" cy="679.1" r="2.7" fill="#0f3cf5" fill-opacity="0.5" stroke="#0f3cf5" stroke-opacity="0.5" stroke-width="0.8"/>
<circle cx="79.7" cy="682.0" r="2.7" fill="#0f3cf5" fill-opacity="0.5" stroke="#0f3cf5" stroke-opacity="0.5" stroke-width="0.8"/>
<circle cx="78.8" cy="681.4" r="2.7" fill="#0f3cf5" fill-opacity="0.5" stroke="#0f3cf5" stroke-opacity="0.5" stroke-width="0.8"/>
<circle cx="76.8" cy="683.5" r="2.7" fill="#0f3cf5" fill-opacity="0.5" stroke="#0f3cf5" stroke-opacity="0.5" stroke-width="0.8"/>
<circle cx="40.9" cy="720.2" r="2.7" fill="#0f3cf5" fill-opacity="0.5" stroke="#0f3cf5" stroke-opacity="0.5" stroke-width="0.8"/>
<circle cx="48.3" cy="716.3" r="2.7" fill="#0f3cf5" fill-opacity="0.5" stroke="#0f3cf5" stroke-opacity="0.5" stroke-width="0.8"/>
<circle cx="52.4" cy="709.2" r="2.7" fill="#0f3cf5" fill-opacity="0.5" stroke="#0f3cf5" stroke-opacity="0.5" stroke-width="0.8"/>
<circle cx="62.8" cy="697.6" r="2.7" fill="#0f3cf5" fill-opacity="0.5" stroke="#0f3cf5" stroke-opacity="0.5" stroke-width="0.8"/>
<circle cx="72.6" cy="689.6" r="2.7" fill="#0f3cf5" fill-opacity="0.5" stroke="#0f3cf5" stroke-opacity="0.5" stroke-width="0.8"/>
<circle cx="60.3" cy="703.3" r="2.7" fill="#0f3cf5" fill-opacity="0.5" stroke="#0f3cf5" stroke-opacity="0.5" stroke-width="0.8"/>
<circle cx="64.3" cy="701.8" r="2.7" fill="#0f3cf5" fill-opacity="0.5" stroke="#0f3cf5" stroke-opacity="0.5" stroke-width="0.8"/>
<circle cx="42.9" cy="717.3" r="2.7" fill="#0f3cf5" fill-opacity="0.5" stroke="#0f3cf5" stroke-opacity="0.5" stroke-width="0.8"/>
<circle cx="85.9" cy="679.5" r="2.7" fill="#0f3cf5" fill-opacity="0.5" stroke="#0f3cf5" stroke-opacity="0.5" stroke-width="0.8"/>
<circle cx="42.8" cy="721.1" r="2.7" fill="#0f3cf5" fill-opacity="0.5" stroke="#0f3cf5" stroke-opacity="0.5" stroke-width="0.8"/>
<circle cx="61.4" cy="701.8" r="2.7" fill="#0f3cf5" fill-opacity="0.5" stroke="#0f3cf5" stroke-opacity="0.5" stroke-width="0.8"/>
<circle cx="52.3" cy="710.7" r="2.7" fill="#0f3cf5" fill-opacity="0.5" stroke="#0f3cf5" stroke-opacity="0.5" stroke-width="0.8"/>
<circle cx="76.3" cy="680.1" r="2.7" fill="#0f3cf5" fill-opacity="0.5" stroke="#0f3cf5" stroke-opacity="0.5" stroke-width="0.8"/>
<circle cx="85.1" cy="675.8" r="2.7" fill="#0f3cf5" fill-opacity="0.5" stroke="#0f3cf5" stroke-opacity="0.5" stroke-width="0.8"/>
<circle cx="77.9" cy="683.4" r="2.7" fill="#0f3cf5" fill-opacity="0.5" stroke="#0f3cf5" stroke-opacity="0.5" stroke-width="0.8"/>
<circle cx="61.4" cy="702.3" r="2.7" fill="#0f3cf5" fill-opacity="0.5" stroke="#0f3cf5" stroke-opacity="0.5" stroke-width="0.8"/>
<circle cx="46.5" cy="717.7" r="2.7" fill="#0f3cf5" fill-opacity="0.5" stroke="#0f3cf5" stroke-opacity="0.5" stroke-width="0.8"/>
<circle cx="69.6" cy="688.4" r="2.7" fill="#0f3cf5" fill-opacity="0.5" stroke="#0f3cf5" stroke-opacity="0.5" stroke-width="0.8"/>
<circle cx="68.0" cy="703.4" r="2.7" fill="#0f3cf5" fill-opacity="0.5" stroke="#0f3cf5" stroke-opacity="0.5" stroke-width="0.8"/>
<circle cx="66.3" cy="699.8" r="2.7" fill="#0f3cf5" fill-opacity="0.5" stroke="#0f3cf5" stroke-opacity="0.5" stroke-width="0.8"/>
<circle cx="56.5" cy="711.0" r="2.7" fill="#0f3cf5" fill-opacity="0.5" stroke="#0f3cf5" stroke-opacity="0.5" stroke-width="0.8"/>
<circle cx="57.6" cy="707.9" r="2.7" fill="#0f3cf5" fill-opacity="0.5" stroke="#0f3cf5" stroke-opacity="0.5" stroke-width="0.8"/>
<circle cx="82.2" cy="678.7" r="2.7" fill="#0f3cf5" fill-opacity="0.5" stroke="#0f3cf5" stroke-opacity="0.5" stroke-width="0.8"/>
<circle cx="54.7" cy="713.5" r="2.7" fill="#0f3cf5" fill-opacity="0.5" stroke="#0f3cf5" stroke-opacity="0.5" stroke-width="0.8"/>
<circle cx="47.8" cy="714.4" r="2.7" fill="#0f3cf5" fill-opacity="0.5" stroke="#0f3cf5" stroke-opacity="0.5" stroke-width="0.8"/>
<circle cx="80.1" cy="686.7" r="2.7" fill="#0f3cf5" fill-opacity="0.5" stroke="#0f3cf5" stroke-opacity="0.5" stroke-width="0.8"/>
<circle cx="73.0" cy="689.4" r="2.7" fill="#0f3cf5" fill-opacity="0.5" stroke="#0f3cf5" stroke-opacity="0.5" stroke-width="0.8"/>
<circle cx="83.1" cy="673.3" r="2.7" fill="#0f3cf5" fill-opacity="0.5" stroke="#0f3cf5" stroke-opacity="0.5" stroke-width="0.8"/>
<circle cx="58.2" cy="703.1" r="2.7" fill="#0f3cf5" fill-opacity="0.5" stroke="#0f3cf5" stroke-opacity="0.5" stroke-width="0.8"/>
<circle cx="55.1" cy="708.1" r="2.7" fill="#0f3cf5" fill-opacity="0.5" stroke="#0f3cf5" stroke-opacity="0.5" stroke-width="0.8"/>
<circle cx="76.7" cy="687.4" r="2.7" fill="#0f3cf5" fill-opacity="0.5" stroke="#0f3cf5" stroke-opacity="0.5" stroke-width="0.8"/>
<circle cx="63.5" cy="701.2" r="2.7" fill="#0f3cf5" fill-opacity="0.5" stroke="#0f3cf5" stroke-opacity="0.5" stroke-width="0.8"/>
<circle cx="48.5" cy="712.3" r="2.7" fill="#0f3cf5" fill-opacity="0.5" stroke="#0f3cf5" stroke-opacity="0.5" stroke-width="0.8"/>
<circle cx="57.2" cy="705.6" r="2.7" fill="#0f3cf5" fill-opacity="0.5" stroke="#0f3cf5" stroke-opacity="0.5" stroke-width="0.8"/>
<circle cx="44.4" cy="719.0" r="2.7" fill="#0f3cf5" fill-opacity="0.5" stroke="#0f3cf5" stroke-opacity="0.5" stroke-width="0.8"/>
<circle cx="84.2" cy="678.3" r="2.7" fill="#0f3cf5" fill-opacity="0.5" stroke="#0f3cf5" stroke-opacity="0.5" stroke-width="0.8"/>
<circle cx="56.8" cy="702.7" r="2.7" fill="#0f3cf5" fill-opacity="0.5" stroke="#0f3cf5" stroke-opacity="0.5" stroke-width="0.8"/>
<circle cx="77.5" cy="679.1" r="2.7" fill="#0f3cf5" fill-opacity="0.5" stroke="#0f3cf5" stroke-opacity="0.5" stroke-width="0.8"/>
<circle cx="76.1" cy="685.6" r="2.7" fill="#0f3cf5" fill-opacity="0.5" stroke="#0f3cf5" stroke-opacity="0.5" stroke-width="0.8"/>
<circle cx="84.7" cy="674.3" r="2.7" fill="#0f3cf5" fill-opacity="0.5" stroke="#0f3cf5" stroke-opacity="0.5" stroke-width="0.8"/>
<circle cx="76.9" cy="681.7" r="2.7" fill="#0f3cf5" fill-opacity="0.5" stroke="#0f3cf5" stroke-opacity="0.5" stroke-width="0.8"/>
<circle cx="72.2" cy="696.1" r="2.7" fill="#0f3cf5" fill-opacity="0.5" stroke="#0f3cf5" stroke-opacity="0.5" stroke-width="0.8"/>
<circle cx="84.6" cy="685.0" r="2.7" fill="#0f3cf5" fill-opacity="0.5" stroke="#0f3cf5" stroke-opacity="0.5" stroke-width="0.8"/>
<circle cx="79.3" cy="690.2" r="2.7" fill="#0f3cf5" fill-opacity="0.5" stroke="#0f3cf5" stroke-opacity="0.5" stroke-width="0.8"/>
<circle cx="83.5" cy="678.2" r="2.7" fill="#0f3cf5" fill-opacity="0.5" stroke="#0f3cf5" stroke-opacity="0.5" stroke-width="0.8"/>
<circle cx="82.8" cy="685.1" r="2.7" fill="#0f3cf5" fill-opacity="0.5" stroke="#0f3cf5" stroke-opacity="0.5" stroke-width="0.8"/>
<circle cx="52.6" cy="711.2" r="2.7" fill="#0f3cf5" fill-opacity="0.5" stroke="#0f3cf5" stroke-opacity="0.5" stroke-width="0.8"/>
<circle cx="54.8" cy="706.4" r="2.7" fill="#0f3cf5" fill-opacity="0.5" stroke="#0f3cf5" stroke-opacity="0.5" stroke-width="0.8"/>
<circle cx="77.5" cy="689.1" r="2.7" fill="#0f3cf5" fill-opacity="0.5" stroke="#0f3cf5" stroke-opacity="0.5" stroke-width="0.8"/>
<circle cx="67.5" cy="691.6" r="2.7" fill="#0f3cf5" fill-opacity="0.5" stroke="#0f3cf5" stroke-opacity="0.5" stroke-width="0.8"/>
<circle cx="52.1" cy="712.6" r="2.7" fill="#0f3cf5" fill-opacity="0.5" stroke="#0f3cf5" stroke-opacity="0.5" stroke-width="0.8"/>
<circle cx="78.5" cy="686.5" r="2.7" fill="#0f3cf5" fill-opacity="0.5" stroke="#0f3cf5" stroke-opacity="0.5" stroke-width="0.8"/>
<circle cx="46.5" cy="717.6" r="2.7" fill="#0f3cf5" fill-opacity="0.5" stroke="#0f3cf5" stroke-opacity="0.5" stroke-width="0.8"/>
<circle cx="82.6" cy="678.9" r="2.7" fill="#0f3cf5" fill-opacity="0.5" stroke="#0f3cf5" stroke-opacity="0.5" stroke-width="0.8"/>
<circle cx="41.5" cy="720.0" r="2.7" fill="#0f3cf5" fill-opacity="0.5" stroke="#0f3cf5" stroke-opacity="0.5" stroke-width="0.8"/>
<circle cx="50.9" cy="718.5" r="2.7" fill="#0f3cf5" fill-opacity="0.5" stroke="#0f3cf5" stroke-opacity="0.5" stroke-width="0.8"/>
<circle cx="78.5" cy="683.8" r="2.7" fill="#0f3cf5" fill-opacity="0.5" stroke="#0f3cf5" stroke-opacity="0.5" stroke-width="0.8"/>
<circle cx="78.3" cy="684.3" r="2.7" fill="#0f3cf5" fill-opacity="0.5" stroke="#0f3cf5" stroke-opacity="0.5" stroke-width="0.8"/>
<circle cx="79.9" cy="677.8" r="2.7" fill="#0f3cf5" fill-opacity="0.5" stroke="#0f3cf5" stroke-opacity="0.5" stroke-width="0.8"/>
<circle cx="322.2" cy="496.9" r="2.7" fill="#1e90ff" fill-opacity="0.5" stroke="#1e90ff" stroke-opacity="0.5" stroke-width="0.8"/>
<circle cx="306.6" cy="505.2" r="2.7" fill="#1e90ff" fill-opacity="0.5" stroke="#1e90ff" stroke-opacity="0.5" stroke-width="0.8"/>
<circle cx="277.7" cy="486.1" r="2.7" fill="#1e90ff" fill-opacity="0.5" stroke="#1e90ff" stroke-opacity="0.5" stroke-width="0.8"/>
<circle cx="259.1" cy="523.3" r="2.7" fill="#1e90ff" fill-opacity="0.5" stroke="#1e90ff" stroke-opacity="0.5" stroke-width="0.8"/>
<circle cx="245.2" cy="530.7" r="2.7" fill="#1e90ff" fill-opacity="0.5" stroke="#1e90ff" stroke-opacity="0.5" stroke-width="0.8"/>
<circle cx="241.5" cy="546.8" r="2.7" fill="#1e90ff" fill-opacity="0.5" stroke="#1e90ff" stroke-opacity="0.5" stroke-width="0.8"/>
<circle cx="223.4" cy="547.5" r="2.7" fill="#1e90ff" fill-opacity="0.5" stroke="#1e90ff" stroke-opacity="0.5" stroke-width="0.8"/>
<circle cx="192.1" cy="590.8" r="2.7" fill="#1e90ff" fill-opacity="0.5" stroke="#1e90ff" stroke-opacity="0.5" stroke-width="0.8"/>
<circle cx="168.9" cy="584.0" r="2.7" fill="#1e90ff" fill-opacity="0.5" stroke="#1e90ff" stroke-opacity="0.5" stroke-width="0.8"/>
<circle cx="165.7" cy="594.3" r="2.7" fill="#1e90ff" fill-opacity="0.5" stroke="#1e90ff" stroke-opacity="0.5" stroke-width="0.8"/>
<circle cx="151.1" cy="605.5" r="2.7" fill="#1e90ff" fill-opacity="0.5" stroke="#1e90ff" stroke-opacity="0.5" stroke-width="0.8"/>
<circle cx="137.1" cy="623.1" r="2.7" fill="#1e90ff" fill-opacity="0.5" stroke="#1e90ff" stroke-opacity="0.5" stroke-width="0.8"/>
<circle cx="146.7" cy="614.8" r="2.7" fill="#1e90ff" fill-opacity="0.5" stroke="#1e90ff" stroke-opacity="0.5" stroke-width="0.8"/>
<circle cx="148.6" cy="629.3" r="2.7" fill="#1e90ff" fill-opacity="0.5" stroke="#1e90ff" stroke-opacity="0.5" stroke-width="0.8"/>
<circle cx="153.0" cy="617.8" r="2.7" fill="#1e90ff" fill-opacity="0.5" stroke="#1e90ff" stroke-opacity="0.5" stroke-width="0.8"/>
<circle cx="163.8" cy="615.8" r="2.7" fill="#1e90ff" fill-opacity="0.5" stroke="#1e90ff" stroke-opacity="0.5" stroke-width="0.8"/>
<circle cx="160.8" cy="621.7" r="2.7" fill="#1e90ff" fill-opacity="0.5" stroke="#1e90ff" stroke-opacity="0.5" stroke-width="0.8"/>
<circle cx="127.1" cy="620.7" r="2.7" fill="#1e90ff" fill-opacity="0.5" stroke="#1e90ff" stroke-opacity="0.5" stroke-width="0.8"/>
<circle cx="130.0" cy="628.5" r="2.7" fill="#1e90ff" fill-opacity="0.5" stroke="#1e90ff" stroke-opacity="0.5" stroke-width="0.8"/>
<circle cx="112.4" cy="639.8" r="2.7" fill="#1e90ff" fill-opacity="0.5" stroke="#1e90ff" stroke-opacity="0.5" stroke-width="0.8"/>
<circle cx="101.2" cy="663.8" r="2.7" fill="#1e90ff" fill-opacity="0.5" stroke="#1e90ff" stroke-opacity="0.5" stroke-width="0.8"/>
<circle cx="134.4" cy="634.6" r="2.7" fill="#1e90ff" fill-opacity="0.5" stroke="#1e90ff" stroke-opacity="0.5" stroke-width="0.8"/>
<circle cx="136.9" cy="646.1" r="2.7" fill="#1e90ff" fill-opacity="0.5" stroke="#1e90ff" stroke-opacity="0.5" stroke-width="0.8"/>
<circle cx="144.0" cy="641.2" r="2.7" fill="#1e90ff" fill-opacity="0.5" stroke="#1e90ff" stroke-opacity="0.5" stroke-width="0.8"/>
<circle cx="151.1" cy="651.5" r="2.7" fill="#1e90ff" fill-opacity="0.5" stroke="#1e90ff" stroke-opacity="0.5" stroke-width="0.8"/>
<circle cx="123.2" cy="657.4" r="2.7" fill="#1e90ff" fill-opacity="0.5" stroke="#1e90ff" stroke-opacity="0.5" stroke-width="0.8"/>
<circle cx="113.4" cy="657.4" r="2.7" fill="#1e90ff" fill-opacity="0.5" stroke="#1e90ff" stroke-opacity="0.5" stroke-width="0.8"/>
<circle cx="91.4" cy="655.4" r="2.7" fill="#1e90ff" fill-opacity="0.5" stroke="#1e90ff" stroke-opacity="0.5" stroke-width="0.8"/>
<circle cx="128.1" cy="641.2" r="2.7" fill="#1e90ff" fill-opacity="0.5" stroke="#1e90ff" stroke-opacity="0.5" stroke-width="0.8"/>
<circle cx="122.7" cy="646.6" r="2.7" fill="#1e90ff" fill-opacity="0.5" stroke="#1e90ff" stroke-opacity="0.5" stroke-width="0.8"/>
<circle cx="113.7" cy="639.8" r="2.7" fill="#1e90ff" fill-opacity="0.5" stroke="#1e90ff" stroke-opacity="0.5" stroke-width="0.8"/>
<circle cx="102.6" cy="642.2" r="2.7" fill="#1e90ff" fill-opacity="0.5" stroke="#1e90ff" stroke-opacity="0.5" stroke-width="0.8"/>
<circle cx="121.7" cy="646.6" r="2.7" fill="#1e90ff" fill-opacity="0.5" stroke="#1e90ff" stroke-opacity="0.5" stroke-width="0.8"/>
<circle cx="109.0" cy="647.1" r="2.7" fill="#1e90ff" fill-opacity="0.5" stroke="#1e90ff" stroke-opacity="0.5" stroke-width="0.8"/>
<circle cx="124.2" cy="657.4" r="2.7" fill="#1e90ff" fill-opacity="0.5" stroke="#1e90ff" stroke-opacity="0.5" stroke-width="0.8"/>
<circle cx="91.4" cy="654.9" r="2.7" fill="#1e90ff" fill-opacity="0.5" stroke="#1e90ff" stroke-opacity="0.5" stroke-width="0.8"/>
<circle cx="97.8" cy="655.4" r="2.7" fill="#1e90ff" fill-opacity="0.5" stroke="#1e90ff" stroke-opacity="0.5" stroke-width="0.8"/>
<circle cx="86.5" cy="659.4" r="2.7" fill="#1e90ff" fill-opacity="0.5" stroke="#1e90ff" stroke-opacity="0.5" stroke-width="0.8"/>
<circle cx="103.1" cy="670.6" r="2.7" fill="#1e90ff" fill-opacity="0.5" stroke="#1e90ff" stroke-opacity="0.5" stroke-width="0.8"/>
<circle cx="79.7" cy="672.6" r="2.7" fill="#1e90ff" fill-opacity="0.5" stroke="#1e90ff" stroke-opacity="0.5" stroke-width="0.8"/>
<circle cx="84.6" cy="684.8" r="2.7" fill="#1e90ff" fill-opacity="0.5" stroke="#1e90ff" stroke-opacity="0.5" stroke-width="0.8"/>
<circle cx="90.9" cy="669.6" r="2.7" fill="#1e90ff" fill-opacity="0.5" stroke="#1e90ff" stroke-opacity="0.5" stroke-width="0.8"/>
<circle cx="96.3" cy="672.6" r="2.7" fill="#1e90ff" fill-opacity="0.5" stroke="#1e90ff" stroke-opacity="0.5" stroke-width="0.8"/>
<circle cx="74.3" cy="677.0" r="2.7" fill="#1e90ff" fill-opacity="0.5" stroke="#1e90ff" stroke-opacity="0.5" stroke-width="0.8"/>
<circle cx="322.2" cy="470.0" r="2.7" fill="#6a2cd8" fill-opacity="0.5" stroke="#6a2cd8" stroke-opacity="0.5" stroke-width="0.8"/>
<circle cx="306.6" cy="500.8" r="2.7" fill="#6a2cd8" fill-opacity="0.5" stroke="#6a2cd8" stroke-opacity="0.5" stroke-width="0.8"/>
<circle cx="277.7" cy="494.4" r="2.7" fill="#6a2cd8" fill-opacity="0.5" stroke="#6a2cd8" stroke-opacity="0.5" stroke-width="0.8"/>
<circle cx="259.1" cy="508.6" r="2.7" fill="#6a2cd8" fill-opacity="0.5" stroke="#6a2cd8" stroke-opacity="0.5" stroke-width="0.8"/>
<circle cx="245.2" cy="530.7" r="2.7" fill="#6a2cd8" fill-opacity="0.5" stroke="#6a2cd8" stroke-opacity="0.5" stroke-width="0.8"/>
<circle cx="241.5" cy="543.4" r="2.7" fill="#6a2cd8" fill-opacity="0.5" stroke="#6a2cd8" stroke-opacity="0.5" stroke-width="0.8"/>
<circle cx="223.4" cy="536.0" r="2.7" fill="#6a2cd8" fill-opacity="0.5" stroke="#6a2cd8" stroke-opacity="0.5" stroke-width="0.8"/>
<circle cx="195.1" cy="557.3" r="2.7" fill="#6a2cd8" fill-opacity="0.5" stroke="#6a2cd8" stroke-opacity="0.5" stroke-width="0.8"/>
<circle cx="192.1" cy="571.3" r="2.7" fill="#6a2cd8" fill-opacity="0.5" stroke="#6a2cd8" stroke-opacity="0.5" stroke-width="0.8"/>
<circle cx="192.1" cy="565.4" r="2.7" fill="#6a2cd8" fill-opacity="0.5" stroke="#6a2cd8" stroke-opacity="0.5" stroke-width="0.8"/>
<circle cx="168.9" cy="574.2" r="2.7" fill="#6a2cd8" fill-opacity="0.5" stroke="#6a2cd8" stroke-opacity="0.5" stroke-width="0.8"/>
<circle cx="165.7" cy="598.7" r="2.7" fill="#6a2cd8" fill-opacity="0.5" stroke="#6a2cd8" stroke-opacity="0.5" stroke-width="0.8"/>
<circle cx="168.9" cy="604.5" r="2.7" fill="#6a2cd8" fill-opacity="0.5" stroke="#6a2cd8" stroke-opacity="0.5" stroke-width="0.8"/>
<circle cx="151.1" cy="608.5" r="2.7" fill="#6a2cd8" fill-opacity="0.5" stroke="#6a2cd8" stroke-opacity="0.5" stroke-width="0.8"/>
<circle cx="137.1" cy="617.3" r="2.7" fill="#6a2cd8" fill-opacity="0.5" stroke="#6a2cd8" stroke-opacity="0.5" stroke-width="0.8"/>
<circle cx="146.7" cy="623.6" r="2.7" fill="#6a2cd8" fill-opacity="0.5" stroke="#6a2cd8" stroke-opacity="0.5" stroke-width="0.8"/>
<circle cx="148.6" cy="617.0" r="2.7" fill="#6a2cd8" fill-opacity="0.5" stroke="#6a2cd8" stroke-opacity="0.5" stroke-width="0.8"/>
<circle cx="153.0" cy="622.2" r="2.7" fill="#6a2cd8" fill-opacity="0.5" stroke="#6a2cd8" stroke-opacity="0.5" stroke-width="0.8"/>
<circle cx="163.8" cy="625.1" r="2.7" fill="#6a2cd8" fill-opacity="0.5" stroke="#6a2cd8" stroke-opacity="0.5" stroke-width="0.8"/>
<circle cx="160.8" cy="618.7" r="2.7" fill="#6a2cd8" fill-opacity="0.5" stroke="#6a2cd8" stroke-opacity="0.5" stroke-width="0.8"/>
<circle cx="127.1" cy="620.7" r="2.7" fill="#6a2cd8" fill-opacity="0.5" stroke="#6a2cd8" stroke-opacity="0.5" stroke-width="0.8"/>
<circle cx="130.0" cy="631.5" r="2.7" fill="#6a2cd8" fill-opacity="0.5" stroke="#6a2cd8" stroke-opacity="0.5" stroke-width="0.8"/>
<circle cx="121.2" cy="635.6" r="2.7" fill="#6a2cd8" fill-opacity="0.5" stroke="#6a2cd8" stroke-opacity="0.5" stroke-width="0.8"/>
<circle cx="112.4" cy="647.6" r="2.7" fill="#6a2cd8" fill-opacity="0.5" stroke="#6a2cd8" stroke-opacity="0.5" stroke-width="0.8"/>
<circle cx="101.2" cy="641.2" r="2.7" fill="#6a2cd8" fill-opacity="0.5" stroke="#6a2cd8" stroke-opacity="0.5" stroke-width="0.8"/>
<circle cx="134.4" cy="639.8" r="2.7" fill="#6a2cd8" fill-opacity="0.5" stroke="#6a2cd8" stroke-opacity="0.5" stroke-width="0.8"/>
<circle cx="136.9" cy="646.1" r="2.7" fill="#6a2cd8" fill-opacity="0.5" stroke="#6a2cd8" stroke-opacity="0.5" stroke-width="0.8"/>
<circle cx="144.0" cy="647.6" r="2.7" fill="#6a2cd8" fill-opacity="0.5" stroke="#6a2cd8" stroke-opacity="0.5" stroke-width="0.8"/>
<circle cx="151.1" cy="648.1" r="2.7" fill="#6a2cd8" fill-opacity="0.5" stroke="#6a2cd8" stroke-opacity="0.5" stroke-width="0.8"/>
<circle cx="123.2" cy="664.7" r="2.7" fill="#6a2cd8" fill-opacity="0.5" stroke="#6a2cd8" stroke-opacity="0.5" stroke-width="0.8"/>
<circle cx="113.4" cy="647.6" r="2.7" fill="#6a2cd8" fill-opacity="0.5" stroke="#6a2cd8" stroke-opacity="0.5" stroke-width="0.8"/>
<circle cx="91.4" cy="655.4" r="2.7" fill="#6a2cd8" fill-opacity="0.5" stroke="#6a2cd8" stroke-opacity="0.5" stroke-width="0.8"/>
<circle cx="128.1" cy="621.2" r="2.7" fill="#6a2cd8" fill-opacity="0.5" stroke="#6a2cd8" stroke-opacity="0.5" stroke-width="0.8"/>
<circle cx="122.7" cy="637.8" r="2.7" fill="#6a2cd8" fill-opacity="0.5" stroke="#6a2cd8" stroke-opacity="0.5" stroke-width="0.8"/>
<circle cx="113.7" cy="648.6" r="2.7" fill="#6a2cd8" fill-opacity="0.5" stroke="#6a2cd8" stroke-opacity="0.5" stroke-width="0.8"/>
<circle cx="102.6" cy="642.2" r="2.7" fill="#6a2cd8" fill-opacity="0.5" stroke="#6a2cd8" stroke-opacity="0.5" stroke-width="0.8"/>
<circle cx="109.0" cy="647.1" r="2.7" fill="#6a2cd8" fill-opacity="0.5" stroke="#6a2cd8" stroke-opacity="0.5" stroke-width="0.8"/>
<circle cx="124.2" cy="666.2" r="2.7" fill="#6a2cd8" fill-opacity="0.5" stroke="#6a2cd8" stroke-opacity="0.5" stroke-width="0.8"/>
<circle cx="91.4" cy="654.9" r="2.7" fill="#6a2cd8" fill-opacity="0.5" stroke="#6a2cd8" stroke-opacity="0.5" stroke-width="0.8"/>
<circle cx="97.8" cy="655.4" r="2.7" fill="#6a2cd8" fill-opacity="0.5" stroke="#6a2cd8" stroke-opacity="0.5" stroke-width="0.8"/>
<circle cx="86.5" cy="659.4" r="2.7" fill="#6a2cd8" fill-opacity="0.5" stroke="#6a2cd8" stroke-opacity="0.5" stroke-width="0.8"/>
<circle cx="103.1" cy="675.5" r="2.7" fill="#6a2cd8" fill-opacity="0.5" stroke="#6a2cd8" stroke-opacity="0.5" stroke-width="0.8"/>
<circle cx="79.7" cy="679.9" r="2.7" fill="#6a2cd8" fill-opacity="0.5" stroke="#6a2cd8" stroke-opacity="0.5" stroke-width="0.8"/>
<circle cx="84.6" cy="669.6" r="2.7" fill="#6a2cd8" fill-opacity="0.5" stroke="#6a2cd8" stroke-opacity="0.5" stroke-width="0.8"/>
<circle cx="90.9" cy="674.5" r="2.7" fill="#6a2cd8" fill-opacity="0.5" stroke="#6a2cd8" stroke-opacity="0.5" stroke-width="0.8"/>
<circle cx="96.3" cy="677.0" r="2.7" fill="#6a2cd8" fill-opacity="0.5" stroke="#6a2cd8" stroke-opacity="0.5" stroke-width="0.8"/>
<circle cx="74.3" cy="679.9" r="2.7" fill="#6a2cd8" fill-opacity="0.5" stroke="#6a2cd8" stroke-opacity="0.5" stroke-width="0.8"/>
<circle cx="322.2" cy="453.1" r="2.7" fill="#1818f0" fill-opacity="0.5" stroke="#1818f0" stroke-opacity="0.5" stroke-width="0.8"/>
<circle cx="306.6" cy="500.8" r="2.7" fill="#1818f0" fill-opacity="0.5" stroke="#1818f0" stroke-opacity="0.5" stroke-width="0.8"/>
<circle cx="277.7" cy="481.2" r="2.7" fill="#1818f0" fill-opacity="0.5" stroke="#1818f0" stroke-opacity="0.5" stroke-width="0.8"/>
<circle cx="259.1" cy="508.6" r="2.7" fill="#1818f0" fill-opacity="0.5" stroke="#1818f0" stroke-opacity="0.5" stroke-width="0.8"/>
<circle cx="245.2" cy="540.9" r="2.7" fill="#1818f0" fill-opacity="0.5" stroke="#1818f0" stroke-opacity="0.5" stroke-width="0.8"/>
<circle cx="241.5" cy="545.3" r="2.7" fill="#1818f0" fill-opacity="0.5" stroke="#1818f0" stroke-opacity="0.5" stroke-width="0.8"/>
<circle cx="223.4" cy="549.0" r="2.7" fill="#1818f0" fill-opacity="0.5" stroke="#1818f0" stroke-opacity="0.5" stroke-width="0.8"/>
<circle cx="223.4" cy="536.0" r="2.7" fill="#1818f0" fill-opacity="0.5" stroke="#1818f0" stroke-opacity="0.5" stroke-width="0.8"/>
<circle cx="195.1" cy="557.3" r="2.7" fill="#1818f0" fill-opacity="0.5" stroke="#1818f0" stroke-opacity="0.5" stroke-width="0.8"/>
<circle cx="192.1" cy="565.4" r="2.7" fill="#1818f0" fill-opacity="0.5" stroke="#1818f0" stroke-opacity="0.5" stroke-width="0.8"/>
<circle cx="159.9" cy="566.1" r="2.7" fill="#1818f0" fill-opacity="0.5" stroke="#1818f0" stroke-opacity="0.5" stroke-width="0.8"/>
<circle cx="168.9" cy="574.2" r="2.7" fill="#1818f0" fill-opacity="0.5" stroke="#1818f0" stroke-opacity="0.5" stroke-width="0.8"/>
<circle cx="159.9" cy="594.8" r="2.7" fill="#1818f0" fill-opacity="0.5" stroke="#1818f0" stroke-opacity="0.5" stroke-width="0.8"/>
<circle cx="165.7" cy="594.3" r="2.7" fill="#1818f0" fill-opacity="0.5" stroke="#1818f0" stroke-opacity="0.5" stroke-width="0.8"/>
<circle cx="160.8" cy="604.5" r="2.7" fill="#1818f0" fill-opacity="0.5" stroke="#1818f0" stroke-opacity="0.5" stroke-width="0.8"/>
<circle cx="146.2" cy="602.1" r="2.7" fill="#1818f0" fill-opacity="0.5" stroke="#1818f0" stroke-opacity="0.5" stroke-width="0.8"/>
<circle cx="151.1" cy="605.5" r="2.7" fill="#1818f0" fill-opacity="0.5" stroke="#1818f0" stroke-opacity="0.5" stroke-width="0.8"/>
<circle cx="137.1" cy="617.0" r="2.7" fill="#1818f0" fill-opacity="0.5" stroke="#1818f0" stroke-opacity="0.5" stroke-width="0.8"/>
<circle cx="141.5" cy="622.2" r="2.7" fill="#1818f0" fill-opacity="0.5" stroke="#1818f0" stroke-opacity="0.5" stroke-width="0.8"/>
<circle cx="146.7" cy="614.8" r="2.7" fill="#1818f0" fill-opacity="0.5" stroke="#1818f0" stroke-opacity="0.5" stroke-width="0.8"/>
<circle cx="148.6" cy="617.0" r="2.7" fill="#1818f0" fill-opacity="0.5" stroke="#1818f0" stroke-opacity="0.5" stroke-width="0.8"/>
<circle cx="153.0" cy="617.8" r="2.7" fill="#1818f0" fill-opacity="0.5" stroke="#1818f0" stroke-opacity="0.5" stroke-width="0.8"/>
<circle cx="143.7" cy="618.7" r="2.7" fill="#1818f0" fill-opacity="0.5" stroke="#1818f0" stroke-opacity="0.5" stroke-width="0.8"/>
<circle cx="163.8" cy="615.8" r="2.7" fill="#1818f0" fill-opacity="0.5" stroke="#1818f0" stroke-opacity="0.5" stroke-width="0.8"/>
<circle cx="160.8" cy="618.7" r="2.7" fill="#1818f0" fill-opacity="0.5" stroke="#1818f0" stroke-opacity="0.5" stroke-width="0.8"/>
<circle cx="139.8" cy="630.5" r="2.7" fill="#1818f0" fill-opacity="0.5" stroke="#1818f0" stroke-opacity="0.5" stroke-width="0.8"/>
<circle cx="127.1" cy="629.0" r="2.7" fill="#1818f0" fill-opacity="0.5" stroke="#1818f0" stroke-opacity="0.5" stroke-width="0.8"/>
<circle cx="126.1" cy="628.0" r="2.7" fill="#1818f0" fill-opacity="0.5" stroke="#1818f0" stroke-opacity="0.5" stroke-width="0.8"/>
<circle cx="130.0" cy="628.5" r="2.7" fill="#1818f0" fill-opacity="0.5" stroke="#1818f0" stroke-opacity="0.5" stroke-width="0.8"/>
<circle cx="121.2" cy="635.6" r="2.7" fill="#1818f0" fill-opacity="0.5" stroke="#1818f0" stroke-opacity="0.5" stroke-width="0.8"/>
<circle cx="112.4" cy="639.8" r="2.7" fill="#1818f0" fill-opacity="0.5" stroke="#1818f0" stroke-opacity="0.5" stroke-width="0.8"/>
<circle cx="101.2" cy="641.2" r="2.7" fill="#1818f0" fill-opacity="0.5" stroke="#1818f0" stroke-opacity="0.5" stroke-width="0.8"/>
<circle cx="134.4" cy="634.6" r="2.7" fill="#1818f0" fill-opacity="0.5" stroke="#1818f0" stroke-opacity="0.5" stroke-width="0.8"/>
<circle cx="134.4" cy="639.8" r="2.7" fill="#1818f0" fill-opacity="0.5" stroke="#1818f0" stroke-opacity="0.5" stroke-width="0.8"/>
<circle cx="127.6" cy="639.8" r="2.7" fill="#1818f0" fill-opacity="0.5" stroke="#1818f0" stroke-opacity="0.5" stroke-width="0.8"/>
<circle cx="121.2" cy="644.7" r="2.7" fill="#1818f0" fill-opacity="0.5" stroke="#1818f0" stroke-opacity="0.5" stroke-width="0.8"/>
<circle cx="125.6" cy="647.6" r="2.7" fill="#1818f0" fill-opacity="0.5" stroke="#1818f0" stroke-opacity="0.5" stroke-width="0.8"/>
<circle cx="136.9" cy="642.7" r="2.7" fill="#1818f0" fill-opacity="0.5" stroke="#1818f0" stroke-opacity="0.5" stroke-width="0.8"/>
<circle cx="144.0" cy="647.6" r="2.7" fill="#1818f0" fill-opacity="0.5" stroke="#1818f0" stroke-opacity="0.5" stroke-width="0.8"/>
<circle cx="151.1" cy="648.1" r="2.7" fill="#1818f0" fill-opacity="0.5" stroke="#1818f0" stroke-opacity="0.5" stroke-width="0.8"/>
<circle cx="123.2" cy="661.8" r="2.7" fill="#1818f0" fill-opacity="0.5" stroke="#1818f0" stroke-opacity="0.5" stroke-width="0.8"/>
<circle cx="113.4" cy="657.4" r="2.7" fill="#1818f0" fill-opacity="0.5" stroke="#1818f0" stroke-opacity="0.5" stroke-width="0.8"/>
<circle cx="104.1" cy="650.5" r="2.7" fill="#1818f0" fill-opacity="0.5" stroke="#1818f0" stroke-opacity="0.5" stroke-width="0.8"/>
<circle cx="104.1" cy="657.4" r="2.7" fill="#1818f0" fill-opacity="0.5" stroke="#1818f0" stroke-opacity="0.5" stroke-width="0.8"/>
<circle cx="91.4" cy="662.3" r="2.7" fill="#1818f0" fill-opacity="0.5" stroke="#1818f0" stroke-opacity="0.5" stroke-width="0.8"/>
<circle cx="96.3" cy="657.4" r="2.7" fill="#1818f0" fill-opacity="0.5" stroke="#1818f0" stroke-opacity="0.5" stroke-width="0.8"/>
<circle cx="107.5" cy="667.7" r="2.7" fill="#1818f0" fill-opacity="0.5" stroke="#1818f0" stroke-opacity="0.5" stroke-width="0.8"/>
<circle cx="93.4" cy="667.7" r="2.7" fill="#1818f0" fill-opacity="0.5" stroke="#1818f0" stroke-opacity="0.5" stroke-width="0.8"/>
<circle cx="128.1" cy="629.0" r="2.7" fill="#1818f0" fill-opacity="0.5" stroke="#1818f0" stroke-opacity="0.5" stroke-width="0.8"/>
<circle cx="122.7" cy="637.8" r="2.7" fill="#1818f0" fill-opacity="0.5" stroke="#1818f0" stroke-opacity="0.5" stroke-width="0.8"/>
<circle cx="113.7" cy="639.8" r="2.7" fill="#1818f0" fill-opacity="0.5" stroke="#1818f0" stroke-opacity="0.5" stroke-width="0.8"/>
<circle cx="102.6" cy="650.5" r="2.7" fill="#1818f0" fill-opacity="0.5" stroke="#1818f0" stroke-opacity="0.5" stroke-width="0.8"/>
<circle cx="121.7" cy="646.6" r="2.7" fill="#1818f0" fill-opacity="0.5" stroke="#1818f0" stroke-opacity="0.5" stroke-width="0.8"/>
<circle cx="109.0" cy="654.5" r="2.7" fill="#1818f0" fill-opacity="0.5" stroke="#1818f0" stroke-opacity="0.5" stroke-width="0.8"/>
<circle cx="115.9" cy="653.5" r="2.7" fill="#1818f0" fill-opacity="0.5" stroke="#1818f0" stroke-opacity="0.5" stroke-width="0.8"/>
<circle cx="106.8" cy="654.5" r="2.7" fill="#1818f0" fill-opacity="0.5" stroke="#1818f0" stroke-opacity="0.5" stroke-width="0.8"/>
<circle cx="113.9" cy="659.4" r="2.7" fill="#1818f0" fill-opacity="0.5" stroke="#1818f0" stroke-opacity="0.5" stroke-width="0.8"/>
<circle cx="124.2" cy="663.8" r="2.7" fill="#1818f0" fill-opacity="0.5" stroke="#1818f0" stroke-opacity="0.5" stroke-width="0.8"/>
<circle cx="91.4" cy="661.1" r="2.7" fill="#1818f0" fill-opacity="0.5" stroke="#1818f0" stroke-opacity="0.5" stroke-width="0.8"/>
<circle cx="97.8" cy="659.4" r="2.7" fill="#1818f0" fill-opacity="0.5" stroke="#1818f0" stroke-opacity="0.5" stroke-width="0.8"/>
<circle cx="86.5" cy="664.2" r="2.7" fill="#0f3cf5" fill-opacity="0.5" stroke="#0f3cf5" stroke-opacity="0.5" stroke-width="0.8"/>
<circle cx="103.6" cy="659.4" r="2.7" fill="#1818f0" fill-opacity="0.5" stroke="#1818f0" stroke-opacity="0.5" stroke-width="0.8"/>
<circle cx="105.3" cy="663.8" r="2.7" fill="#1818f0" fill-opacity="0.5" stroke="#1818f0" stroke-opacity="0.5" stroke-width="0.8"/>
<circle cx="109.0" cy="667.7" r="2.7" fill="#1818f0" fill-opacity="0.5" stroke="#1818f0" stroke-opacity="0.5" stroke-width="0.8"/>
<circle cx="103.1" cy="678.7" r="2.7" fill="#1818f0" fill-opacity="0.5" stroke="#1818f0" stroke-opacity="0.5" stroke-width="0.8"/>
<circle cx="110.5" cy="674.0" r="2.7" fill="#1818f0" fill-opacity="0.5" stroke="#1818f0" stroke-opacity="0.5" stroke-width="0.8"/>
<circle cx="79.7" cy="680.9" r="2.7" fill="#0f3cf5" fill-opacity="0.5" stroke="#0f3cf5" stroke-opacity="0.5" stroke-width="0.8"/>
<circle cx="84.6" cy="669.6" r="2.7" fill="#0f3cf5" fill-opacity="0.5" stroke="#0f3cf5" stroke-opacity="0.5" stroke-width="0.8"/>
<circle cx="90.9" cy="669.6" r="2.7" fill="#1818f0" fill-opacity="0.5" stroke="#1818f0" stroke-opacity="0.5" stroke-width="0.8"/>
<circle cx="90.9" cy="674.5" r="2.7" fill="#1818f0" fill-opacity="0.5" stroke="#1818f0" stroke-opacity="0.5" stroke-width="0.8"/>
<circle cx="96.3" cy="672.6" r="2.7" fill="#1818f0" fill-opacity="0.5" stroke="#1818f0" stroke-opacity="0.5" stroke-width="0.8"/>
<circle cx="86.5" cy="674.5" r="2.7" fill="#0f3cf5" fill-opacity="0.5" stroke="#0f3cf5" stroke-opacity="0.5" stroke-width="0.8"/>
<circle cx="93.8" cy="679.9" r="2.7" fill="#1818f0" fill-opacity="0.5" stroke="#1818f0" stroke-opacity="0.5" stroke-width="0.8"/>
<circle cx="74.3" cy="683.3" r="2.7" fill="#0f3cf5" fill-opacity="0.5" stroke="#0f3cf5" stroke-opacity="0.5" stroke-width="0.8"/>
<circle cx="76.7" cy="684.8" r="2.7" fill="#0f3cf5" fill-opacity="0.5" stroke="#0f3cf5" stroke-opacity="0.5" stroke-width="0.8"/>
</g>
<rect x="184.9" y="464.2" width="8.7" height="8.7" fill="#1e90ff" fill-opacity="0.72"/>
<rect x="184.9" y="488.1" width="8.7" height="8.7" fill="#6a2cd8" fill-opacity="0.72"/>
<rect x="184.9" y="469.8" width="8.7" height="8.7" fill="#1818f0" fill-opacity="0.72"/>
<path d="M71.4 581.4L76.9 586.9L71.4 592.4L65.9 586.9Z" fill="#1e90ff" fill-opacity="0.72"/>
<path d="M71.4 570.4L76.9 575.9L71.4 581.4L65.9 575.9Z" fill="#6a2cd8" fill-opacity="0.72"/>
<path d="M71.4 561.6L76.9 567.1L71.4 572.6L65.9 567.1Z" fill="#1818f0" fill-opacity="0.72"/>
<path d="M137.7 565.8L145.3 565.8L141.5 573.4Z" fill="#1e90ff" fill-opacity="0.72"/>
<path d="M137.7 573.3L145.3 573.3L141.5 580.9Z" fill="#6a2cd8" fill-opacity="0.72"/>
<path d="M137.7 562.1L145.3 562.1L141.5 569.7Z" fill="#1818f0" fill-opacity="0.72"/>
<circle cx="142.4" cy="571.8" r="13.1" fill="none" stroke="#000" stroke-width="2.7"/>
<path class="tm" d="M87.0 725.9v-3.3M87.0 432.3v3.3M38.1 677.0h3.3M331.5 677.0h-3.3"/>
<path class="tm" d="M135.9 725.9v-3.3M135.9 432.3v3.3M38.1 628.0h3.3M331.5 628.0h-3.3"/>
<path class="tm" d="M184.8 725.9v-3.3M184.8 432.3v3.3M38.1 579.1h3.3M331.5 579.1h-3.3"/>
<path class="tm" d="M233.7 725.9v-3.3M233.7 432.3v3.3M38.1 530.2h3.3M331.5 530.2h-3.3"/>
<path class="tm" d="M282.6 725.9v-3.3M282.6 432.3v3.3M38.1 481.2h3.3M331.5 481.2h-3.3"/>
<rect class="fr" style="stroke:#626262;stroke-width:1.4" x="38.1" y="432.3" width="293.4" height="293.6"/>
<text class="tk" text-anchor="middle" style="font-size:14.6px" transform="translate(38.1 740.8) scale(1.13 1)">0</text>
<text class="tk" text-anchor="end" style="font-size:14.6px" transform="translate(34.7 730.4) scale(1.13 1)">0</text>
<text class="tk" text-anchor="middle" style="font-size:14.6px" transform="translate(87.0 740.8) scale(1.13 1)">1</text>
<text class="tk" text-anchor="end" style="font-size:14.6px" transform="translate(34.7 681.5) scale(1.13 1)">1</text>
<text class="tk" text-anchor="middle" style="font-size:14.6px" transform="translate(135.9 740.8) scale(1.13 1)">2</text>
<text class="tk" text-anchor="end" style="font-size:14.6px" transform="translate(34.7 632.5) scale(1.13 1)">2</text>
<text class="tk" text-anchor="middle" style="font-size:14.6px" transform="translate(184.8 740.8) scale(1.13 1)">3</text>
<text class="tk" text-anchor="end" style="font-size:14.6px" transform="translate(34.7 583.6) scale(1.13 1)">3</text>
<text class="tk" text-anchor="middle" style="font-size:14.6px" transform="translate(233.7 740.8) scale(1.13 1)">4</text>
<text class="tk" text-anchor="end" style="font-size:14.6px" transform="translate(34.7 534.7) scale(1.13 1)">4</text>
<text class="tk" text-anchor="middle" style="font-size:14.6px" transform="translate(282.6 740.8) scale(1.13 1)">5</text>
<text class="tk" text-anchor="end" style="font-size:14.6px" transform="translate(34.7 485.7) scale(1.13 1)">5</text>
<text class="tk" text-anchor="middle" style="font-size:14.6px" transform="translate(331.5 740.8) scale(1.13 1)">6</text>
<text class="tk" text-anchor="end" style="font-size:14.6px" transform="translate(34.7 436.8) scale(1.13 1)">6</text>
<text class="ax" text-anchor="middle" x="175.6" y="759.2">Normalized reference coverage</text>
<text class="ax" text-anchor="middle" transform="translate(16.1 580.1) rotate(-90)">Normalized target coverage</text>
<text class="tt" text-anchor="middle" x="172.3" y="424.6">10 ng</text>
<text class="pl" style="font-size:30.2px" x="-0.8" y="416.7">c</text>
<text class="gn" style="font-size:16.4px" x="174.6" y="459.8">MET</text>
<text class="gn" style="font-size:16.4px" x="127.6" y="555">ALK</text>
<text class="gn" style="font-size:16.4px" x="53.1" y="556.4">MYC</text>
</g>
</svg></body></html>
